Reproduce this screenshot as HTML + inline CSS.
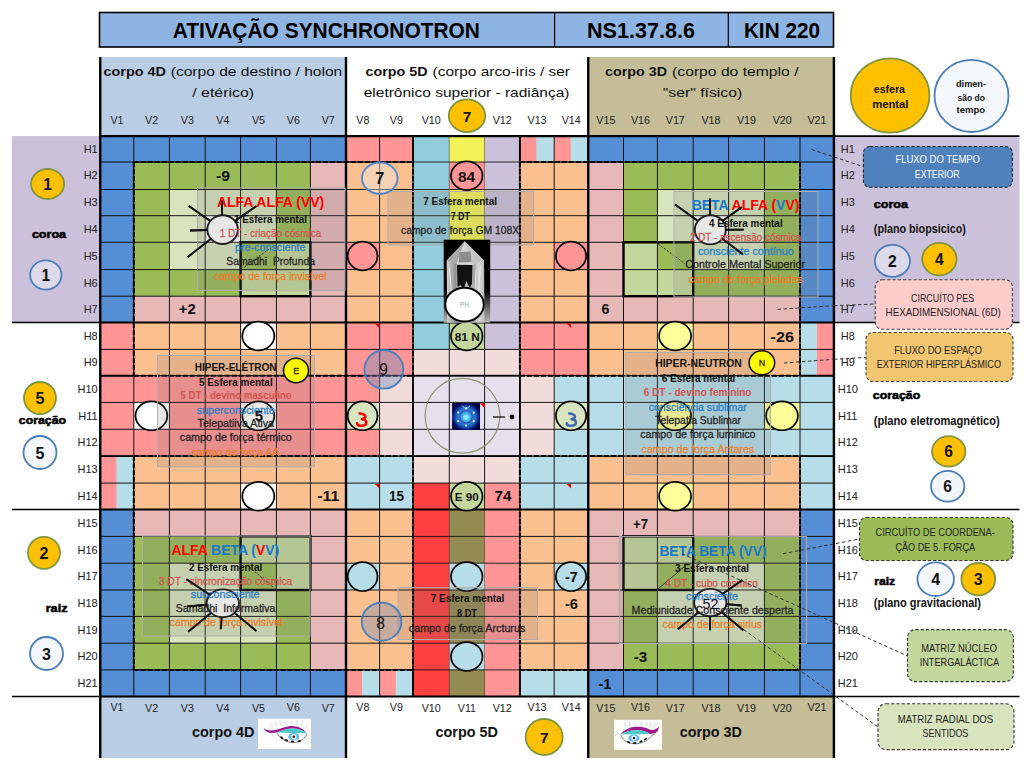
<!DOCTYPE html>
<html><head><meta charset="utf-8"><title>Ativação Synchronotron</title>
<style>html,body{margin:0;padding:0;background:#fff;}body{width:1024px;height:765px;overflow:hidden;font-family:"Liberation Sans",sans-serif;}svg{display:block}</style>
</head><body>
<svg width="1024" height="765" viewBox="0 0 1024 765" font-family="Liberation Sans, sans-serif">
<rect x="12.00" y="136.10" width="88.00" height="186.40" fill="#CCC1DA" />
<rect x="834.00" y="136.10" width="185.50" height="186.40" fill="#CCC1DA" />
<rect x="99.50" y="12.50" width="734.00" height="34.50" fill="#8EB4E3" stroke="#000" stroke-width="1.6"/>
<line x1="554.60" y1="12.50" x2="554.60" y2="47.00" stroke="#000" stroke-width="1.2" />
<line x1="728.30" y1="12.50" x2="728.30" y2="47.00" stroke="#000" stroke-width="1.2" />
<rect x="100.00" y="57.00" width="246.00" height="79.10" fill="#B9CDE5" />
<rect x="588.00" y="57.00" width="246.00" height="79.10" fill="#C4BD97" />
<rect x="100.00" y="696.50" width="246.00" height="61.50" fill="#B9CDE5" />
<rect x="588.00" y="696.50" width="246.00" height="61.50" fill="#C4BD97" />
<rect x="100.25" y="136.10" width="33.85" height="26.20" fill="#558ED5" />
<rect x="133.80" y="136.10" width="35.90" height="26.20" fill="#558ED5" />
<rect x="169.40" y="136.10" width="36.10" height="26.20" fill="#558ED5" />
<rect x="205.20" y="136.10" width="35.70" height="26.20" fill="#558ED5" />
<rect x="240.60" y="136.10" width="36.10" height="26.20" fill="#558ED5" />
<rect x="276.40" y="136.10" width="34.30" height="26.20" fill="#558ED5" />
<rect x="310.40" y="136.10" width="35.90" height="26.20" fill="#558ED5" />
<rect x="346.00" y="136.10" width="33.90" height="26.20" fill="#FF9595" />
<rect x="379.60" y="136.10" width="33.70" height="26.20" fill="#FF9595" />
<rect x="413.00" y="136.10" width="36.60" height="26.20" fill="#93CDDD" />
<rect x="449.30" y="136.10" width="35.60" height="26.20" fill="#F3F359" />
<rect x="484.60" y="136.10" width="35.60" height="26.20" fill="#CCC1DA" />
<rect x="519.90" y="136.10" width="16.94" height="26.20" fill="#FF9595" />
<rect x="536.54" y="136.10" width="17.96" height="26.20" fill="#B7DEE8" />
<rect x="554.20" y="136.10" width="16.81" height="26.20" fill="#FF9595" />
<rect x="570.71" y="136.10" width="17.84" height="26.20" fill="#B7DEE8" />
<rect x="588.25" y="136.10" width="35.55" height="26.20" fill="#558ED5" />
<rect x="623.50" y="136.10" width="34.20" height="26.20" fill="#558ED5" />
<rect x="657.40" y="136.10" width="36.10" height="26.20" fill="#558ED5" />
<rect x="693.20" y="136.10" width="35.70" height="26.20" fill="#558ED5" />
<rect x="728.60" y="136.10" width="36.10" height="26.20" fill="#558ED5" />
<rect x="764.40" y="136.10" width="35.90" height="26.20" fill="#558ED5" />
<rect x="800.00" y="136.10" width="34.20" height="26.20" fill="#558ED5" />
<rect x="100.25" y="162.00" width="33.85" height="27.80" fill="#558ED5" />
<rect x="133.80" y="162.00" width="35.90" height="27.80" fill="#9BBB59" />
<rect x="169.40" y="162.00" width="36.10" height="27.80" fill="#9BBB59" />
<rect x="205.20" y="162.00" width="35.70" height="27.80" fill="#9BBB59" />
<rect x="240.60" y="162.00" width="36.10" height="27.80" fill="#9BBB59" />
<rect x="276.40" y="162.00" width="34.30" height="27.80" fill="#9BBB59" />
<rect x="310.40" y="162.00" width="35.90" height="27.80" fill="#E6B9B8" />
<rect x="346.00" y="162.00" width="33.90" height="27.80" fill="#FAC090" />
<rect x="379.60" y="162.00" width="33.70" height="27.80" fill="#FAC090" />
<rect x="413.00" y="162.00" width="36.60" height="27.80" fill="#93CDDD" />
<rect x="449.30" y="162.00" width="35.60" height="27.80" fill="#FF9595" />
<rect x="484.60" y="162.00" width="35.60" height="27.80" fill="#CCC1DA" />
<rect x="519.90" y="162.00" width="34.60" height="27.80" fill="#FAC090" />
<rect x="554.20" y="162.00" width="34.35" height="27.80" fill="#FAC090" />
<rect x="588.25" y="162.00" width="35.55" height="27.80" fill="#E6B9B8" />
<rect x="623.50" y="162.00" width="34.20" height="27.80" fill="#9BBB59" />
<rect x="657.40" y="162.00" width="36.10" height="27.80" fill="#9BBB59" />
<rect x="693.20" y="162.00" width="35.70" height="27.80" fill="#9BBB59" />
<rect x="728.60" y="162.00" width="36.10" height="27.80" fill="#9BBB59" />
<rect x="764.40" y="162.00" width="35.90" height="27.80" fill="#9BBB59" />
<rect x="800.00" y="162.00" width="34.20" height="27.80" fill="#558ED5" />
<rect x="100.25" y="189.50" width="33.85" height="26.50" fill="#558ED5" />
<rect x="133.80" y="189.50" width="35.90" height="26.50" fill="#9BBB59" />
<rect x="169.40" y="189.50" width="36.10" height="26.50" fill="#D7E4BD" />
<rect x="205.20" y="189.50" width="35.70" height="26.50" fill="#D7E4BD" />
<rect x="240.60" y="189.50" width="36.10" height="26.50" fill="#D7E4BD" />
<rect x="276.40" y="189.50" width="34.30" height="26.50" fill="#9BBB59" />
<rect x="310.40" y="189.50" width="35.90" height="26.50" fill="#E6B9B8" />
<rect x="346.00" y="189.50" width="33.90" height="26.50" fill="#FAC090" />
<rect x="379.60" y="189.50" width="33.70" height="26.50" fill="#FAC090" />
<rect x="413.00" y="189.50" width="36.60" height="26.50" fill="#93CDDD" />
<rect x="449.30" y="189.50" width="35.60" height="26.50" fill="#F3F359" />
<rect x="484.60" y="189.50" width="35.60" height="26.50" fill="#CCC1DA" />
<rect x="519.90" y="189.50" width="34.60" height="26.50" fill="#FAC090" />
<rect x="554.20" y="189.50" width="34.35" height="26.50" fill="#FAC090" />
<rect x="588.25" y="189.50" width="35.55" height="26.50" fill="#E6B9B8" />
<rect x="623.50" y="189.50" width="34.20" height="26.50" fill="#9BBB59" />
<rect x="657.40" y="189.50" width="36.10" height="26.50" fill="#D7E4BD" />
<rect x="693.20" y="189.50" width="35.70" height="26.50" fill="#D7E4BD" />
<rect x="728.60" y="189.50" width="36.10" height="26.50" fill="#D7E4BD" />
<rect x="764.40" y="189.50" width="35.90" height="26.50" fill="#9BBB59" />
<rect x="800.00" y="189.50" width="34.20" height="26.50" fill="#558ED5" />
<rect x="100.25" y="215.70" width="33.85" height="26.90" fill="#558ED5" />
<rect x="133.80" y="215.70" width="35.90" height="26.90" fill="#9BBB59" />
<rect x="169.40" y="215.70" width="36.10" height="26.90" fill="#D7E4BD" />
<rect x="205.20" y="215.70" width="35.70" height="26.90" fill="#FFFFFF" />
<rect x="240.60" y="215.70" width="36.10" height="26.90" fill="#D7E4BD" />
<rect x="276.40" y="215.70" width="34.30" height="26.90" fill="#9BBB59" />
<rect x="310.40" y="215.70" width="35.90" height="26.90" fill="#E6B9B8" />
<rect x="346.00" y="215.70" width="33.90" height="26.90" fill="#FAC090" />
<rect x="379.60" y="215.70" width="33.70" height="26.90" fill="#FAC090" />
<rect x="413.00" y="215.70" width="36.60" height="26.90" fill="#93CDDD" />
<rect x="449.30" y="215.70" width="35.60" height="26.90" fill="#F3F359" />
<rect x="484.60" y="215.70" width="35.60" height="26.90" fill="#CCC1DA" />
<rect x="519.90" y="215.70" width="34.60" height="26.90" fill="#FAC090" />
<rect x="554.20" y="215.70" width="34.35" height="26.90" fill="#FAC090" />
<rect x="588.25" y="215.70" width="35.55" height="26.90" fill="#E6B9B8" />
<rect x="623.50" y="215.70" width="34.20" height="26.90" fill="#9BBB59" />
<rect x="657.40" y="215.70" width="36.10" height="26.90" fill="#D7E4BD" />
<rect x="693.20" y="215.70" width="35.70" height="26.90" fill="#FFFFFF" />
<rect x="728.60" y="215.70" width="36.10" height="26.90" fill="#D7E4BD" />
<rect x="764.40" y="215.70" width="35.90" height="26.90" fill="#9BBB59" />
<rect x="800.00" y="215.70" width="34.20" height="26.90" fill="#558ED5" />
<rect x="100.25" y="242.30" width="33.85" height="27.60" fill="#558ED5" />
<rect x="133.80" y="242.30" width="35.90" height="27.60" fill="#9BBB59" />
<rect x="169.40" y="242.30" width="36.10" height="27.60" fill="#D7E4BD" />
<rect x="205.20" y="242.30" width="35.70" height="27.60" fill="#D7E4BD" />
<rect x="240.60" y="242.30" width="36.10" height="27.60" fill="#9BBB59" />
<rect x="276.40" y="242.30" width="34.30" height="27.60" fill="#C3D69B" />
<rect x="310.40" y="242.30" width="35.90" height="27.60" fill="#E6B9B8" />
<rect x="346.00" y="242.30" width="33.90" height="27.60" fill="#FF9595" />
<rect x="379.60" y="242.30" width="33.70" height="27.60" fill="#FAC090" />
<rect x="413.00" y="242.30" width="36.60" height="27.60" fill="#93CDDD" />
<rect x="449.30" y="242.30" width="35.60" height="27.60" fill="#F3F359" />
<rect x="484.60" y="242.30" width="35.60" height="27.60" fill="#CCC1DA" />
<rect x="519.90" y="242.30" width="34.60" height="27.60" fill="#FAC090" />
<rect x="554.20" y="242.30" width="34.35" height="27.60" fill="#FF9595" />
<rect x="588.25" y="242.30" width="35.55" height="27.60" fill="#E6B9B8" />
<rect x="623.50" y="242.30" width="34.20" height="27.60" fill="#C3D69B" />
<rect x="657.40" y="242.30" width="36.10" height="27.60" fill="#9BBB59" />
<rect x="693.20" y="242.30" width="35.70" height="27.60" fill="#D7E4BD" />
<rect x="728.60" y="242.30" width="36.10" height="27.60" fill="#D7E4BD" />
<rect x="764.40" y="242.30" width="35.90" height="27.60" fill="#9BBB59" />
<rect x="800.00" y="242.30" width="34.20" height="27.60" fill="#558ED5" />
<rect x="100.25" y="269.60" width="33.85" height="26.90" fill="#558ED5" />
<rect x="133.80" y="269.60" width="35.90" height="26.90" fill="#9BBB59" />
<rect x="169.40" y="269.60" width="36.10" height="26.90" fill="#9BBB59" />
<rect x="205.20" y="269.60" width="35.70" height="26.90" fill="#9BBB59" />
<rect x="240.60" y="269.60" width="36.10" height="26.90" fill="#C3D69B" />
<rect x="276.40" y="269.60" width="34.30" height="26.90" fill="#C3D69B" />
<rect x="310.40" y="269.60" width="35.90" height="26.90" fill="#E6B9B8" />
<rect x="346.00" y="269.60" width="33.90" height="26.90" fill="#FAC090" />
<rect x="379.60" y="269.60" width="33.70" height="26.90" fill="#FAC090" />
<rect x="413.00" y="269.60" width="36.60" height="26.90" fill="#93CDDD" />
<rect x="449.30" y="269.60" width="35.60" height="26.90" fill="#F3F359" />
<rect x="484.60" y="269.60" width="35.60" height="26.90" fill="#CCC1DA" />
<rect x="519.90" y="269.60" width="34.60" height="26.90" fill="#FAC090" />
<rect x="554.20" y="269.60" width="34.35" height="26.90" fill="#FAC090" />
<rect x="588.25" y="269.60" width="35.55" height="26.90" fill="#E6B9B8" />
<rect x="623.50" y="269.60" width="34.20" height="26.90" fill="#C3D69B" />
<rect x="657.40" y="269.60" width="36.10" height="26.90" fill="#C3D69B" />
<rect x="693.20" y="269.60" width="35.70" height="26.90" fill="#9BBB59" />
<rect x="728.60" y="269.60" width="36.10" height="26.90" fill="#9BBB59" />
<rect x="764.40" y="269.60" width="35.90" height="26.90" fill="#9BBB59" />
<rect x="800.00" y="269.60" width="34.20" height="26.90" fill="#558ED5" />
<rect x="100.25" y="296.20" width="33.85" height="26.60" fill="#558ED5" />
<rect x="133.80" y="296.20" width="35.90" height="26.60" fill="#E6B9B8" />
<rect x="169.40" y="296.20" width="36.10" height="26.60" fill="#E6B9B8" />
<rect x="205.20" y="296.20" width="35.70" height="26.60" fill="#E6B9B8" />
<rect x="240.60" y="296.20" width="36.10" height="26.60" fill="#E6B9B8" />
<rect x="276.40" y="296.20" width="34.30" height="26.60" fill="#E6B9B8" />
<rect x="310.40" y="296.20" width="35.90" height="26.60" fill="#E6B9B8" />
<rect x="346.00" y="296.20" width="33.90" height="26.60" fill="#FAC090" />
<rect x="379.60" y="296.20" width="33.70" height="26.60" fill="#FAC090" />
<rect x="413.00" y="296.20" width="36.60" height="26.60" fill="#93CDDD" />
<rect x="449.30" y="296.20" width="35.60" height="26.60" fill="#F3F359" />
<rect x="484.60" y="296.20" width="35.60" height="26.60" fill="#CCC1DA" />
<rect x="519.90" y="296.20" width="34.60" height="26.60" fill="#FAC090" />
<rect x="554.20" y="296.20" width="34.35" height="26.60" fill="#FAC090" />
<rect x="588.25" y="296.20" width="35.55" height="26.60" fill="#E6B9B8" />
<rect x="623.50" y="296.20" width="34.20" height="26.60" fill="#E6B9B8" />
<rect x="657.40" y="296.20" width="36.10" height="26.60" fill="#E6B9B8" />
<rect x="693.20" y="296.20" width="35.70" height="26.60" fill="#E6B9B8" />
<rect x="728.60" y="296.20" width="36.10" height="26.60" fill="#E6B9B8" />
<rect x="764.40" y="296.20" width="35.90" height="26.60" fill="#E6B9B8" />
<rect x="800.00" y="296.20" width="34.20" height="26.60" fill="#558ED5" />
<rect x="100.25" y="322.50" width="33.85" height="27.20" fill="#FF9595" />
<rect x="133.80" y="322.50" width="35.90" height="27.20" fill="#FAC090" />
<rect x="169.40" y="322.50" width="36.10" height="27.20" fill="#FAC090" />
<rect x="205.20" y="322.50" width="35.70" height="27.20" fill="#FAC090" />
<rect x="240.60" y="322.50" width="36.10" height="27.20" fill="#FFFFFF" />
<rect x="276.40" y="322.50" width="34.30" height="27.20" fill="#FAC090" />
<rect x="310.40" y="322.50" width="35.90" height="27.20" fill="#FAC090" />
<rect x="346.00" y="322.50" width="33.90" height="27.20" fill="#FF9595" />
<rect x="379.60" y="322.50" width="33.70" height="27.20" fill="#FF9595" />
<rect x="413.00" y="322.50" width="36.60" height="27.20" fill="#93CDDD" />
<rect x="449.30" y="322.50" width="35.60" height="27.20" fill="#C3D69B" />
<rect x="484.60" y="322.50" width="35.60" height="27.20" fill="#CCC1DA" />
<rect x="519.90" y="322.50" width="34.60" height="27.20" fill="#FF9595" />
<rect x="554.20" y="322.50" width="34.35" height="27.20" fill="#FF9595" />
<rect x="588.25" y="322.50" width="35.55" height="27.20" fill="#FAC090" />
<rect x="623.50" y="322.50" width="34.20" height="27.20" fill="#FAC090" />
<rect x="657.40" y="322.50" width="36.10" height="27.20" fill="#FFFF99" />
<rect x="693.20" y="322.50" width="35.70" height="27.20" fill="#FAC090" />
<rect x="728.60" y="322.50" width="36.10" height="27.20" fill="#FAC090" />
<rect x="764.40" y="322.50" width="35.90" height="27.20" fill="#FAC090" />
<rect x="800.00" y="322.50" width="17.25" height="27.20" fill="#B7DEE8" />
<rect x="816.95" y="322.50" width="17.25" height="27.20" fill="#FF9595" />
<rect x="100.25" y="349.40" width="33.85" height="26.60" fill="#FF9595" />
<rect x="133.80" y="349.40" width="35.90" height="26.60" fill="#FAC090" />
<rect x="169.40" y="349.40" width="36.10" height="26.60" fill="#FAC090" />
<rect x="205.20" y="349.40" width="35.70" height="26.60" fill="#FAC090" />
<rect x="240.60" y="349.40" width="36.10" height="26.60" fill="#FAC090" />
<rect x="276.40" y="349.40" width="34.30" height="26.60" fill="#FAC090" />
<rect x="310.40" y="349.40" width="35.90" height="26.60" fill="#FAC090" />
<rect x="346.00" y="349.40" width="33.90" height="26.60" fill="#FF9595" />
<rect x="379.60" y="349.40" width="33.70" height="26.60" fill="#FF9595" />
<rect x="413.00" y="349.40" width="36.60" height="26.60" fill="#F2DCDB" />
<rect x="449.30" y="349.40" width="35.60" height="26.60" fill="#F2DCDB" />
<rect x="484.60" y="349.40" width="35.60" height="26.60" fill="#F2DCDB" />
<rect x="519.90" y="349.40" width="34.60" height="26.60" fill="#FF9595" />
<rect x="554.20" y="349.40" width="34.35" height="26.60" fill="#FF9595" />
<rect x="588.25" y="349.40" width="35.55" height="26.60" fill="#FAC090" />
<rect x="623.50" y="349.40" width="34.20" height="26.60" fill="#FAC090" />
<rect x="657.40" y="349.40" width="36.10" height="26.60" fill="#FAC090" />
<rect x="693.20" y="349.40" width="35.70" height="26.60" fill="#FAC090" />
<rect x="728.60" y="349.40" width="36.10" height="26.60" fill="#FAC090" />
<rect x="764.40" y="349.40" width="35.90" height="26.60" fill="#FAC090" />
<rect x="800.00" y="349.40" width="17.25" height="26.60" fill="#B7DEE8" />
<rect x="816.95" y="349.40" width="17.25" height="26.60" fill="#FF9595" />
<rect x="100.25" y="375.70" width="33.85" height="27.00" fill="#FF9595" />
<rect x="133.80" y="375.70" width="35.90" height="27.00" fill="#FF9595" />
<rect x="169.40" y="375.70" width="36.10" height="27.00" fill="#FF9595" />
<rect x="205.20" y="375.70" width="35.70" height="27.00" fill="#FF9595" />
<rect x="240.60" y="375.70" width="36.10" height="27.00" fill="#FF9595" />
<rect x="276.40" y="375.70" width="34.30" height="27.00" fill="#FF9595" />
<rect x="310.40" y="375.70" width="35.90" height="27.00" fill="#FF9595" />
<rect x="346.00" y="375.70" width="33.90" height="27.00" fill="#FF9595" />
<rect x="379.60" y="375.70" width="33.70" height="27.00" fill="#F2DCDB" />
<rect x="413.00" y="375.70" width="36.60" height="27.00" fill="#E6E0EC" />
<rect x="449.30" y="375.70" width="35.60" height="27.00" fill="#E6E0EC" />
<rect x="484.60" y="375.70" width="35.60" height="27.00" fill="#E6E0EC" />
<rect x="519.90" y="375.70" width="34.60" height="27.00" fill="#F2DCDB" />
<rect x="554.20" y="375.70" width="34.35" height="27.00" fill="#B7DEE8" />
<rect x="588.25" y="375.70" width="35.55" height="27.00" fill="#B7DEE8" />
<rect x="623.50" y="375.70" width="34.20" height="27.00" fill="#B7DEE8" />
<rect x="657.40" y="375.70" width="36.10" height="27.00" fill="#B7DEE8" />
<rect x="693.20" y="375.70" width="35.70" height="27.00" fill="#B7DEE8" />
<rect x="728.60" y="375.70" width="36.10" height="27.00" fill="#B7DEE8" />
<rect x="764.40" y="375.70" width="35.90" height="27.00" fill="#B7DEE8" />
<rect x="800.00" y="375.70" width="34.20" height="27.00" fill="#B7DEE8" />
<rect x="100.25" y="402.40" width="33.85" height="27.20" fill="#FF9595" />
<rect x="133.80" y="402.40" width="35.90" height="27.20" fill="#FFFFFF" />
<rect x="169.40" y="402.40" width="36.10" height="27.20" fill="#FF9595" />
<rect x="205.20" y="402.40" width="35.70" height="27.20" fill="#FF9595" />
<rect x="240.60" y="402.40" width="36.10" height="27.20" fill="#FFFFFF" />
<rect x="276.40" y="402.40" width="34.30" height="27.20" fill="#FF9595" />
<rect x="310.40" y="402.40" width="35.90" height="27.20" fill="#FF9595" />
<rect x="346.00" y="402.40" width="33.90" height="27.20" fill="#D7E4BD" />
<rect x="379.60" y="402.40" width="33.70" height="27.20" fill="#F2DCDB" />
<rect x="413.00" y="402.40" width="36.60" height="27.20" fill="#E6E0EC" />
<rect x="449.30" y="402.40" width="35.60" height="27.20" fill="#E6E0EC" />
<rect x="484.60" y="402.40" width="35.60" height="27.20" fill="#E6E0EC" />
<rect x="519.90" y="402.40" width="34.60" height="27.20" fill="#F2DCDB" />
<rect x="554.20" y="402.40" width="34.35" height="27.20" fill="#D7E4BD" />
<rect x="588.25" y="402.40" width="35.55" height="27.20" fill="#B7DEE8" />
<rect x="623.50" y="402.40" width="34.20" height="27.20" fill="#B7DEE8" />
<rect x="657.40" y="402.40" width="36.10" height="27.20" fill="#FFFF99" />
<rect x="693.20" y="402.40" width="35.70" height="27.20" fill="#B7DEE8" />
<rect x="728.60" y="402.40" width="36.10" height="27.20" fill="#B7DEE8" />
<rect x="764.40" y="402.40" width="35.90" height="27.20" fill="#FFFF99" />
<rect x="800.00" y="402.40" width="34.20" height="27.20" fill="#B7DEE8" />
<rect x="100.25" y="429.30" width="33.85" height="27.10" fill="#FF9595" />
<rect x="133.80" y="429.30" width="35.90" height="27.10" fill="#FF9595" />
<rect x="169.40" y="429.30" width="36.10" height="27.10" fill="#FF9595" />
<rect x="205.20" y="429.30" width="35.70" height="27.10" fill="#FF9595" />
<rect x="240.60" y="429.30" width="36.10" height="27.10" fill="#FF9595" />
<rect x="276.40" y="429.30" width="34.30" height="27.10" fill="#FF9595" />
<rect x="310.40" y="429.30" width="35.90" height="27.10" fill="#FF9595" />
<rect x="346.00" y="429.30" width="33.90" height="27.10" fill="#FF9595" />
<rect x="379.60" y="429.30" width="33.70" height="27.10" fill="#F2DCDB" />
<rect x="413.00" y="429.30" width="36.60" height="27.10" fill="#E6E0EC" />
<rect x="449.30" y="429.30" width="35.60" height="27.10" fill="#E6E0EC" />
<rect x="484.60" y="429.30" width="35.60" height="27.10" fill="#E6E0EC" />
<rect x="519.90" y="429.30" width="34.60" height="27.10" fill="#F2DCDB" />
<rect x="554.20" y="429.30" width="34.35" height="27.10" fill="#B7DEE8" />
<rect x="588.25" y="429.30" width="35.55" height="27.10" fill="#B7DEE8" />
<rect x="623.50" y="429.30" width="34.20" height="27.10" fill="#B7DEE8" />
<rect x="657.40" y="429.30" width="36.10" height="27.10" fill="#B7DEE8" />
<rect x="693.20" y="429.30" width="35.70" height="27.10" fill="#B7DEE8" />
<rect x="728.60" y="429.30" width="36.10" height="27.10" fill="#B7DEE8" />
<rect x="764.40" y="429.30" width="35.90" height="27.10" fill="#B7DEE8" />
<rect x="800.00" y="429.30" width="34.20" height="27.10" fill="#B7DEE8" />
<rect x="100.25" y="456.10" width="16.57" height="27.30" fill="#FF9595" />
<rect x="116.52" y="456.10" width="17.58" height="27.30" fill="#B7DEE8" />
<rect x="133.80" y="456.10" width="35.90" height="27.30" fill="#FAC090" />
<rect x="169.40" y="456.10" width="36.10" height="27.30" fill="#FAC090" />
<rect x="205.20" y="456.10" width="35.70" height="27.30" fill="#FAC090" />
<rect x="240.60" y="456.10" width="36.10" height="27.30" fill="#FAC090" />
<rect x="276.40" y="456.10" width="34.30" height="27.30" fill="#FAC090" />
<rect x="310.40" y="456.10" width="35.90" height="27.30" fill="#FAC090" />
<rect x="346.00" y="456.10" width="33.90" height="27.30" fill="#B7DEE8" />
<rect x="379.60" y="456.10" width="33.70" height="27.30" fill="#B7DEE8" />
<rect x="413.00" y="456.10" width="36.60" height="27.30" fill="#F2DCDB" />
<rect x="449.30" y="456.10" width="35.60" height="27.30" fill="#F2DCDB" />
<rect x="484.60" y="456.10" width="35.60" height="27.30" fill="#F2DCDB" />
<rect x="519.90" y="456.10" width="34.60" height="27.30" fill="#B7DEE8" />
<rect x="554.20" y="456.10" width="34.35" height="27.30" fill="#B7DEE8" />
<rect x="588.25" y="456.10" width="35.55" height="27.30" fill="#FAC090" />
<rect x="623.50" y="456.10" width="34.20" height="27.30" fill="#FAC090" />
<rect x="657.40" y="456.10" width="36.10" height="27.30" fill="#FAC090" />
<rect x="693.20" y="456.10" width="35.70" height="27.30" fill="#FAC090" />
<rect x="728.60" y="456.10" width="36.10" height="27.30" fill="#FAC090" />
<rect x="764.40" y="456.10" width="35.90" height="27.30" fill="#FAC090" />
<rect x="800.00" y="456.10" width="34.20" height="27.30" fill="#B7DEE8" />
<rect x="100.25" y="483.10" width="16.57" height="26.70" fill="#FF9595" />
<rect x="116.52" y="483.10" width="17.58" height="26.70" fill="#B7DEE8" />
<rect x="133.80" y="483.10" width="35.90" height="26.70" fill="#FAC090" />
<rect x="169.40" y="483.10" width="36.10" height="26.70" fill="#FAC090" />
<rect x="205.20" y="483.10" width="35.70" height="26.70" fill="#FAC090" />
<rect x="240.60" y="483.10" width="36.10" height="26.70" fill="#FFFFFF" />
<rect x="276.40" y="483.10" width="34.30" height="26.70" fill="#FAC090" />
<rect x="310.40" y="483.10" width="35.90" height="26.70" fill="#FAC090" />
<rect x="346.00" y="483.10" width="33.90" height="26.70" fill="#B7DEE8" />
<rect x="379.60" y="483.10" width="33.70" height="26.70" fill="#B7DEE8" />
<rect x="413.00" y="483.10" width="36.60" height="26.70" fill="#FF4040" />
<rect x="449.30" y="483.10" width="35.60" height="26.70" fill="#C3D69B" />
<rect x="484.60" y="483.10" width="35.60" height="26.70" fill="#FF9595" />
<rect x="519.90" y="483.10" width="34.60" height="26.70" fill="#B7DEE8" />
<rect x="554.20" y="483.10" width="34.35" height="26.70" fill="#B7DEE8" />
<rect x="588.25" y="483.10" width="35.55" height="26.70" fill="#FAC090" />
<rect x="623.50" y="483.10" width="34.20" height="26.70" fill="#FAC090" />
<rect x="657.40" y="483.10" width="36.10" height="26.70" fill="#FFFF99" />
<rect x="693.20" y="483.10" width="35.70" height="26.70" fill="#FAC090" />
<rect x="728.60" y="483.10" width="36.10" height="26.70" fill="#FAC090" />
<rect x="764.40" y="483.10" width="35.90" height="26.70" fill="#FAC090" />
<rect x="800.00" y="483.10" width="34.20" height="26.70" fill="#B7DEE8" />
<rect x="100.25" y="509.50" width="33.85" height="27.20" fill="#558ED5" />
<rect x="133.80" y="509.50" width="35.90" height="27.20" fill="#E6B9B8" />
<rect x="169.40" y="509.50" width="36.10" height="27.20" fill="#E6B9B8" />
<rect x="205.20" y="509.50" width="35.70" height="27.20" fill="#E6B9B8" />
<rect x="240.60" y="509.50" width="36.10" height="27.20" fill="#E6B9B8" />
<rect x="276.40" y="509.50" width="34.30" height="27.20" fill="#E6B9B8" />
<rect x="310.40" y="509.50" width="35.90" height="27.20" fill="#E6B9B8" />
<rect x="346.00" y="509.50" width="33.90" height="27.20" fill="#FAC090" />
<rect x="379.60" y="509.50" width="33.70" height="27.20" fill="#FAC090" />
<rect x="413.00" y="509.50" width="36.60" height="27.20" fill="#FF4040" />
<rect x="449.30" y="509.50" width="35.60" height="27.20" fill="#948A54" />
<rect x="484.60" y="509.50" width="35.60" height="27.20" fill="#FF9595" />
<rect x="519.90" y="509.50" width="34.60" height="27.20" fill="#FAC090" />
<rect x="554.20" y="509.50" width="34.35" height="27.20" fill="#FAC090" />
<rect x="588.25" y="509.50" width="35.55" height="27.20" fill="#E6B9B8" />
<rect x="623.50" y="509.50" width="34.20" height="27.20" fill="#E6B9B8" />
<rect x="657.40" y="509.50" width="36.10" height="27.20" fill="#E6B9B8" />
<rect x="693.20" y="509.50" width="35.70" height="27.20" fill="#E6B9B8" />
<rect x="728.60" y="509.50" width="36.10" height="27.20" fill="#E6B9B8" />
<rect x="764.40" y="509.50" width="35.90" height="27.20" fill="#E6B9B8" />
<rect x="800.00" y="509.50" width="34.20" height="27.20" fill="#558ED5" />
<rect x="100.25" y="536.40" width="33.85" height="27.10" fill="#558ED5" />
<rect x="133.80" y="536.40" width="35.90" height="27.10" fill="#9BBB59" />
<rect x="169.40" y="536.40" width="36.10" height="27.10" fill="#9BBB59" />
<rect x="205.20" y="536.40" width="35.70" height="27.10" fill="#9BBB59" />
<rect x="240.60" y="536.40" width="36.10" height="27.10" fill="#C3D69B" />
<rect x="276.40" y="536.40" width="34.30" height="27.10" fill="#C3D69B" />
<rect x="310.40" y="536.40" width="35.90" height="27.10" fill="#E6B9B8" />
<rect x="346.00" y="536.40" width="33.90" height="27.10" fill="#FAC090" />
<rect x="379.60" y="536.40" width="33.70" height="27.10" fill="#FAC090" />
<rect x="413.00" y="536.40" width="36.60" height="27.10" fill="#FF4040" />
<rect x="449.30" y="536.40" width="35.60" height="27.10" fill="#948A54" />
<rect x="484.60" y="536.40" width="35.60" height="27.10" fill="#FF9595" />
<rect x="519.90" y="536.40" width="34.60" height="27.10" fill="#FAC090" />
<rect x="554.20" y="536.40" width="34.35" height="27.10" fill="#FAC090" />
<rect x="588.25" y="536.40" width="35.55" height="27.10" fill="#E6B9B8" />
<rect x="623.50" y="536.40" width="34.20" height="27.10" fill="#C3D69B" />
<rect x="657.40" y="536.40" width="36.10" height="27.10" fill="#C3D69B" />
<rect x="693.20" y="536.40" width="35.70" height="27.10" fill="#9BBB59" />
<rect x="728.60" y="536.40" width="36.10" height="27.10" fill="#9BBB59" />
<rect x="764.40" y="536.40" width="35.90" height="27.10" fill="#9BBB59" />
<rect x="800.00" y="536.40" width="34.20" height="27.10" fill="#558ED5" />
<rect x="100.25" y="563.20" width="33.85" height="27.10" fill="#558ED5" />
<rect x="133.80" y="563.20" width="35.90" height="27.10" fill="#9BBB59" />
<rect x="169.40" y="563.20" width="36.10" height="27.10" fill="#D7E4BD" />
<rect x="205.20" y="563.20" width="35.70" height="27.10" fill="#D7E4BD" />
<rect x="240.60" y="563.20" width="36.10" height="27.10" fill="#9BBB59" />
<rect x="276.40" y="563.20" width="34.30" height="27.10" fill="#C3D69B" />
<rect x="310.40" y="563.20" width="35.90" height="27.10" fill="#E6B9B8" />
<rect x="346.00" y="563.20" width="33.90" height="27.10" fill="#B7DEE8" />
<rect x="379.60" y="563.20" width="33.70" height="27.10" fill="#FAC090" />
<rect x="413.00" y="563.20" width="36.60" height="27.10" fill="#FF4040" />
<rect x="449.30" y="563.20" width="35.60" height="27.10" fill="#B7DEE8" />
<rect x="484.60" y="563.20" width="35.60" height="27.10" fill="#FF9595" />
<rect x="519.90" y="563.20" width="34.60" height="27.10" fill="#FAC090" />
<rect x="554.20" y="563.20" width="34.35" height="27.10" fill="#B7DEE8" />
<rect x="588.25" y="563.20" width="35.55" height="27.10" fill="#E6B9B8" />
<rect x="623.50" y="563.20" width="34.20" height="27.10" fill="#C3D69B" />
<rect x="657.40" y="563.20" width="36.10" height="27.10" fill="#9BBB59" />
<rect x="693.20" y="563.20" width="35.70" height="27.10" fill="#D7E4BD" />
<rect x="728.60" y="563.20" width="36.10" height="27.10" fill="#D7E4BD" />
<rect x="764.40" y="563.20" width="35.90" height="27.10" fill="#9BBB59" />
<rect x="800.00" y="563.20" width="34.20" height="27.10" fill="#558ED5" />
<rect x="100.25" y="590.00" width="33.85" height="26.70" fill="#558ED5" />
<rect x="133.80" y="590.00" width="35.90" height="26.70" fill="#9BBB59" />
<rect x="169.40" y="590.00" width="36.10" height="26.70" fill="#D7E4BD" />
<rect x="205.20" y="590.00" width="35.70" height="26.70" fill="#FFFFFF" />
<rect x="240.60" y="590.00" width="36.10" height="26.70" fill="#D7E4BD" />
<rect x="276.40" y="590.00" width="34.30" height="26.70" fill="#9BBB59" />
<rect x="310.40" y="590.00" width="35.90" height="26.70" fill="#E6B9B8" />
<rect x="346.00" y="590.00" width="33.90" height="26.70" fill="#FAC090" />
<rect x="379.60" y="590.00" width="33.70" height="26.70" fill="#FAC090" />
<rect x="413.00" y="590.00" width="36.60" height="26.70" fill="#FF4040" />
<rect x="449.30" y="590.00" width="35.60" height="26.70" fill="#948A54" />
<rect x="484.60" y="590.00" width="35.60" height="26.70" fill="#FF9595" />
<rect x="519.90" y="590.00" width="34.60" height="26.70" fill="#FAC090" />
<rect x="554.20" y="590.00" width="34.35" height="26.70" fill="#FAC090" />
<rect x="588.25" y="590.00" width="35.55" height="26.70" fill="#E6B9B8" />
<rect x="623.50" y="590.00" width="34.20" height="26.70" fill="#9BBB59" />
<rect x="657.40" y="590.00" width="36.10" height="26.70" fill="#D7E4BD" />
<rect x="693.20" y="590.00" width="35.70" height="26.70" fill="#FFFFFF" />
<rect x="728.60" y="590.00" width="36.10" height="26.70" fill="#D7E4BD" />
<rect x="764.40" y="590.00" width="35.90" height="26.70" fill="#9BBB59" />
<rect x="800.00" y="590.00" width="34.20" height="26.70" fill="#558ED5" />
<rect x="100.25" y="616.40" width="33.85" height="27.10" fill="#558ED5" />
<rect x="133.80" y="616.40" width="35.90" height="27.10" fill="#9BBB59" />
<rect x="169.40" y="616.40" width="36.10" height="27.10" fill="#D7E4BD" />
<rect x="205.20" y="616.40" width="35.70" height="27.10" fill="#D7E4BD" />
<rect x="240.60" y="616.40" width="36.10" height="27.10" fill="#D7E4BD" />
<rect x="276.40" y="616.40" width="34.30" height="27.10" fill="#9BBB59" />
<rect x="310.40" y="616.40" width="35.90" height="27.10" fill="#E6B9B8" />
<rect x="346.00" y="616.40" width="33.90" height="27.10" fill="#FAC090" />
<rect x="379.60" y="616.40" width="33.70" height="27.10" fill="#FAC090" />
<rect x="413.00" y="616.40" width="36.60" height="27.10" fill="#FF4040" />
<rect x="449.30" y="616.40" width="35.60" height="27.10" fill="#948A54" />
<rect x="484.60" y="616.40" width="35.60" height="27.10" fill="#FF9595" />
<rect x="519.90" y="616.40" width="34.60" height="27.10" fill="#FAC090" />
<rect x="554.20" y="616.40" width="34.35" height="27.10" fill="#FAC090" />
<rect x="588.25" y="616.40" width="35.55" height="27.10" fill="#E6B9B8" />
<rect x="623.50" y="616.40" width="34.20" height="27.10" fill="#9BBB59" />
<rect x="657.40" y="616.40" width="36.10" height="27.10" fill="#D7E4BD" />
<rect x="693.20" y="616.40" width="35.70" height="27.10" fill="#D7E4BD" />
<rect x="728.60" y="616.40" width="36.10" height="27.10" fill="#D7E4BD" />
<rect x="764.40" y="616.40" width="35.90" height="27.10" fill="#9BBB59" />
<rect x="800.00" y="616.40" width="34.20" height="27.10" fill="#558ED5" />
<rect x="100.25" y="643.20" width="33.85" height="27.00" fill="#558ED5" />
<rect x="133.80" y="643.20" width="35.90" height="27.00" fill="#9BBB59" />
<rect x="169.40" y="643.20" width="36.10" height="27.00" fill="#9BBB59" />
<rect x="205.20" y="643.20" width="35.70" height="27.00" fill="#9BBB59" />
<rect x="240.60" y="643.20" width="36.10" height="27.00" fill="#9BBB59" />
<rect x="276.40" y="643.20" width="34.30" height="27.00" fill="#9BBB59" />
<rect x="310.40" y="643.20" width="35.90" height="27.00" fill="#E6B9B8" />
<rect x="346.00" y="643.20" width="33.90" height="27.00" fill="#FAC090" />
<rect x="379.60" y="643.20" width="33.70" height="27.00" fill="#FAC090" />
<rect x="413.00" y="643.20" width="36.60" height="27.00" fill="#FF4040" />
<rect x="449.30" y="643.20" width="35.60" height="27.00" fill="#B7DEE8" />
<rect x="484.60" y="643.20" width="35.60" height="27.00" fill="#FF9595" />
<rect x="519.90" y="643.20" width="34.60" height="27.00" fill="#FAC090" />
<rect x="554.20" y="643.20" width="34.35" height="27.00" fill="#FAC090" />
<rect x="588.25" y="643.20" width="35.55" height="27.00" fill="#E6B9B8" />
<rect x="623.50" y="643.20" width="34.20" height="27.00" fill="#9BBB59" />
<rect x="657.40" y="643.20" width="36.10" height="27.00" fill="#9BBB59" />
<rect x="693.20" y="643.20" width="35.70" height="27.00" fill="#9BBB59" />
<rect x="728.60" y="643.20" width="36.10" height="27.00" fill="#9BBB59" />
<rect x="764.40" y="643.20" width="35.90" height="27.00" fill="#9BBB59" />
<rect x="800.00" y="643.20" width="34.20" height="27.00" fill="#558ED5" />
<rect x="100.25" y="669.90" width="33.85" height="26.90" fill="#558ED5" />
<rect x="133.80" y="669.90" width="35.90" height="26.90" fill="#558ED5" />
<rect x="169.40" y="669.90" width="36.10" height="26.90" fill="#558ED5" />
<rect x="205.20" y="669.90" width="35.70" height="26.90" fill="#558ED5" />
<rect x="240.60" y="669.90" width="36.10" height="26.90" fill="#558ED5" />
<rect x="276.40" y="669.90" width="34.30" height="26.90" fill="#558ED5" />
<rect x="310.40" y="669.90" width="35.90" height="26.90" fill="#558ED5" />
<rect x="346.00" y="669.90" width="16.60" height="26.90" fill="#FF9595" />
<rect x="362.30" y="669.90" width="17.60" height="26.90" fill="#B7DEE8" />
<rect x="379.60" y="669.90" width="16.50" height="26.90" fill="#FF9595" />
<rect x="395.80" y="669.90" width="17.50" height="26.90" fill="#B7DEE8" />
<rect x="413.00" y="669.90" width="36.60" height="26.90" fill="#FF4040" />
<rect x="449.30" y="669.90" width="35.60" height="26.90" fill="#948A54" />
<rect x="484.60" y="669.90" width="35.60" height="26.90" fill="#FF9595" />
<rect x="519.90" y="669.90" width="34.60" height="26.90" fill="#B7DEE8" />
<rect x="554.20" y="669.90" width="34.35" height="26.90" fill="#B7DEE8" />
<rect x="588.25" y="669.90" width="35.55" height="26.90" fill="#558ED5" />
<rect x="623.50" y="669.90" width="34.20" height="26.90" fill="#558ED5" />
<rect x="657.40" y="669.90" width="36.10" height="26.90" fill="#558ED5" />
<rect x="693.20" y="669.90" width="35.70" height="26.90" fill="#558ED5" />
<rect x="728.60" y="669.90" width="36.10" height="26.90" fill="#558ED5" />
<rect x="764.40" y="669.90" width="35.90" height="26.90" fill="#558ED5" />
<rect x="800.00" y="669.90" width="34.20" height="26.90" fill="#558ED5" />
<line x1="100.25" y1="162.00" x2="133.80" y2="162.00" stroke="#000" stroke-width="1.0" opacity="0.9"/>
<line x1="133.80" y1="162.00" x2="169.40" y2="162.00" stroke="#000" stroke-width="1.0" opacity="0.9"/>
<line x1="169.40" y1="162.00" x2="205.20" y2="162.00" stroke="#000" stroke-width="1.0" opacity="0.9"/>
<line x1="205.20" y1="162.00" x2="240.60" y2="162.00" stroke="#000" stroke-width="1.0" opacity="0.9"/>
<line x1="240.60" y1="162.00" x2="276.40" y2="162.00" stroke="#000" stroke-width="1.0" opacity="0.9"/>
<line x1="276.40" y1="162.00" x2="310.40" y2="162.00" stroke="#000" stroke-width="1.0" opacity="0.9"/>
<line x1="310.40" y1="162.00" x2="346.00" y2="162.00" stroke="#000" stroke-width="1.0" opacity="0.9"/>
<line x1="346.00" y1="162.00" x2="379.60" y2="162.00" stroke="#000" stroke-width="1.0" opacity="0.9"/>
<line x1="379.60" y1="162.00" x2="413.00" y2="162.00" stroke="#000" stroke-width="1.0" opacity="0.9"/>
<line x1="413.00" y1="162.00" x2="449.30" y2="162.00" stroke="#000" stroke-width="0.9" opacity="0.88"/>
<line x1="449.30" y1="162.00" x2="484.60" y2="162.00" stroke="#000" stroke-width="0.9" opacity="0.88"/>
<line x1="484.60" y1="162.00" x2="519.90" y2="162.00" stroke="#000" stroke-width="0.9" opacity="0.88"/>
<line x1="519.90" y1="162.00" x2="554.20" y2="162.00" stroke="#000" stroke-width="1.0" opacity="0.9"/>
<line x1="554.20" y1="162.00" x2="588.25" y2="162.00" stroke="#000" stroke-width="1.0" opacity="0.9"/>
<line x1="588.25" y1="162.00" x2="623.50" y2="162.00" stroke="#000" stroke-width="1.0" opacity="0.9"/>
<line x1="623.50" y1="162.00" x2="657.40" y2="162.00" stroke="#000" stroke-width="1.0" opacity="0.9"/>
<line x1="657.40" y1="162.00" x2="693.20" y2="162.00" stroke="#000" stroke-width="1.0" opacity="0.9"/>
<line x1="693.20" y1="162.00" x2="728.60" y2="162.00" stroke="#000" stroke-width="1.0" opacity="0.9"/>
<line x1="728.60" y1="162.00" x2="764.40" y2="162.00" stroke="#000" stroke-width="1.0" opacity="0.9"/>
<line x1="764.40" y1="162.00" x2="800.00" y2="162.00" stroke="#000" stroke-width="1.0" opacity="0.9"/>
<line x1="800.00" y1="162.00" x2="833.90" y2="162.00" stroke="#000" stroke-width="1.0" opacity="0.9"/>
<line x1="100.25" y1="189.50" x2="133.80" y2="189.50" stroke="#000" stroke-width="1.0" opacity="0.9"/>
<line x1="133.80" y1="189.50" x2="169.40" y2="189.50" stroke="#000" stroke-width="1.0" opacity="0.9"/>
<line x1="169.40" y1="189.50" x2="205.20" y2="189.50" stroke="#000" stroke-width="1.0" opacity="0.9"/>
<line x1="205.20" y1="189.50" x2="240.60" y2="189.50" stroke="#000" stroke-width="1.0" opacity="0.9"/>
<line x1="240.60" y1="189.50" x2="276.40" y2="189.50" stroke="#000" stroke-width="1.0" opacity="0.9"/>
<line x1="276.40" y1="189.50" x2="310.40" y2="189.50" stroke="#000" stroke-width="1.0" opacity="0.9"/>
<line x1="310.40" y1="189.50" x2="346.00" y2="189.50" stroke="#000" stroke-width="1.0" opacity="0.9"/>
<line x1="346.00" y1="189.50" x2="379.60" y2="189.50" stroke="#000" stroke-width="1.0" opacity="0.9"/>
<line x1="379.60" y1="189.50" x2="413.00" y2="189.50" stroke="#000" stroke-width="1.0" opacity="0.9"/>
<line x1="413.00" y1="189.50" x2="449.30" y2="189.50" stroke="#000" stroke-width="0.9" opacity="0.88"/>
<line x1="449.30" y1="189.50" x2="484.60" y2="189.50" stroke="#000" stroke-width="0.9" opacity="0.88"/>
<line x1="484.60" y1="189.50" x2="519.90" y2="189.50" stroke="#000" stroke-width="0.9" opacity="0.88"/>
<line x1="519.90" y1="189.50" x2="554.20" y2="189.50" stroke="#000" stroke-width="1.0" opacity="0.9"/>
<line x1="554.20" y1="189.50" x2="588.25" y2="189.50" stroke="#000" stroke-width="1.0" opacity="0.9"/>
<line x1="588.25" y1="189.50" x2="623.50" y2="189.50" stroke="#000" stroke-width="1.0" opacity="0.9"/>
<line x1="623.50" y1="189.50" x2="657.40" y2="189.50" stroke="#000" stroke-width="1.0" opacity="0.9"/>
<line x1="657.40" y1="189.50" x2="693.20" y2="189.50" stroke="#000" stroke-width="1.0" opacity="0.9"/>
<line x1="693.20" y1="189.50" x2="728.60" y2="189.50" stroke="#000" stroke-width="1.0" opacity="0.9"/>
<line x1="728.60" y1="189.50" x2="764.40" y2="189.50" stroke="#000" stroke-width="1.0" opacity="0.9"/>
<line x1="764.40" y1="189.50" x2="800.00" y2="189.50" stroke="#000" stroke-width="1.0" opacity="0.9"/>
<line x1="800.00" y1="189.50" x2="833.90" y2="189.50" stroke="#000" stroke-width="1.0" opacity="0.9"/>
<line x1="100.25" y1="215.70" x2="133.80" y2="215.70" stroke="#000" stroke-width="1.0" opacity="0.9"/>
<line x1="133.80" y1="215.70" x2="169.40" y2="215.70" stroke="#000" stroke-width="1.0" opacity="0.9"/>
<line x1="169.40" y1="215.70" x2="205.20" y2="215.70" stroke="#000" stroke-width="1.0" opacity="0.9"/>
<line x1="205.20" y1="215.70" x2="240.60" y2="215.70" stroke="#000" stroke-width="1.0" opacity="0.9"/>
<line x1="240.60" y1="215.70" x2="276.40" y2="215.70" stroke="#000" stroke-width="1.0" opacity="0.9"/>
<line x1="276.40" y1="215.70" x2="310.40" y2="215.70" stroke="#000" stroke-width="1.0" opacity="0.9"/>
<line x1="310.40" y1="215.70" x2="346.00" y2="215.70" stroke="#000" stroke-width="1.0" opacity="0.9"/>
<line x1="346.00" y1="215.70" x2="379.60" y2="215.70" stroke="#000" stroke-width="1.0" opacity="0.9"/>
<line x1="379.60" y1="215.70" x2="413.00" y2="215.70" stroke="#000" stroke-width="1.0" opacity="0.9"/>
<line x1="413.00" y1="215.70" x2="449.30" y2="215.70" stroke="#000" stroke-width="0.9" opacity="0.88"/>
<line x1="449.30" y1="215.70" x2="484.60" y2="215.70" stroke="#000" stroke-width="0.9" opacity="0.88"/>
<line x1="484.60" y1="215.70" x2="519.90" y2="215.70" stroke="#000" stroke-width="0.9" opacity="0.88"/>
<line x1="519.90" y1="215.70" x2="554.20" y2="215.70" stroke="#000" stroke-width="1.0" opacity="0.9"/>
<line x1="554.20" y1="215.70" x2="588.25" y2="215.70" stroke="#000" stroke-width="1.0" opacity="0.9"/>
<line x1="588.25" y1="215.70" x2="623.50" y2="215.70" stroke="#000" stroke-width="1.0" opacity="0.9"/>
<line x1="623.50" y1="215.70" x2="657.40" y2="215.70" stroke="#000" stroke-width="1.0" opacity="0.9"/>
<line x1="657.40" y1="215.70" x2="693.20" y2="215.70" stroke="#000" stroke-width="1.0" opacity="0.9"/>
<line x1="693.20" y1="215.70" x2="728.60" y2="215.70" stroke="#000" stroke-width="1.0" opacity="0.9"/>
<line x1="728.60" y1="215.70" x2="764.40" y2="215.70" stroke="#000" stroke-width="1.0" opacity="0.9"/>
<line x1="764.40" y1="215.70" x2="800.00" y2="215.70" stroke="#000" stroke-width="1.0" opacity="0.9"/>
<line x1="800.00" y1="215.70" x2="833.90" y2="215.70" stroke="#000" stroke-width="1.0" opacity="0.9"/>
<line x1="100.25" y1="242.30" x2="133.80" y2="242.30" stroke="#000" stroke-width="1.0" opacity="0.9"/>
<line x1="133.80" y1="242.30" x2="169.40" y2="242.30" stroke="#000" stroke-width="1.0" opacity="0.9"/>
<line x1="169.40" y1="242.30" x2="205.20" y2="242.30" stroke="#000" stroke-width="1.0" opacity="0.9"/>
<line x1="205.20" y1="242.30" x2="240.60" y2="242.30" stroke="#000" stroke-width="1.0" opacity="0.9"/>
<line x1="240.60" y1="242.30" x2="276.40" y2="242.30" stroke="#000" stroke-width="1.0" opacity="0.9"/>
<line x1="276.40" y1="242.30" x2="310.40" y2="242.30" stroke="#000" stroke-width="1.0" opacity="0.9"/>
<line x1="310.40" y1="242.30" x2="346.00" y2="242.30" stroke="#000" stroke-width="1.0" opacity="0.9"/>
<line x1="346.00" y1="242.30" x2="379.60" y2="242.30" stroke="#000" stroke-width="1.0" opacity="0.9"/>
<line x1="379.60" y1="242.30" x2="413.00" y2="242.30" stroke="#000" stroke-width="1.0" opacity="0.9"/>
<line x1="413.00" y1="242.30" x2="449.30" y2="242.30" stroke="#000" stroke-width="0.9" opacity="0.88"/>
<line x1="449.30" y1="242.30" x2="484.60" y2="242.30" stroke="#000" stroke-width="0.9" opacity="0.88"/>
<line x1="484.60" y1="242.30" x2="519.90" y2="242.30" stroke="#000" stroke-width="0.9" opacity="0.88"/>
<line x1="519.90" y1="242.30" x2="554.20" y2="242.30" stroke="#000" stroke-width="1.0" opacity="0.9"/>
<line x1="554.20" y1="242.30" x2="588.25" y2="242.30" stroke="#000" stroke-width="1.0" opacity="0.9"/>
<line x1="588.25" y1="242.30" x2="623.50" y2="242.30" stroke="#000" stroke-width="1.0" opacity="0.9"/>
<line x1="623.50" y1="242.30" x2="657.40" y2="242.30" stroke="#000" stroke-width="1.0" opacity="0.9"/>
<line x1="657.40" y1="242.30" x2="693.20" y2="242.30" stroke="#000" stroke-width="1.0" opacity="0.9"/>
<line x1="693.20" y1="242.30" x2="728.60" y2="242.30" stroke="#000" stroke-width="1.0" opacity="0.9"/>
<line x1="728.60" y1="242.30" x2="764.40" y2="242.30" stroke="#000" stroke-width="1.0" opacity="0.9"/>
<line x1="764.40" y1="242.30" x2="800.00" y2="242.30" stroke="#000" stroke-width="1.0" opacity="0.9"/>
<line x1="800.00" y1="242.30" x2="833.90" y2="242.30" stroke="#000" stroke-width="1.0" opacity="0.9"/>
<line x1="100.25" y1="269.60" x2="133.80" y2="269.60" stroke="#000" stroke-width="1.0" opacity="0.9"/>
<line x1="133.80" y1="269.60" x2="169.40" y2="269.60" stroke="#000" stroke-width="1.0" opacity="0.9"/>
<line x1="169.40" y1="269.60" x2="205.20" y2="269.60" stroke="#000" stroke-width="1.0" opacity="0.9"/>
<line x1="205.20" y1="269.60" x2="240.60" y2="269.60" stroke="#000" stroke-width="1.0" opacity="0.9"/>
<line x1="240.60" y1="269.60" x2="276.40" y2="269.60" stroke="#000" stroke-width="1.0" opacity="0.9"/>
<line x1="276.40" y1="269.60" x2="310.40" y2="269.60" stroke="#000" stroke-width="1.0" opacity="0.9"/>
<line x1="310.40" y1="269.60" x2="346.00" y2="269.60" stroke="#000" stroke-width="1.0" opacity="0.9"/>
<line x1="346.00" y1="269.60" x2="379.60" y2="269.60" stroke="#000" stroke-width="1.0" opacity="0.9"/>
<line x1="379.60" y1="269.60" x2="413.00" y2="269.60" stroke="#000" stroke-width="1.0" opacity="0.9"/>
<line x1="413.00" y1="269.60" x2="449.30" y2="269.60" stroke="#000" stroke-width="0.9" opacity="0.88"/>
<line x1="449.30" y1="269.60" x2="484.60" y2="269.60" stroke="#000" stroke-width="0.9" opacity="0.88"/>
<line x1="484.60" y1="269.60" x2="519.90" y2="269.60" stroke="#000" stroke-width="0.9" opacity="0.88"/>
<line x1="519.90" y1="269.60" x2="554.20" y2="269.60" stroke="#000" stroke-width="1.0" opacity="0.9"/>
<line x1="554.20" y1="269.60" x2="588.25" y2="269.60" stroke="#000" stroke-width="1.0" opacity="0.9"/>
<line x1="588.25" y1="269.60" x2="623.50" y2="269.60" stroke="#000" stroke-width="1.0" opacity="0.9"/>
<line x1="623.50" y1="269.60" x2="657.40" y2="269.60" stroke="#000" stroke-width="1.0" opacity="0.9"/>
<line x1="657.40" y1="269.60" x2="693.20" y2="269.60" stroke="#000" stroke-width="1.0" opacity="0.9"/>
<line x1="693.20" y1="269.60" x2="728.60" y2="269.60" stroke="#000" stroke-width="1.0" opacity="0.9"/>
<line x1="728.60" y1="269.60" x2="764.40" y2="269.60" stroke="#000" stroke-width="1.0" opacity="0.9"/>
<line x1="764.40" y1="269.60" x2="800.00" y2="269.60" stroke="#000" stroke-width="1.0" opacity="0.9"/>
<line x1="800.00" y1="269.60" x2="833.90" y2="269.60" stroke="#000" stroke-width="1.0" opacity="0.9"/>
<line x1="100.25" y1="296.20" x2="133.80" y2="296.20" stroke="#000" stroke-width="1.0" opacity="0.9"/>
<line x1="133.80" y1="296.20" x2="169.40" y2="296.20" stroke="#000" stroke-width="1.0" opacity="0.9"/>
<line x1="169.40" y1="296.20" x2="205.20" y2="296.20" stroke="#000" stroke-width="1.0" opacity="0.9"/>
<line x1="205.20" y1="296.20" x2="240.60" y2="296.20" stroke="#000" stroke-width="1.0" opacity="0.9"/>
<line x1="240.60" y1="296.20" x2="276.40" y2="296.20" stroke="#000" stroke-width="1.0" opacity="0.9"/>
<line x1="276.40" y1="296.20" x2="310.40" y2="296.20" stroke="#000" stroke-width="1.0" opacity="0.9"/>
<line x1="310.40" y1="296.20" x2="346.00" y2="296.20" stroke="#000" stroke-width="1.0" opacity="0.9"/>
<line x1="346.00" y1="296.20" x2="379.60" y2="296.20" stroke="#000" stroke-width="1.0" opacity="0.9"/>
<line x1="379.60" y1="296.20" x2="413.00" y2="296.20" stroke="#000" stroke-width="1.0" opacity="0.9"/>
<line x1="413.00" y1="296.20" x2="449.30" y2="296.20" stroke="#000" stroke-width="0.9" opacity="0.88"/>
<line x1="449.30" y1="296.20" x2="484.60" y2="296.20" stroke="#000" stroke-width="0.9" opacity="0.88"/>
<line x1="484.60" y1="296.20" x2="519.90" y2="296.20" stroke="#000" stroke-width="0.9" opacity="0.88"/>
<line x1="519.90" y1="296.20" x2="554.20" y2="296.20" stroke="#000" stroke-width="1.0" opacity="0.9"/>
<line x1="554.20" y1="296.20" x2="588.25" y2="296.20" stroke="#000" stroke-width="1.0" opacity="0.9"/>
<line x1="588.25" y1="296.20" x2="623.50" y2="296.20" stroke="#000" stroke-width="1.0" opacity="0.9"/>
<line x1="623.50" y1="296.20" x2="657.40" y2="296.20" stroke="#000" stroke-width="1.0" opacity="0.9"/>
<line x1="657.40" y1="296.20" x2="693.20" y2="296.20" stroke="#000" stroke-width="1.0" opacity="0.9"/>
<line x1="693.20" y1="296.20" x2="728.60" y2="296.20" stroke="#000" stroke-width="1.0" opacity="0.9"/>
<line x1="728.60" y1="296.20" x2="764.40" y2="296.20" stroke="#000" stroke-width="1.0" opacity="0.9"/>
<line x1="764.40" y1="296.20" x2="800.00" y2="296.20" stroke="#000" stroke-width="1.0" opacity="0.9"/>
<line x1="800.00" y1="296.20" x2="833.90" y2="296.20" stroke="#000" stroke-width="1.0" opacity="0.9"/>
<line x1="100.25" y1="322.50" x2="133.80" y2="322.50" stroke="#000" stroke-width="1.0" opacity="0.9"/>
<line x1="133.80" y1="322.50" x2="169.40" y2="322.50" stroke="#000" stroke-width="1.0" opacity="0.9"/>
<line x1="169.40" y1="322.50" x2="205.20" y2="322.50" stroke="#000" stroke-width="1.0" opacity="0.9"/>
<line x1="205.20" y1="322.50" x2="240.60" y2="322.50" stroke="#000" stroke-width="1.0" opacity="0.9"/>
<line x1="240.60" y1="322.50" x2="276.40" y2="322.50" stroke="#000" stroke-width="1.0" opacity="0.9"/>
<line x1="276.40" y1="322.50" x2="310.40" y2="322.50" stroke="#000" stroke-width="1.0" opacity="0.9"/>
<line x1="310.40" y1="322.50" x2="346.00" y2="322.50" stroke="#000" stroke-width="1.0" opacity="0.9"/>
<line x1="346.00" y1="322.50" x2="379.60" y2="322.50" stroke="#000" stroke-width="1.0" opacity="0.9"/>
<line x1="379.60" y1="322.50" x2="413.00" y2="322.50" stroke="#000" stroke-width="1.0" opacity="0.9"/>
<line x1="413.00" y1="322.50" x2="449.30" y2="322.50" stroke="#000" stroke-width="1.0" opacity="0.9"/>
<line x1="449.30" y1="322.50" x2="484.60" y2="322.50" stroke="#000" stroke-width="1.0" opacity="0.9"/>
<line x1="484.60" y1="322.50" x2="519.90" y2="322.50" stroke="#000" stroke-width="1.0" opacity="0.9"/>
<line x1="519.90" y1="322.50" x2="554.20" y2="322.50" stroke="#000" stroke-width="1.0" opacity="0.9"/>
<line x1="554.20" y1="322.50" x2="588.25" y2="322.50" stroke="#000" stroke-width="1.0" opacity="0.9"/>
<line x1="588.25" y1="322.50" x2="623.50" y2="322.50" stroke="#000" stroke-width="1.0" opacity="0.9"/>
<line x1="623.50" y1="322.50" x2="657.40" y2="322.50" stroke="#000" stroke-width="1.0" opacity="0.9"/>
<line x1="657.40" y1="322.50" x2="693.20" y2="322.50" stroke="#000" stroke-width="1.0" opacity="0.9"/>
<line x1="693.20" y1="322.50" x2="728.60" y2="322.50" stroke="#000" stroke-width="1.0" opacity="0.9"/>
<line x1="728.60" y1="322.50" x2="764.40" y2="322.50" stroke="#000" stroke-width="1.0" opacity="0.9"/>
<line x1="764.40" y1="322.50" x2="800.00" y2="322.50" stroke="#000" stroke-width="1.0" opacity="0.9"/>
<line x1="800.00" y1="322.50" x2="833.90" y2="322.50" stroke="#000" stroke-width="1.0" opacity="0.9"/>
<line x1="100.25" y1="349.40" x2="133.80" y2="349.40" stroke="#000" stroke-width="1.0" opacity="0.9"/>
<line x1="133.80" y1="349.40" x2="169.40" y2="349.40" stroke="#000" stroke-width="1.0" opacity="0.9"/>
<line x1="169.40" y1="349.40" x2="205.20" y2="349.40" stroke="#000" stroke-width="1.0" opacity="0.9"/>
<line x1="205.20" y1="349.40" x2="240.60" y2="349.40" stroke="#000" stroke-width="1.0" opacity="0.9"/>
<line x1="240.60" y1="349.40" x2="276.40" y2="349.40" stroke="#000" stroke-width="1.0" opacity="0.9"/>
<line x1="276.40" y1="349.40" x2="310.40" y2="349.40" stroke="#000" stroke-width="1.0" opacity="0.9"/>
<line x1="310.40" y1="349.40" x2="346.00" y2="349.40" stroke="#000" stroke-width="1.0" opacity="0.9"/>
<line x1="346.00" y1="349.40" x2="379.60" y2="349.40" stroke="#000" stroke-width="1.0" opacity="0.9"/>
<line x1="379.60" y1="349.40" x2="413.00" y2="349.40" stroke="#000" stroke-width="1.0" opacity="0.9"/>
<line x1="413.00" y1="349.40" x2="449.30" y2="349.40" stroke="#000" stroke-width="1.0" opacity="0.9"/>
<line x1="449.30" y1="349.40" x2="484.60" y2="349.40" stroke="#000" stroke-width="1.0" opacity="0.9"/>
<line x1="484.60" y1="349.40" x2="519.90" y2="349.40" stroke="#000" stroke-width="1.0" opacity="0.9"/>
<line x1="519.90" y1="349.40" x2="554.20" y2="349.40" stroke="#000" stroke-width="1.0" opacity="0.9"/>
<line x1="554.20" y1="349.40" x2="588.25" y2="349.40" stroke="#000" stroke-width="1.0" opacity="0.9"/>
<line x1="588.25" y1="349.40" x2="623.50" y2="349.40" stroke="#000" stroke-width="1.0" opacity="0.9"/>
<line x1="623.50" y1="349.40" x2="657.40" y2="349.40" stroke="#000" stroke-width="1.0" opacity="0.9"/>
<line x1="657.40" y1="349.40" x2="693.20" y2="349.40" stroke="#000" stroke-width="1.0" opacity="0.9"/>
<line x1="693.20" y1="349.40" x2="728.60" y2="349.40" stroke="#000" stroke-width="1.0" opacity="0.9"/>
<line x1="728.60" y1="349.40" x2="764.40" y2="349.40" stroke="#000" stroke-width="1.0" opacity="0.9"/>
<line x1="764.40" y1="349.40" x2="800.00" y2="349.40" stroke="#000" stroke-width="1.0" opacity="0.9"/>
<line x1="800.00" y1="349.40" x2="833.90" y2="349.40" stroke="#000" stroke-width="1.0" opacity="0.9"/>
<line x1="100.25" y1="375.70" x2="133.80" y2="375.70" stroke="#000" stroke-width="1.0" opacity="0.9"/>
<line x1="133.80" y1="375.70" x2="169.40" y2="375.70" stroke="#000" stroke-width="1.0" opacity="0.9"/>
<line x1="169.40" y1="375.70" x2="205.20" y2="375.70" stroke="#000" stroke-width="1.0" opacity="0.9"/>
<line x1="205.20" y1="375.70" x2="240.60" y2="375.70" stroke="#000" stroke-width="1.0" opacity="0.9"/>
<line x1="240.60" y1="375.70" x2="276.40" y2="375.70" stroke="#000" stroke-width="1.0" opacity="0.9"/>
<line x1="276.40" y1="375.70" x2="310.40" y2="375.70" stroke="#000" stroke-width="1.0" opacity="0.9"/>
<line x1="310.40" y1="375.70" x2="346.00" y2="375.70" stroke="#000" stroke-width="1.0" opacity="0.9"/>
<line x1="346.00" y1="375.70" x2="379.60" y2="375.70" stroke="#000" stroke-width="1.0" opacity="0.9"/>
<line x1="379.60" y1="375.70" x2="413.00" y2="375.70" stroke="#000" stroke-width="1.0" opacity="0.9"/>
<line x1="413.00" y1="375.70" x2="449.30" y2="375.70" stroke="#000" stroke-width="1.0" opacity="0.9"/>
<line x1="449.30" y1="375.70" x2="484.60" y2="375.70" stroke="#000" stroke-width="1.0" opacity="0.9"/>
<line x1="484.60" y1="375.70" x2="519.90" y2="375.70" stroke="#000" stroke-width="1.0" opacity="0.9"/>
<line x1="519.90" y1="375.70" x2="554.20" y2="375.70" stroke="#000" stroke-width="1.0" opacity="0.9"/>
<line x1="554.20" y1="375.70" x2="588.25" y2="375.70" stroke="#000" stroke-width="1.0" opacity="0.9"/>
<line x1="588.25" y1="375.70" x2="623.50" y2="375.70" stroke="#000" stroke-width="1.0" opacity="0.9"/>
<line x1="623.50" y1="375.70" x2="657.40" y2="375.70" stroke="#000" stroke-width="1.0" opacity="0.9"/>
<line x1="657.40" y1="375.70" x2="693.20" y2="375.70" stroke="#000" stroke-width="1.0" opacity="0.9"/>
<line x1="693.20" y1="375.70" x2="728.60" y2="375.70" stroke="#000" stroke-width="1.0" opacity="0.9"/>
<line x1="728.60" y1="375.70" x2="764.40" y2="375.70" stroke="#000" stroke-width="1.0" opacity="0.9"/>
<line x1="764.40" y1="375.70" x2="800.00" y2="375.70" stroke="#000" stroke-width="1.0" opacity="0.9"/>
<line x1="800.00" y1="375.70" x2="833.90" y2="375.70" stroke="#000" stroke-width="1.0" opacity="0.9"/>
<line x1="100.25" y1="402.40" x2="133.80" y2="402.40" stroke="#000" stroke-width="1.0" opacity="0.9"/>
<line x1="133.80" y1="402.40" x2="169.40" y2="402.40" stroke="#000" stroke-width="1.0" opacity="0.9"/>
<line x1="169.40" y1="402.40" x2="205.20" y2="402.40" stroke="#000" stroke-width="1.0" opacity="0.9"/>
<line x1="205.20" y1="402.40" x2="240.60" y2="402.40" stroke="#000" stroke-width="1.0" opacity="0.9"/>
<line x1="240.60" y1="402.40" x2="276.40" y2="402.40" stroke="#000" stroke-width="1.0" opacity="0.9"/>
<line x1="276.40" y1="402.40" x2="310.40" y2="402.40" stroke="#000" stroke-width="1.0" opacity="0.9"/>
<line x1="310.40" y1="402.40" x2="346.00" y2="402.40" stroke="#000" stroke-width="1.0" opacity="0.9"/>
<line x1="346.00" y1="402.40" x2="379.60" y2="402.40" stroke="#000" stroke-width="1.0" opacity="0.9"/>
<line x1="379.60" y1="402.40" x2="413.00" y2="402.40" stroke="#000" stroke-width="1.0" opacity="0.9"/>
<line x1="413.00" y1="402.40" x2="449.30" y2="402.40" stroke="#000" stroke-width="1.0" opacity="0.9"/>
<line x1="449.30" y1="402.40" x2="484.60" y2="402.40" stroke="#000" stroke-width="1.0" opacity="0.9"/>
<line x1="484.60" y1="402.40" x2="519.90" y2="402.40" stroke="#000" stroke-width="1.0" opacity="0.9"/>
<line x1="519.90" y1="402.40" x2="554.20" y2="402.40" stroke="#000" stroke-width="1.0" opacity="0.9"/>
<line x1="554.20" y1="402.40" x2="588.25" y2="402.40" stroke="#000" stroke-width="1.0" opacity="0.9"/>
<line x1="588.25" y1="402.40" x2="623.50" y2="402.40" stroke="#000" stroke-width="1.0" opacity="0.9"/>
<line x1="623.50" y1="402.40" x2="657.40" y2="402.40" stroke="#000" stroke-width="1.0" opacity="0.9"/>
<line x1="657.40" y1="402.40" x2="693.20" y2="402.40" stroke="#000" stroke-width="1.0" opacity="0.9"/>
<line x1="693.20" y1="402.40" x2="728.60" y2="402.40" stroke="#000" stroke-width="1.0" opacity="0.9"/>
<line x1="728.60" y1="402.40" x2="764.40" y2="402.40" stroke="#000" stroke-width="1.0" opacity="0.9"/>
<line x1="764.40" y1="402.40" x2="800.00" y2="402.40" stroke="#000" stroke-width="1.0" opacity="0.9"/>
<line x1="800.00" y1="402.40" x2="833.90" y2="402.40" stroke="#000" stroke-width="1.0" opacity="0.9"/>
<line x1="100.25" y1="429.30" x2="133.80" y2="429.30" stroke="#000" stroke-width="1.0" opacity="0.9"/>
<line x1="133.80" y1="429.30" x2="169.40" y2="429.30" stroke="#000" stroke-width="1.0" opacity="0.9"/>
<line x1="169.40" y1="429.30" x2="205.20" y2="429.30" stroke="#000" stroke-width="1.0" opacity="0.9"/>
<line x1="205.20" y1="429.30" x2="240.60" y2="429.30" stroke="#000" stroke-width="1.0" opacity="0.9"/>
<line x1="240.60" y1="429.30" x2="276.40" y2="429.30" stroke="#000" stroke-width="1.0" opacity="0.9"/>
<line x1="276.40" y1="429.30" x2="310.40" y2="429.30" stroke="#000" stroke-width="1.0" opacity="0.9"/>
<line x1="310.40" y1="429.30" x2="346.00" y2="429.30" stroke="#000" stroke-width="1.0" opacity="0.9"/>
<line x1="346.00" y1="429.30" x2="379.60" y2="429.30" stroke="#000" stroke-width="1.0" opacity="0.9"/>
<line x1="379.60" y1="429.30" x2="413.00" y2="429.30" stroke="#000" stroke-width="1.0" opacity="0.9"/>
<line x1="413.00" y1="429.30" x2="449.30" y2="429.30" stroke="#000" stroke-width="1.0" opacity="0.9"/>
<line x1="449.30" y1="429.30" x2="484.60" y2="429.30" stroke="#000" stroke-width="1.0" opacity="0.9"/>
<line x1="484.60" y1="429.30" x2="519.90" y2="429.30" stroke="#000" stroke-width="1.0" opacity="0.9"/>
<line x1="519.90" y1="429.30" x2="554.20" y2="429.30" stroke="#000" stroke-width="1.0" opacity="0.9"/>
<line x1="554.20" y1="429.30" x2="588.25" y2="429.30" stroke="#000" stroke-width="1.0" opacity="0.9"/>
<line x1="588.25" y1="429.30" x2="623.50" y2="429.30" stroke="#000" stroke-width="1.0" opacity="0.9"/>
<line x1="623.50" y1="429.30" x2="657.40" y2="429.30" stroke="#000" stroke-width="1.0" opacity="0.9"/>
<line x1="657.40" y1="429.30" x2="693.20" y2="429.30" stroke="#000" stroke-width="1.0" opacity="0.9"/>
<line x1="693.20" y1="429.30" x2="728.60" y2="429.30" stroke="#000" stroke-width="1.0" opacity="0.9"/>
<line x1="728.60" y1="429.30" x2="764.40" y2="429.30" stroke="#000" stroke-width="1.0" opacity="0.9"/>
<line x1="764.40" y1="429.30" x2="800.00" y2="429.30" stroke="#000" stroke-width="1.0" opacity="0.9"/>
<line x1="800.00" y1="429.30" x2="833.90" y2="429.30" stroke="#000" stroke-width="1.0" opacity="0.9"/>
<line x1="100.25" y1="456.10" x2="133.80" y2="456.10" stroke="#000" stroke-width="1.0" opacity="0.9"/>
<line x1="133.80" y1="456.10" x2="169.40" y2="456.10" stroke="#000" stroke-width="1.0" opacity="0.9"/>
<line x1="169.40" y1="456.10" x2="205.20" y2="456.10" stroke="#000" stroke-width="1.0" opacity="0.9"/>
<line x1="205.20" y1="456.10" x2="240.60" y2="456.10" stroke="#000" stroke-width="1.0" opacity="0.9"/>
<line x1="240.60" y1="456.10" x2="276.40" y2="456.10" stroke="#000" stroke-width="1.0" opacity="0.9"/>
<line x1="276.40" y1="456.10" x2="310.40" y2="456.10" stroke="#000" stroke-width="1.0" opacity="0.9"/>
<line x1="310.40" y1="456.10" x2="346.00" y2="456.10" stroke="#000" stroke-width="1.0" opacity="0.9"/>
<line x1="346.00" y1="456.10" x2="379.60" y2="456.10" stroke="#000" stroke-width="1.0" opacity="0.9"/>
<line x1="379.60" y1="456.10" x2="413.00" y2="456.10" stroke="#000" stroke-width="1.0" opacity="0.9"/>
<line x1="413.00" y1="456.10" x2="449.30" y2="456.10" stroke="#000" stroke-width="1.0" opacity="0.9"/>
<line x1="449.30" y1="456.10" x2="484.60" y2="456.10" stroke="#000" stroke-width="1.0" opacity="0.9"/>
<line x1="484.60" y1="456.10" x2="519.90" y2="456.10" stroke="#000" stroke-width="1.0" opacity="0.9"/>
<line x1="519.90" y1="456.10" x2="554.20" y2="456.10" stroke="#000" stroke-width="1.0" opacity="0.9"/>
<line x1="554.20" y1="456.10" x2="588.25" y2="456.10" stroke="#000" stroke-width="1.0" opacity="0.9"/>
<line x1="588.25" y1="456.10" x2="623.50" y2="456.10" stroke="#000" stroke-width="1.0" opacity="0.9"/>
<line x1="623.50" y1="456.10" x2="657.40" y2="456.10" stroke="#000" stroke-width="1.0" opacity="0.9"/>
<line x1="657.40" y1="456.10" x2="693.20" y2="456.10" stroke="#000" stroke-width="1.0" opacity="0.9"/>
<line x1="693.20" y1="456.10" x2="728.60" y2="456.10" stroke="#000" stroke-width="1.0" opacity="0.9"/>
<line x1="728.60" y1="456.10" x2="764.40" y2="456.10" stroke="#000" stroke-width="1.0" opacity="0.9"/>
<line x1="764.40" y1="456.10" x2="800.00" y2="456.10" stroke="#000" stroke-width="1.0" opacity="0.9"/>
<line x1="800.00" y1="456.10" x2="833.90" y2="456.10" stroke="#000" stroke-width="1.0" opacity="0.9"/>
<line x1="100.25" y1="483.10" x2="133.80" y2="483.10" stroke="#000" stroke-width="1.0" opacity="0.9"/>
<line x1="133.80" y1="483.10" x2="169.40" y2="483.10" stroke="#000" stroke-width="1.0" opacity="0.9"/>
<line x1="169.40" y1="483.10" x2="205.20" y2="483.10" stroke="#000" stroke-width="1.0" opacity="0.9"/>
<line x1="205.20" y1="483.10" x2="240.60" y2="483.10" stroke="#000" stroke-width="1.0" opacity="0.9"/>
<line x1="240.60" y1="483.10" x2="276.40" y2="483.10" stroke="#000" stroke-width="1.0" opacity="0.9"/>
<line x1="276.40" y1="483.10" x2="310.40" y2="483.10" stroke="#000" stroke-width="1.0" opacity="0.9"/>
<line x1="310.40" y1="483.10" x2="346.00" y2="483.10" stroke="#000" stroke-width="1.0" opacity="0.9"/>
<line x1="346.00" y1="483.10" x2="379.60" y2="483.10" stroke="#000" stroke-width="1.0" opacity="0.9"/>
<line x1="379.60" y1="483.10" x2="413.00" y2="483.10" stroke="#000" stroke-width="1.0" opacity="0.9"/>
<line x1="413.00" y1="483.10" x2="449.30" y2="483.10" stroke="#000" stroke-width="1.0" opacity="0.9"/>
<line x1="449.30" y1="483.10" x2="484.60" y2="483.10" stroke="#000" stroke-width="1.0" opacity="0.9"/>
<line x1="484.60" y1="483.10" x2="519.90" y2="483.10" stroke="#000" stroke-width="1.0" opacity="0.9"/>
<line x1="519.90" y1="483.10" x2="554.20" y2="483.10" stroke="#000" stroke-width="1.0" opacity="0.9"/>
<line x1="554.20" y1="483.10" x2="588.25" y2="483.10" stroke="#000" stroke-width="1.0" opacity="0.9"/>
<line x1="588.25" y1="483.10" x2="623.50" y2="483.10" stroke="#000" stroke-width="1.0" opacity="0.9"/>
<line x1="623.50" y1="483.10" x2="657.40" y2="483.10" stroke="#000" stroke-width="1.0" opacity="0.9"/>
<line x1="657.40" y1="483.10" x2="693.20" y2="483.10" stroke="#000" stroke-width="1.0" opacity="0.9"/>
<line x1="693.20" y1="483.10" x2="728.60" y2="483.10" stroke="#000" stroke-width="1.0" opacity="0.9"/>
<line x1="728.60" y1="483.10" x2="764.40" y2="483.10" stroke="#000" stroke-width="1.0" opacity="0.9"/>
<line x1="764.40" y1="483.10" x2="800.00" y2="483.10" stroke="#000" stroke-width="1.0" opacity="0.9"/>
<line x1="800.00" y1="483.10" x2="833.90" y2="483.10" stroke="#000" stroke-width="1.0" opacity="0.9"/>
<line x1="100.25" y1="509.50" x2="133.80" y2="509.50" stroke="#000" stroke-width="1.0" opacity="0.9"/>
<line x1="133.80" y1="509.50" x2="169.40" y2="509.50" stroke="#000" stroke-width="1.0" opacity="0.9"/>
<line x1="169.40" y1="509.50" x2="205.20" y2="509.50" stroke="#000" stroke-width="1.0" opacity="0.9"/>
<line x1="205.20" y1="509.50" x2="240.60" y2="509.50" stroke="#000" stroke-width="1.0" opacity="0.9"/>
<line x1="240.60" y1="509.50" x2="276.40" y2="509.50" stroke="#000" stroke-width="1.0" opacity="0.9"/>
<line x1="276.40" y1="509.50" x2="310.40" y2="509.50" stroke="#000" stroke-width="1.0" opacity="0.9"/>
<line x1="310.40" y1="509.50" x2="346.00" y2="509.50" stroke="#000" stroke-width="1.0" opacity="0.9"/>
<line x1="346.00" y1="509.50" x2="379.60" y2="509.50" stroke="#000" stroke-width="1.0" opacity="0.9"/>
<line x1="379.60" y1="509.50" x2="413.00" y2="509.50" stroke="#000" stroke-width="1.0" opacity="0.9"/>
<line x1="413.00" y1="509.50" x2="449.30" y2="509.50" stroke="#000" stroke-width="1.0" opacity="0.9"/>
<line x1="449.30" y1="509.50" x2="484.60" y2="509.50" stroke="#000" stroke-width="1.0" opacity="0.9"/>
<line x1="484.60" y1="509.50" x2="519.90" y2="509.50" stroke="#000" stroke-width="1.0" opacity="0.9"/>
<line x1="519.90" y1="509.50" x2="554.20" y2="509.50" stroke="#000" stroke-width="1.0" opacity="0.9"/>
<line x1="554.20" y1="509.50" x2="588.25" y2="509.50" stroke="#000" stroke-width="1.0" opacity="0.9"/>
<line x1="588.25" y1="509.50" x2="623.50" y2="509.50" stroke="#000" stroke-width="1.0" opacity="0.9"/>
<line x1="623.50" y1="509.50" x2="657.40" y2="509.50" stroke="#000" stroke-width="1.0" opacity="0.9"/>
<line x1="657.40" y1="509.50" x2="693.20" y2="509.50" stroke="#000" stroke-width="1.0" opacity="0.9"/>
<line x1="693.20" y1="509.50" x2="728.60" y2="509.50" stroke="#000" stroke-width="1.0" opacity="0.9"/>
<line x1="728.60" y1="509.50" x2="764.40" y2="509.50" stroke="#000" stroke-width="1.0" opacity="0.9"/>
<line x1="764.40" y1="509.50" x2="800.00" y2="509.50" stroke="#000" stroke-width="1.0" opacity="0.9"/>
<line x1="800.00" y1="509.50" x2="833.90" y2="509.50" stroke="#000" stroke-width="1.0" opacity="0.9"/>
<line x1="100.25" y1="536.40" x2="133.80" y2="536.40" stroke="#000" stroke-width="1.0" opacity="0.9"/>
<line x1="133.80" y1="536.40" x2="169.40" y2="536.40" stroke="#000" stroke-width="1.0" opacity="0.9"/>
<line x1="169.40" y1="536.40" x2="205.20" y2="536.40" stroke="#000" stroke-width="1.0" opacity="0.9"/>
<line x1="205.20" y1="536.40" x2="240.60" y2="536.40" stroke="#000" stroke-width="1.0" opacity="0.9"/>
<line x1="240.60" y1="536.40" x2="276.40" y2="536.40" stroke="#000" stroke-width="1.0" opacity="0.9"/>
<line x1="276.40" y1="536.40" x2="310.40" y2="536.40" stroke="#000" stroke-width="1.0" opacity="0.9"/>
<line x1="310.40" y1="536.40" x2="346.00" y2="536.40" stroke="#000" stroke-width="1.0" opacity="0.9"/>
<line x1="346.00" y1="536.40" x2="379.60" y2="536.40" stroke="#000" stroke-width="1.0" opacity="0.9"/>
<line x1="379.60" y1="536.40" x2="413.00" y2="536.40" stroke="#000" stroke-width="1.0" opacity="0.9"/>
<line x1="413.00" y1="536.40" x2="449.30" y2="536.40" stroke="#000" stroke-width="0.9" opacity="0.88"/>
<line x1="449.30" y1="536.40" x2="484.60" y2="536.40" stroke="#000" stroke-width="0.9" opacity="0.88"/>
<line x1="484.60" y1="536.40" x2="519.90" y2="536.40" stroke="#000" stroke-width="0.9" opacity="0.88"/>
<line x1="519.90" y1="536.40" x2="554.20" y2="536.40" stroke="#000" stroke-width="1.0" opacity="0.9"/>
<line x1="554.20" y1="536.40" x2="588.25" y2="536.40" stroke="#000" stroke-width="1.0" opacity="0.9"/>
<line x1="588.25" y1="536.40" x2="623.50" y2="536.40" stroke="#000" stroke-width="1.0" opacity="0.9"/>
<line x1="623.50" y1="536.40" x2="657.40" y2="536.40" stroke="#000" stroke-width="1.0" opacity="0.9"/>
<line x1="657.40" y1="536.40" x2="693.20" y2="536.40" stroke="#000" stroke-width="1.0" opacity="0.9"/>
<line x1="693.20" y1="536.40" x2="728.60" y2="536.40" stroke="#000" stroke-width="1.0" opacity="0.9"/>
<line x1="728.60" y1="536.40" x2="764.40" y2="536.40" stroke="#000" stroke-width="1.0" opacity="0.9"/>
<line x1="764.40" y1="536.40" x2="800.00" y2="536.40" stroke="#000" stroke-width="1.0" opacity="0.9"/>
<line x1="800.00" y1="536.40" x2="833.90" y2="536.40" stroke="#000" stroke-width="1.0" opacity="0.9"/>
<line x1="100.25" y1="563.20" x2="133.80" y2="563.20" stroke="#000" stroke-width="1.0" opacity="0.9"/>
<line x1="133.80" y1="563.20" x2="169.40" y2="563.20" stroke="#000" stroke-width="1.0" opacity="0.9"/>
<line x1="169.40" y1="563.20" x2="205.20" y2="563.20" stroke="#000" stroke-width="1.0" opacity="0.9"/>
<line x1="205.20" y1="563.20" x2="240.60" y2="563.20" stroke="#000" stroke-width="1.0" opacity="0.9"/>
<line x1="240.60" y1="563.20" x2="276.40" y2="563.20" stroke="#000" stroke-width="1.0" opacity="0.9"/>
<line x1="276.40" y1="563.20" x2="310.40" y2="563.20" stroke="#000" stroke-width="1.0" opacity="0.9"/>
<line x1="310.40" y1="563.20" x2="346.00" y2="563.20" stroke="#000" stroke-width="1.0" opacity="0.9"/>
<line x1="346.00" y1="563.20" x2="379.60" y2="563.20" stroke="#000" stroke-width="1.0" opacity="0.9"/>
<line x1="379.60" y1="563.20" x2="413.00" y2="563.20" stroke="#000" stroke-width="1.0" opacity="0.9"/>
<line x1="413.00" y1="563.20" x2="449.30" y2="563.20" stroke="#000" stroke-width="0.9" opacity="0.88"/>
<line x1="449.30" y1="563.20" x2="484.60" y2="563.20" stroke="#000" stroke-width="0.9" opacity="0.88"/>
<line x1="484.60" y1="563.20" x2="519.90" y2="563.20" stroke="#000" stroke-width="0.9" opacity="0.88"/>
<line x1="519.90" y1="563.20" x2="554.20" y2="563.20" stroke="#000" stroke-width="1.0" opacity="0.9"/>
<line x1="554.20" y1="563.20" x2="588.25" y2="563.20" stroke="#000" stroke-width="1.0" opacity="0.9"/>
<line x1="588.25" y1="563.20" x2="623.50" y2="563.20" stroke="#000" stroke-width="1.0" opacity="0.9"/>
<line x1="623.50" y1="563.20" x2="657.40" y2="563.20" stroke="#000" stroke-width="1.0" opacity="0.9"/>
<line x1="657.40" y1="563.20" x2="693.20" y2="563.20" stroke="#000" stroke-width="1.0" opacity="0.9"/>
<line x1="693.20" y1="563.20" x2="728.60" y2="563.20" stroke="#000" stroke-width="1.0" opacity="0.9"/>
<line x1="728.60" y1="563.20" x2="764.40" y2="563.20" stroke="#000" stroke-width="1.0" opacity="0.9"/>
<line x1="764.40" y1="563.20" x2="800.00" y2="563.20" stroke="#000" stroke-width="1.0" opacity="0.9"/>
<line x1="800.00" y1="563.20" x2="833.90" y2="563.20" stroke="#000" stroke-width="1.0" opacity="0.9"/>
<line x1="100.25" y1="590.00" x2="133.80" y2="590.00" stroke="#000" stroke-width="1.0" opacity="0.9"/>
<line x1="133.80" y1="590.00" x2="169.40" y2="590.00" stroke="#000" stroke-width="1.0" opacity="0.9"/>
<line x1="169.40" y1="590.00" x2="205.20" y2="590.00" stroke="#000" stroke-width="1.0" opacity="0.9"/>
<line x1="205.20" y1="590.00" x2="240.60" y2="590.00" stroke="#000" stroke-width="1.0" opacity="0.9"/>
<line x1="240.60" y1="590.00" x2="276.40" y2="590.00" stroke="#000" stroke-width="1.0" opacity="0.9"/>
<line x1="276.40" y1="590.00" x2="310.40" y2="590.00" stroke="#000" stroke-width="1.0" opacity="0.9"/>
<line x1="310.40" y1="590.00" x2="346.00" y2="590.00" stroke="#000" stroke-width="1.0" opacity="0.9"/>
<line x1="346.00" y1="590.00" x2="379.60" y2="590.00" stroke="#000" stroke-width="1.0" opacity="0.9"/>
<line x1="379.60" y1="590.00" x2="413.00" y2="590.00" stroke="#000" stroke-width="1.0" opacity="0.9"/>
<line x1="413.00" y1="590.00" x2="449.30" y2="590.00" stroke="#000" stroke-width="0.9" opacity="0.88"/>
<line x1="449.30" y1="590.00" x2="484.60" y2="590.00" stroke="#000" stroke-width="0.9" opacity="0.88"/>
<line x1="484.60" y1="590.00" x2="519.90" y2="590.00" stroke="#000" stroke-width="0.9" opacity="0.88"/>
<line x1="519.90" y1="590.00" x2="554.20" y2="590.00" stroke="#000" stroke-width="1.0" opacity="0.9"/>
<line x1="554.20" y1="590.00" x2="588.25" y2="590.00" stroke="#000" stroke-width="1.0" opacity="0.9"/>
<line x1="588.25" y1="590.00" x2="623.50" y2="590.00" stroke="#000" stroke-width="1.0" opacity="0.9"/>
<line x1="623.50" y1="590.00" x2="657.40" y2="590.00" stroke="#000" stroke-width="1.0" opacity="0.9"/>
<line x1="657.40" y1="590.00" x2="693.20" y2="590.00" stroke="#000" stroke-width="1.0" opacity="0.9"/>
<line x1="693.20" y1="590.00" x2="728.60" y2="590.00" stroke="#000" stroke-width="1.0" opacity="0.9"/>
<line x1="728.60" y1="590.00" x2="764.40" y2="590.00" stroke="#000" stroke-width="1.0" opacity="0.9"/>
<line x1="764.40" y1="590.00" x2="800.00" y2="590.00" stroke="#000" stroke-width="1.0" opacity="0.9"/>
<line x1="800.00" y1="590.00" x2="833.90" y2="590.00" stroke="#000" stroke-width="1.0" opacity="0.9"/>
<line x1="100.25" y1="616.40" x2="133.80" y2="616.40" stroke="#000" stroke-width="1.0" opacity="0.9"/>
<line x1="133.80" y1="616.40" x2="169.40" y2="616.40" stroke="#000" stroke-width="1.0" opacity="0.9"/>
<line x1="169.40" y1="616.40" x2="205.20" y2="616.40" stroke="#000" stroke-width="1.0" opacity="0.9"/>
<line x1="205.20" y1="616.40" x2="240.60" y2="616.40" stroke="#000" stroke-width="1.0" opacity="0.9"/>
<line x1="240.60" y1="616.40" x2="276.40" y2="616.40" stroke="#000" stroke-width="1.0" opacity="0.9"/>
<line x1="276.40" y1="616.40" x2="310.40" y2="616.40" stroke="#000" stroke-width="1.0" opacity="0.9"/>
<line x1="310.40" y1="616.40" x2="346.00" y2="616.40" stroke="#000" stroke-width="1.0" opacity="0.9"/>
<line x1="346.00" y1="616.40" x2="379.60" y2="616.40" stroke="#000" stroke-width="1.0" opacity="0.9"/>
<line x1="379.60" y1="616.40" x2="413.00" y2="616.40" stroke="#000" stroke-width="1.0" opacity="0.9"/>
<line x1="413.00" y1="616.40" x2="449.30" y2="616.40" stroke="#000" stroke-width="0.9" opacity="0.88"/>
<line x1="449.30" y1="616.40" x2="484.60" y2="616.40" stroke="#000" stroke-width="0.9" opacity="0.88"/>
<line x1="484.60" y1="616.40" x2="519.90" y2="616.40" stroke="#000" stroke-width="0.9" opacity="0.88"/>
<line x1="519.90" y1="616.40" x2="554.20" y2="616.40" stroke="#000" stroke-width="1.0" opacity="0.9"/>
<line x1="554.20" y1="616.40" x2="588.25" y2="616.40" stroke="#000" stroke-width="1.0" opacity="0.9"/>
<line x1="588.25" y1="616.40" x2="623.50" y2="616.40" stroke="#000" stroke-width="1.0" opacity="0.9"/>
<line x1="623.50" y1="616.40" x2="657.40" y2="616.40" stroke="#000" stroke-width="1.0" opacity="0.9"/>
<line x1="657.40" y1="616.40" x2="693.20" y2="616.40" stroke="#000" stroke-width="1.0" opacity="0.9"/>
<line x1="693.20" y1="616.40" x2="728.60" y2="616.40" stroke="#000" stroke-width="1.0" opacity="0.9"/>
<line x1="728.60" y1="616.40" x2="764.40" y2="616.40" stroke="#000" stroke-width="1.0" opacity="0.9"/>
<line x1="764.40" y1="616.40" x2="800.00" y2="616.40" stroke="#000" stroke-width="1.0" opacity="0.9"/>
<line x1="800.00" y1="616.40" x2="833.90" y2="616.40" stroke="#000" stroke-width="1.0" opacity="0.9"/>
<line x1="100.25" y1="643.20" x2="133.80" y2="643.20" stroke="#000" stroke-width="1.0" opacity="0.9"/>
<line x1="133.80" y1="643.20" x2="169.40" y2="643.20" stroke="#000" stroke-width="1.0" opacity="0.9"/>
<line x1="169.40" y1="643.20" x2="205.20" y2="643.20" stroke="#000" stroke-width="1.0" opacity="0.9"/>
<line x1="205.20" y1="643.20" x2="240.60" y2="643.20" stroke="#000" stroke-width="1.0" opacity="0.9"/>
<line x1="240.60" y1="643.20" x2="276.40" y2="643.20" stroke="#000" stroke-width="1.0" opacity="0.9"/>
<line x1="276.40" y1="643.20" x2="310.40" y2="643.20" stroke="#000" stroke-width="1.0" opacity="0.9"/>
<line x1="310.40" y1="643.20" x2="346.00" y2="643.20" stroke="#000" stroke-width="1.0" opacity="0.9"/>
<line x1="346.00" y1="643.20" x2="379.60" y2="643.20" stroke="#000" stroke-width="1.0" opacity="0.9"/>
<line x1="379.60" y1="643.20" x2="413.00" y2="643.20" stroke="#000" stroke-width="1.0" opacity="0.9"/>
<line x1="413.00" y1="643.20" x2="449.30" y2="643.20" stroke="#000" stroke-width="0.9" opacity="0.88"/>
<line x1="449.30" y1="643.20" x2="484.60" y2="643.20" stroke="#000" stroke-width="0.9" opacity="0.88"/>
<line x1="484.60" y1="643.20" x2="519.90" y2="643.20" stroke="#000" stroke-width="0.9" opacity="0.88"/>
<line x1="519.90" y1="643.20" x2="554.20" y2="643.20" stroke="#000" stroke-width="1.0" opacity="0.9"/>
<line x1="554.20" y1="643.20" x2="588.25" y2="643.20" stroke="#000" stroke-width="1.0" opacity="0.9"/>
<line x1="588.25" y1="643.20" x2="623.50" y2="643.20" stroke="#000" stroke-width="1.0" opacity="0.9"/>
<line x1="623.50" y1="643.20" x2="657.40" y2="643.20" stroke="#000" stroke-width="1.0" opacity="0.9"/>
<line x1="657.40" y1="643.20" x2="693.20" y2="643.20" stroke="#000" stroke-width="1.0" opacity="0.9"/>
<line x1="693.20" y1="643.20" x2="728.60" y2="643.20" stroke="#000" stroke-width="1.0" opacity="0.9"/>
<line x1="728.60" y1="643.20" x2="764.40" y2="643.20" stroke="#000" stroke-width="1.0" opacity="0.9"/>
<line x1="764.40" y1="643.20" x2="800.00" y2="643.20" stroke="#000" stroke-width="1.0" opacity="0.9"/>
<line x1="800.00" y1="643.20" x2="833.90" y2="643.20" stroke="#000" stroke-width="1.0" opacity="0.9"/>
<line x1="100.25" y1="669.90" x2="133.80" y2="669.90" stroke="#000" stroke-width="1.0" opacity="0.9"/>
<line x1="133.80" y1="669.90" x2="169.40" y2="669.90" stroke="#000" stroke-width="1.0" opacity="0.9"/>
<line x1="169.40" y1="669.90" x2="205.20" y2="669.90" stroke="#000" stroke-width="1.0" opacity="0.9"/>
<line x1="205.20" y1="669.90" x2="240.60" y2="669.90" stroke="#000" stroke-width="1.0" opacity="0.9"/>
<line x1="240.60" y1="669.90" x2="276.40" y2="669.90" stroke="#000" stroke-width="1.0" opacity="0.9"/>
<line x1="276.40" y1="669.90" x2="310.40" y2="669.90" stroke="#000" stroke-width="1.0" opacity="0.9"/>
<line x1="310.40" y1="669.90" x2="346.00" y2="669.90" stroke="#000" stroke-width="1.0" opacity="0.9"/>
<line x1="346.00" y1="669.90" x2="379.60" y2="669.90" stroke="#000" stroke-width="1.0" opacity="0.9"/>
<line x1="379.60" y1="669.90" x2="413.00" y2="669.90" stroke="#000" stroke-width="1.0" opacity="0.9"/>
<line x1="413.00" y1="669.90" x2="449.30" y2="669.90" stroke="#000" stroke-width="0.9" opacity="0.88"/>
<line x1="449.30" y1="669.90" x2="484.60" y2="669.90" stroke="#000" stroke-width="0.9" opacity="0.88"/>
<line x1="484.60" y1="669.90" x2="519.90" y2="669.90" stroke="#000" stroke-width="0.9" opacity="0.88"/>
<line x1="519.90" y1="669.90" x2="554.20" y2="669.90" stroke="#000" stroke-width="1.0" opacity="0.9"/>
<line x1="554.20" y1="669.90" x2="588.25" y2="669.90" stroke="#000" stroke-width="1.0" opacity="0.9"/>
<line x1="588.25" y1="669.90" x2="623.50" y2="669.90" stroke="#000" stroke-width="1.0" opacity="0.9"/>
<line x1="623.50" y1="669.90" x2="657.40" y2="669.90" stroke="#000" stroke-width="1.0" opacity="0.9"/>
<line x1="657.40" y1="669.90" x2="693.20" y2="669.90" stroke="#000" stroke-width="1.0" opacity="0.9"/>
<line x1="693.20" y1="669.90" x2="728.60" y2="669.90" stroke="#000" stroke-width="1.0" opacity="0.9"/>
<line x1="728.60" y1="669.90" x2="764.40" y2="669.90" stroke="#000" stroke-width="1.0" opacity="0.9"/>
<line x1="764.40" y1="669.90" x2="800.00" y2="669.90" stroke="#000" stroke-width="1.0" opacity="0.9"/>
<line x1="800.00" y1="669.90" x2="833.90" y2="669.90" stroke="#000" stroke-width="1.0" opacity="0.9"/>
<line x1="133.80" y1="136.10" x2="133.80" y2="162.00" stroke="#000" stroke-width="1.0" opacity="0.9"/>
<line x1="133.80" y1="162.00" x2="133.80" y2="189.50" stroke="#000" stroke-width="1.0" opacity="0.9"/>
<line x1="133.80" y1="189.50" x2="133.80" y2="215.70" stroke="#000" stroke-width="1.0" opacity="0.9"/>
<line x1="133.80" y1="215.70" x2="133.80" y2="242.30" stroke="#000" stroke-width="1.0" opacity="0.9"/>
<line x1="133.80" y1="242.30" x2="133.80" y2="269.60" stroke="#000" stroke-width="1.0" opacity="0.9"/>
<line x1="133.80" y1="269.60" x2="133.80" y2="296.20" stroke="#000" stroke-width="1.0" opacity="0.9"/>
<line x1="133.80" y1="296.20" x2="133.80" y2="322.50" stroke="#000" stroke-width="1.0" opacity="0.9"/>
<line x1="133.80" y1="322.50" x2="133.80" y2="349.40" stroke="#000" stroke-width="1.0" opacity="0.9"/>
<line x1="133.80" y1="349.40" x2="133.80" y2="375.70" stroke="#000" stroke-width="1.0" opacity="0.9"/>
<line x1="133.80" y1="375.70" x2="133.80" y2="402.40" stroke="#000" stroke-width="1.0" opacity="0.9"/>
<line x1="133.80" y1="402.40" x2="133.80" y2="429.30" stroke="#000" stroke-width="1.0" opacity="0.9"/>
<line x1="133.80" y1="429.30" x2="133.80" y2="456.10" stroke="#000" stroke-width="1.0" opacity="0.9"/>
<line x1="133.80" y1="456.10" x2="133.80" y2="483.10" stroke="#000" stroke-width="1.0" opacity="0.9"/>
<line x1="133.80" y1="483.10" x2="133.80" y2="509.50" stroke="#000" stroke-width="1.0" opacity="0.9"/>
<line x1="133.80" y1="509.50" x2="133.80" y2="536.40" stroke="#000" stroke-width="1.0" opacity="0.9"/>
<line x1="133.80" y1="536.40" x2="133.80" y2="563.20" stroke="#000" stroke-width="1.0" opacity="0.9"/>
<line x1="133.80" y1="563.20" x2="133.80" y2="590.00" stroke="#000" stroke-width="1.0" opacity="0.9"/>
<line x1="133.80" y1="590.00" x2="133.80" y2="616.40" stroke="#000" stroke-width="1.0" opacity="0.9"/>
<line x1="133.80" y1="616.40" x2="133.80" y2="643.20" stroke="#000" stroke-width="1.0" opacity="0.9"/>
<line x1="133.80" y1="643.20" x2="133.80" y2="669.90" stroke="#000" stroke-width="1.0" opacity="0.9"/>
<line x1="133.80" y1="669.90" x2="133.80" y2="696.50" stroke="#000" stroke-width="1.0" opacity="0.9"/>
<line x1="169.40" y1="136.10" x2="169.40" y2="162.00" stroke="#000" stroke-width="1.0" opacity="0.9"/>
<line x1="169.40" y1="162.00" x2="169.40" y2="189.50" stroke="#000" stroke-width="1.0" opacity="0.9"/>
<line x1="169.40" y1="189.50" x2="169.40" y2="215.70" stroke="#000" stroke-width="1.0" opacity="0.9"/>
<line x1="169.40" y1="215.70" x2="169.40" y2="242.30" stroke="#000" stroke-width="1.0" opacity="0.9"/>
<line x1="169.40" y1="242.30" x2="169.40" y2="269.60" stroke="#000" stroke-width="1.0" opacity="0.9"/>
<line x1="169.40" y1="269.60" x2="169.40" y2="296.20" stroke="#000" stroke-width="1.0" opacity="0.9"/>
<line x1="169.40" y1="296.20" x2="169.40" y2="322.50" stroke="#000" stroke-width="1.0" opacity="0.9"/>
<line x1="169.40" y1="322.50" x2="169.40" y2="349.40" stroke="#000" stroke-width="1.0" opacity="0.9"/>
<line x1="169.40" y1="349.40" x2="169.40" y2="375.70" stroke="#000" stroke-width="1.0" opacity="0.9"/>
<line x1="169.40" y1="375.70" x2="169.40" y2="402.40" stroke="#000" stroke-width="1.0" opacity="0.9"/>
<line x1="169.40" y1="402.40" x2="169.40" y2="429.30" stroke="#000" stroke-width="1.0" opacity="0.9"/>
<line x1="169.40" y1="429.30" x2="169.40" y2="456.10" stroke="#000" stroke-width="1.0" opacity="0.9"/>
<line x1="169.40" y1="456.10" x2="169.40" y2="483.10" stroke="#000" stroke-width="1.0" opacity="0.9"/>
<line x1="169.40" y1="483.10" x2="169.40" y2="509.50" stroke="#000" stroke-width="1.0" opacity="0.9"/>
<line x1="169.40" y1="509.50" x2="169.40" y2="536.40" stroke="#000" stroke-width="1.0" opacity="0.9"/>
<line x1="169.40" y1="536.40" x2="169.40" y2="563.20" stroke="#000" stroke-width="1.0" opacity="0.9"/>
<line x1="169.40" y1="563.20" x2="169.40" y2="590.00" stroke="#000" stroke-width="1.0" opacity="0.9"/>
<line x1="169.40" y1="590.00" x2="169.40" y2="616.40" stroke="#000" stroke-width="1.0" opacity="0.9"/>
<line x1="169.40" y1="616.40" x2="169.40" y2="643.20" stroke="#000" stroke-width="1.0" opacity="0.9"/>
<line x1="169.40" y1="643.20" x2="169.40" y2="669.90" stroke="#000" stroke-width="1.0" opacity="0.9"/>
<line x1="169.40" y1="669.90" x2="169.40" y2="696.50" stroke="#000" stroke-width="1.0" opacity="0.9"/>
<line x1="205.20" y1="136.10" x2="205.20" y2="162.00" stroke="#000" stroke-width="1.0" opacity="0.9"/>
<line x1="205.20" y1="162.00" x2="205.20" y2="189.50" stroke="#000" stroke-width="1.0" opacity="0.9"/>
<line x1="205.20" y1="189.50" x2="205.20" y2="215.70" stroke="#000" stroke-width="1.0" opacity="0.9"/>
<line x1="205.20" y1="215.70" x2="205.20" y2="242.30" stroke="#000" stroke-width="1.0" opacity="0.9"/>
<line x1="205.20" y1="242.30" x2="205.20" y2="269.60" stroke="#000" stroke-width="1.0" opacity="0.9"/>
<line x1="205.20" y1="269.60" x2="205.20" y2="296.20" stroke="#000" stroke-width="1.0" opacity="0.9"/>
<line x1="205.20" y1="296.20" x2="205.20" y2="322.50" stroke="#000" stroke-width="1.0" opacity="0.9"/>
<line x1="205.20" y1="322.50" x2="205.20" y2="349.40" stroke="#000" stroke-width="1.0" opacity="0.9"/>
<line x1="205.20" y1="349.40" x2="205.20" y2="375.70" stroke="#000" stroke-width="1.0" opacity="0.9"/>
<line x1="205.20" y1="375.70" x2="205.20" y2="402.40" stroke="#000" stroke-width="1.0" opacity="0.9"/>
<line x1="205.20" y1="402.40" x2="205.20" y2="429.30" stroke="#000" stroke-width="1.0" opacity="0.9"/>
<line x1="205.20" y1="429.30" x2="205.20" y2="456.10" stroke="#000" stroke-width="1.0" opacity="0.9"/>
<line x1="205.20" y1="456.10" x2="205.20" y2="483.10" stroke="#000" stroke-width="1.0" opacity="0.9"/>
<line x1="205.20" y1="483.10" x2="205.20" y2="509.50" stroke="#000" stroke-width="1.0" opacity="0.9"/>
<line x1="205.20" y1="509.50" x2="205.20" y2="536.40" stroke="#000" stroke-width="1.0" opacity="0.9"/>
<line x1="205.20" y1="536.40" x2="205.20" y2="563.20" stroke="#000" stroke-width="1.0" opacity="0.9"/>
<line x1="205.20" y1="563.20" x2="205.20" y2="590.00" stroke="#000" stroke-width="1.0" opacity="0.9"/>
<line x1="205.20" y1="590.00" x2="205.20" y2="616.40" stroke="#000" stroke-width="1.0" opacity="0.9"/>
<line x1="205.20" y1="616.40" x2="205.20" y2="643.20" stroke="#000" stroke-width="1.0" opacity="0.9"/>
<line x1="205.20" y1="643.20" x2="205.20" y2="669.90" stroke="#000" stroke-width="1.0" opacity="0.9"/>
<line x1="205.20" y1="669.90" x2="205.20" y2="696.50" stroke="#000" stroke-width="1.0" opacity="0.9"/>
<line x1="240.60" y1="136.10" x2="240.60" y2="162.00" stroke="#000" stroke-width="1.0" opacity="0.9"/>
<line x1="240.60" y1="162.00" x2="240.60" y2="189.50" stroke="#000" stroke-width="1.0" opacity="0.9"/>
<line x1="240.60" y1="189.50" x2="240.60" y2="215.70" stroke="#000" stroke-width="1.0" opacity="0.9"/>
<line x1="240.60" y1="215.70" x2="240.60" y2="242.30" stroke="#000" stroke-width="1.0" opacity="0.9"/>
<line x1="240.60" y1="242.30" x2="240.60" y2="269.60" stroke="#000" stroke-width="1.0" opacity="0.9"/>
<line x1="240.60" y1="269.60" x2="240.60" y2="296.20" stroke="#000" stroke-width="1.0" opacity="0.9"/>
<line x1="240.60" y1="296.20" x2="240.60" y2="322.50" stroke="#000" stroke-width="1.0" opacity="0.9"/>
<line x1="240.60" y1="322.50" x2="240.60" y2="349.40" stroke="#000" stroke-width="1.0" opacity="0.9"/>
<line x1="240.60" y1="349.40" x2="240.60" y2="375.70" stroke="#000" stroke-width="1.0" opacity="0.9"/>
<line x1="240.60" y1="375.70" x2="240.60" y2="402.40" stroke="#000" stroke-width="1.0" opacity="0.9"/>
<line x1="240.60" y1="402.40" x2="240.60" y2="429.30" stroke="#000" stroke-width="1.0" opacity="0.9"/>
<line x1="240.60" y1="429.30" x2="240.60" y2="456.10" stroke="#000" stroke-width="1.0" opacity="0.9"/>
<line x1="240.60" y1="456.10" x2="240.60" y2="483.10" stroke="#000" stroke-width="1.0" opacity="0.9"/>
<line x1="240.60" y1="483.10" x2="240.60" y2="509.50" stroke="#000" stroke-width="1.0" opacity="0.9"/>
<line x1="240.60" y1="509.50" x2="240.60" y2="536.40" stroke="#000" stroke-width="1.0" opacity="0.9"/>
<line x1="240.60" y1="536.40" x2="240.60" y2="563.20" stroke="#000" stroke-width="1.0" opacity="0.9"/>
<line x1="240.60" y1="563.20" x2="240.60" y2="590.00" stroke="#000" stroke-width="1.0" opacity="0.9"/>
<line x1="240.60" y1="590.00" x2="240.60" y2="616.40" stroke="#000" stroke-width="1.0" opacity="0.9"/>
<line x1="240.60" y1="616.40" x2="240.60" y2="643.20" stroke="#000" stroke-width="1.0" opacity="0.9"/>
<line x1="240.60" y1="643.20" x2="240.60" y2="669.90" stroke="#000" stroke-width="1.0" opacity="0.9"/>
<line x1="240.60" y1="669.90" x2="240.60" y2="696.50" stroke="#000" stroke-width="1.0" opacity="0.9"/>
<line x1="276.40" y1="136.10" x2="276.40" y2="162.00" stroke="#000" stroke-width="1.0" opacity="0.9"/>
<line x1="276.40" y1="162.00" x2="276.40" y2="189.50" stroke="#000" stroke-width="1.0" opacity="0.9"/>
<line x1="276.40" y1="189.50" x2="276.40" y2="215.70" stroke="#000" stroke-width="1.0" opacity="0.9"/>
<line x1="276.40" y1="215.70" x2="276.40" y2="242.30" stroke="#000" stroke-width="1.0" opacity="0.9"/>
<line x1="276.40" y1="242.30" x2="276.40" y2="269.60" stroke="#000" stroke-width="1.0" opacity="0.9"/>
<line x1="276.40" y1="269.60" x2="276.40" y2="296.20" stroke="#000" stroke-width="1.0" opacity="0.9"/>
<line x1="276.40" y1="296.20" x2="276.40" y2="322.50" stroke="#000" stroke-width="1.0" opacity="0.9"/>
<line x1="276.40" y1="322.50" x2="276.40" y2="349.40" stroke="#000" stroke-width="1.0" opacity="0.9"/>
<line x1="276.40" y1="349.40" x2="276.40" y2="375.70" stroke="#000" stroke-width="1.0" opacity="0.9"/>
<line x1="276.40" y1="375.70" x2="276.40" y2="402.40" stroke="#000" stroke-width="1.0" opacity="0.9"/>
<line x1="276.40" y1="402.40" x2="276.40" y2="429.30" stroke="#000" stroke-width="1.0" opacity="0.9"/>
<line x1="276.40" y1="429.30" x2="276.40" y2="456.10" stroke="#000" stroke-width="1.0" opacity="0.9"/>
<line x1="276.40" y1="456.10" x2="276.40" y2="483.10" stroke="#000" stroke-width="1.0" opacity="0.9"/>
<line x1="276.40" y1="483.10" x2="276.40" y2="509.50" stroke="#000" stroke-width="1.0" opacity="0.9"/>
<line x1="276.40" y1="509.50" x2="276.40" y2="536.40" stroke="#000" stroke-width="1.0" opacity="0.9"/>
<line x1="276.40" y1="536.40" x2="276.40" y2="563.20" stroke="#000" stroke-width="1.0" opacity="0.9"/>
<line x1="276.40" y1="563.20" x2="276.40" y2="590.00" stroke="#000" stroke-width="1.0" opacity="0.9"/>
<line x1="276.40" y1="590.00" x2="276.40" y2="616.40" stroke="#000" stroke-width="1.0" opacity="0.9"/>
<line x1="276.40" y1="616.40" x2="276.40" y2="643.20" stroke="#000" stroke-width="1.0" opacity="0.9"/>
<line x1="276.40" y1="643.20" x2="276.40" y2="669.90" stroke="#000" stroke-width="1.0" opacity="0.9"/>
<line x1="276.40" y1="669.90" x2="276.40" y2="696.50" stroke="#000" stroke-width="1.0" opacity="0.9"/>
<line x1="310.40" y1="136.10" x2="310.40" y2="162.00" stroke="#000" stroke-width="1.0" opacity="0.9"/>
<line x1="310.40" y1="162.00" x2="310.40" y2="189.50" stroke="#000" stroke-width="1.0" opacity="0.9"/>
<line x1="310.40" y1="189.50" x2="310.40" y2="215.70" stroke="#000" stroke-width="1.0" opacity="0.9"/>
<line x1="310.40" y1="215.70" x2="310.40" y2="242.30" stroke="#000" stroke-width="1.0" opacity="0.9"/>
<line x1="310.40" y1="242.30" x2="310.40" y2="269.60" stroke="#000" stroke-width="1.0" opacity="0.9"/>
<line x1="310.40" y1="269.60" x2="310.40" y2="296.20" stroke="#000" stroke-width="1.0" opacity="0.9"/>
<line x1="310.40" y1="296.20" x2="310.40" y2="322.50" stroke="#000" stroke-width="1.0" opacity="0.9"/>
<line x1="310.40" y1="322.50" x2="310.40" y2="349.40" stroke="#000" stroke-width="1.0" opacity="0.9"/>
<line x1="310.40" y1="349.40" x2="310.40" y2="375.70" stroke="#000" stroke-width="1.0" opacity="0.9"/>
<line x1="310.40" y1="375.70" x2="310.40" y2="402.40" stroke="#000" stroke-width="1.0" opacity="0.9"/>
<line x1="310.40" y1="402.40" x2="310.40" y2="429.30" stroke="#000" stroke-width="1.0" opacity="0.9"/>
<line x1="310.40" y1="429.30" x2="310.40" y2="456.10" stroke="#000" stroke-width="1.0" opacity="0.9"/>
<line x1="310.40" y1="456.10" x2="310.40" y2="483.10" stroke="#000" stroke-width="1.0" opacity="0.9"/>
<line x1="310.40" y1="483.10" x2="310.40" y2="509.50" stroke="#000" stroke-width="1.0" opacity="0.9"/>
<line x1="310.40" y1="509.50" x2="310.40" y2="536.40" stroke="#000" stroke-width="1.0" opacity="0.9"/>
<line x1="310.40" y1="536.40" x2="310.40" y2="563.20" stroke="#000" stroke-width="1.0" opacity="0.9"/>
<line x1="310.40" y1="563.20" x2="310.40" y2="590.00" stroke="#000" stroke-width="1.0" opacity="0.9"/>
<line x1="310.40" y1="590.00" x2="310.40" y2="616.40" stroke="#000" stroke-width="1.0" opacity="0.9"/>
<line x1="310.40" y1="616.40" x2="310.40" y2="643.20" stroke="#000" stroke-width="1.0" opacity="0.9"/>
<line x1="310.40" y1="643.20" x2="310.40" y2="669.90" stroke="#000" stroke-width="1.0" opacity="0.9"/>
<line x1="310.40" y1="669.90" x2="310.40" y2="696.50" stroke="#000" stroke-width="1.0" opacity="0.9"/>
<line x1="346.00" y1="136.10" x2="346.00" y2="162.00" stroke="#000" stroke-width="1.0" opacity="0.9"/>
<line x1="346.00" y1="162.00" x2="346.00" y2="189.50" stroke="#000" stroke-width="1.0" opacity="0.9"/>
<line x1="346.00" y1="189.50" x2="346.00" y2="215.70" stroke="#000" stroke-width="1.0" opacity="0.9"/>
<line x1="346.00" y1="215.70" x2="346.00" y2="242.30" stroke="#000" stroke-width="1.0" opacity="0.9"/>
<line x1="346.00" y1="242.30" x2="346.00" y2="269.60" stroke="#000" stroke-width="1.0" opacity="0.9"/>
<line x1="346.00" y1="269.60" x2="346.00" y2="296.20" stroke="#000" stroke-width="1.0" opacity="0.9"/>
<line x1="346.00" y1="296.20" x2="346.00" y2="322.50" stroke="#000" stroke-width="1.0" opacity="0.9"/>
<line x1="346.00" y1="322.50" x2="346.00" y2="349.40" stroke="#000" stroke-width="1.0" opacity="0.9"/>
<line x1="346.00" y1="349.40" x2="346.00" y2="375.70" stroke="#000" stroke-width="1.0" opacity="0.9"/>
<line x1="346.00" y1="375.70" x2="346.00" y2="402.40" stroke="#000" stroke-width="1.0" opacity="0.9"/>
<line x1="346.00" y1="402.40" x2="346.00" y2="429.30" stroke="#000" stroke-width="1.0" opacity="0.9"/>
<line x1="346.00" y1="429.30" x2="346.00" y2="456.10" stroke="#000" stroke-width="1.0" opacity="0.9"/>
<line x1="346.00" y1="456.10" x2="346.00" y2="483.10" stroke="#000" stroke-width="1.0" opacity="0.9"/>
<line x1="346.00" y1="483.10" x2="346.00" y2="509.50" stroke="#000" stroke-width="1.0" opacity="0.9"/>
<line x1="346.00" y1="509.50" x2="346.00" y2="536.40" stroke="#000" stroke-width="1.0" opacity="0.9"/>
<line x1="346.00" y1="536.40" x2="346.00" y2="563.20" stroke="#000" stroke-width="1.0" opacity="0.9"/>
<line x1="346.00" y1="563.20" x2="346.00" y2="590.00" stroke="#000" stroke-width="1.0" opacity="0.9"/>
<line x1="346.00" y1="590.00" x2="346.00" y2="616.40" stroke="#000" stroke-width="1.0" opacity="0.9"/>
<line x1="346.00" y1="616.40" x2="346.00" y2="643.20" stroke="#000" stroke-width="1.0" opacity="0.9"/>
<line x1="346.00" y1="643.20" x2="346.00" y2="669.90" stroke="#000" stroke-width="1.0" opacity="0.9"/>
<line x1="346.00" y1="669.90" x2="346.00" y2="696.50" stroke="#000" stroke-width="1.0" opacity="0.9"/>
<line x1="379.60" y1="136.10" x2="379.60" y2="162.00" stroke="#000" stroke-width="1.0" opacity="0.9"/>
<line x1="379.60" y1="162.00" x2="379.60" y2="189.50" stroke="#000" stroke-width="1.0" opacity="0.9"/>
<line x1="379.60" y1="189.50" x2="379.60" y2="215.70" stroke="#000" stroke-width="1.0" opacity="0.9"/>
<line x1="379.60" y1="215.70" x2="379.60" y2="242.30" stroke="#000" stroke-width="1.0" opacity="0.9"/>
<line x1="379.60" y1="242.30" x2="379.60" y2="269.60" stroke="#000" stroke-width="1.0" opacity="0.9"/>
<line x1="379.60" y1="269.60" x2="379.60" y2="296.20" stroke="#000" stroke-width="1.0" opacity="0.9"/>
<line x1="379.60" y1="296.20" x2="379.60" y2="322.50" stroke="#000" stroke-width="1.0" opacity="0.9"/>
<line x1="379.60" y1="322.50" x2="379.60" y2="349.40" stroke="#000" stroke-width="1.0" opacity="0.9"/>
<line x1="379.60" y1="349.40" x2="379.60" y2="375.70" stroke="#000" stroke-width="1.0" opacity="0.9"/>
<line x1="379.60" y1="375.70" x2="379.60" y2="402.40" stroke="#000" stroke-width="1.0" opacity="0.9"/>
<line x1="379.60" y1="402.40" x2="379.60" y2="429.30" stroke="#000" stroke-width="1.0" opacity="0.9"/>
<line x1="379.60" y1="429.30" x2="379.60" y2="456.10" stroke="#000" stroke-width="1.0" opacity="0.9"/>
<line x1="379.60" y1="456.10" x2="379.60" y2="483.10" stroke="#000" stroke-width="1.0" opacity="0.9"/>
<line x1="379.60" y1="483.10" x2="379.60" y2="509.50" stroke="#000" stroke-width="1.0" opacity="0.9"/>
<line x1="379.60" y1="509.50" x2="379.60" y2="536.40" stroke="#000" stroke-width="1.0" opacity="0.9"/>
<line x1="379.60" y1="536.40" x2="379.60" y2="563.20" stroke="#000" stroke-width="1.0" opacity="0.9"/>
<line x1="379.60" y1="563.20" x2="379.60" y2="590.00" stroke="#000" stroke-width="1.0" opacity="0.9"/>
<line x1="379.60" y1="590.00" x2="379.60" y2="616.40" stroke="#000" stroke-width="1.0" opacity="0.9"/>
<line x1="379.60" y1="616.40" x2="379.60" y2="643.20" stroke="#000" stroke-width="1.0" opacity="0.9"/>
<line x1="379.60" y1="643.20" x2="379.60" y2="669.90" stroke="#000" stroke-width="1.0" opacity="0.9"/>
<line x1="379.60" y1="669.90" x2="379.60" y2="696.50" stroke="#000" stroke-width="1.0" opacity="0.9"/>
<line x1="413.00" y1="136.10" x2="413.00" y2="162.00" stroke="#000" stroke-width="1.0" opacity="0.9"/>
<line x1="413.00" y1="162.00" x2="413.00" y2="189.50" stroke="#000" stroke-width="1.0" opacity="0.9"/>
<line x1="413.00" y1="189.50" x2="413.00" y2="215.70" stroke="#000" stroke-width="1.0" opacity="0.9"/>
<line x1="413.00" y1="215.70" x2="413.00" y2="242.30" stroke="#000" stroke-width="1.0" opacity="0.9"/>
<line x1="413.00" y1="242.30" x2="413.00" y2="269.60" stroke="#000" stroke-width="1.0" opacity="0.9"/>
<line x1="413.00" y1="269.60" x2="413.00" y2="296.20" stroke="#000" stroke-width="1.0" opacity="0.9"/>
<line x1="413.00" y1="296.20" x2="413.00" y2="322.50" stroke="#000" stroke-width="1.0" opacity="0.9"/>
<line x1="413.00" y1="322.50" x2="413.00" y2="349.40" stroke="#000" stroke-width="1.0" opacity="0.9"/>
<line x1="413.00" y1="349.40" x2="413.00" y2="375.70" stroke="#000" stroke-width="1.0" opacity="0.9"/>
<line x1="413.00" y1="375.70" x2="413.00" y2="402.40" stroke="#000" stroke-width="1.0" opacity="0.9"/>
<line x1="413.00" y1="402.40" x2="413.00" y2="429.30" stroke="#000" stroke-width="1.0" opacity="0.9"/>
<line x1="413.00" y1="429.30" x2="413.00" y2="456.10" stroke="#000" stroke-width="1.0" opacity="0.9"/>
<line x1="413.00" y1="456.10" x2="413.00" y2="483.10" stroke="#000" stroke-width="1.0" opacity="0.9"/>
<line x1="413.00" y1="483.10" x2="413.00" y2="509.50" stroke="#000" stroke-width="1.0" opacity="0.9"/>
<line x1="413.00" y1="509.50" x2="413.00" y2="536.40" stroke="#000" stroke-width="1.0" opacity="0.9"/>
<line x1="413.00" y1="536.40" x2="413.00" y2="563.20" stroke="#000" stroke-width="1.0" opacity="0.9"/>
<line x1="413.00" y1="563.20" x2="413.00" y2="590.00" stroke="#000" stroke-width="1.0" opacity="0.9"/>
<line x1="413.00" y1="590.00" x2="413.00" y2="616.40" stroke="#000" stroke-width="1.0" opacity="0.9"/>
<line x1="413.00" y1="616.40" x2="413.00" y2="643.20" stroke="#000" stroke-width="1.0" opacity="0.9"/>
<line x1="413.00" y1="643.20" x2="413.00" y2="669.90" stroke="#000" stroke-width="1.0" opacity="0.9"/>
<line x1="413.00" y1="669.90" x2="413.00" y2="696.50" stroke="#000" stroke-width="1.0" opacity="0.9"/>
<line x1="449.30" y1="136.10" x2="449.30" y2="162.00" stroke="#000" stroke-width="0.8" opacity="0.5"/>
<line x1="449.30" y1="162.00" x2="449.30" y2="189.50" stroke="#000" stroke-width="0.8" opacity="0.5"/>
<line x1="449.30" y1="189.50" x2="449.30" y2="215.70" stroke="#000" stroke-width="0.8" opacity="0.5"/>
<line x1="449.30" y1="215.70" x2="449.30" y2="242.30" stroke="#000" stroke-width="0.8" opacity="0.5"/>
<line x1="449.30" y1="242.30" x2="449.30" y2="269.60" stroke="#000" stroke-width="0.8" opacity="0.5"/>
<line x1="449.30" y1="269.60" x2="449.30" y2="296.20" stroke="#000" stroke-width="0.8" opacity="0.5"/>
<line x1="449.30" y1="296.20" x2="449.30" y2="322.50" stroke="#000" stroke-width="0.8" opacity="0.5"/>
<line x1="449.30" y1="322.50" x2="449.30" y2="349.40" stroke="#000" stroke-width="1.0" opacity="0.9"/>
<line x1="449.30" y1="349.40" x2="449.30" y2="375.70" stroke="#000" stroke-width="1.0" opacity="0.9"/>
<line x1="449.30" y1="375.70" x2="449.30" y2="402.40" stroke="#000" stroke-width="1.0" opacity="0.9"/>
<line x1="449.30" y1="402.40" x2="449.30" y2="429.30" stroke="#000" stroke-width="1.0" opacity="0.9"/>
<line x1="449.30" y1="429.30" x2="449.30" y2="456.10" stroke="#000" stroke-width="1.0" opacity="0.9"/>
<line x1="449.30" y1="456.10" x2="449.30" y2="483.10" stroke="#000" stroke-width="1.0" opacity="0.9"/>
<line x1="449.30" y1="483.10" x2="449.30" y2="509.50" stroke="#000" stroke-width="1.0" opacity="0.9"/>
<line x1="449.30" y1="509.50" x2="449.30" y2="536.40" stroke="#000" stroke-width="0.8" opacity="0.5"/>
<line x1="449.30" y1="536.40" x2="449.30" y2="563.20" stroke="#000" stroke-width="0.8" opacity="0.5"/>
<line x1="449.30" y1="563.20" x2="449.30" y2="590.00" stroke="#000" stroke-width="0.8" opacity="0.5"/>
<line x1="449.30" y1="590.00" x2="449.30" y2="616.40" stroke="#000" stroke-width="0.8" opacity="0.5"/>
<line x1="449.30" y1="616.40" x2="449.30" y2="643.20" stroke="#000" stroke-width="0.8" opacity="0.5"/>
<line x1="449.30" y1="643.20" x2="449.30" y2="669.90" stroke="#000" stroke-width="0.8" opacity="0.5"/>
<line x1="449.30" y1="669.90" x2="449.30" y2="696.50" stroke="#000" stroke-width="0.8" opacity="0.5"/>
<line x1="484.60" y1="136.10" x2="484.60" y2="162.00" stroke="#000" stroke-width="0.8" opacity="0.5"/>
<line x1="484.60" y1="162.00" x2="484.60" y2="189.50" stroke="#000" stroke-width="0.8" opacity="0.5"/>
<line x1="484.60" y1="189.50" x2="484.60" y2="215.70" stroke="#000" stroke-width="0.8" opacity="0.5"/>
<line x1="484.60" y1="215.70" x2="484.60" y2="242.30" stroke="#000" stroke-width="0.8" opacity="0.5"/>
<line x1="484.60" y1="242.30" x2="484.60" y2="269.60" stroke="#000" stroke-width="0.8" opacity="0.5"/>
<line x1="484.60" y1="269.60" x2="484.60" y2="296.20" stroke="#000" stroke-width="0.8" opacity="0.5"/>
<line x1="484.60" y1="296.20" x2="484.60" y2="322.50" stroke="#000" stroke-width="0.8" opacity="0.5"/>
<line x1="484.60" y1="322.50" x2="484.60" y2="349.40" stroke="#000" stroke-width="1.0" opacity="0.9"/>
<line x1="484.60" y1="349.40" x2="484.60" y2="375.70" stroke="#000" stroke-width="1.0" opacity="0.9"/>
<line x1="484.60" y1="375.70" x2="484.60" y2="402.40" stroke="#000" stroke-width="1.0" opacity="0.9"/>
<line x1="484.60" y1="402.40" x2="484.60" y2="429.30" stroke="#000" stroke-width="1.0" opacity="0.9"/>
<line x1="484.60" y1="429.30" x2="484.60" y2="456.10" stroke="#000" stroke-width="1.0" opacity="0.9"/>
<line x1="484.60" y1="456.10" x2="484.60" y2="483.10" stroke="#000" stroke-width="1.0" opacity="0.9"/>
<line x1="484.60" y1="483.10" x2="484.60" y2="509.50" stroke="#000" stroke-width="1.0" opacity="0.9"/>
<line x1="484.60" y1="509.50" x2="484.60" y2="536.40" stroke="#000" stroke-width="0.8" opacity="0.5"/>
<line x1="484.60" y1="536.40" x2="484.60" y2="563.20" stroke="#000" stroke-width="0.8" opacity="0.5"/>
<line x1="484.60" y1="563.20" x2="484.60" y2="590.00" stroke="#000" stroke-width="0.8" opacity="0.5"/>
<line x1="484.60" y1="590.00" x2="484.60" y2="616.40" stroke="#000" stroke-width="0.8" opacity="0.5"/>
<line x1="484.60" y1="616.40" x2="484.60" y2="643.20" stroke="#000" stroke-width="0.8" opacity="0.5"/>
<line x1="484.60" y1="643.20" x2="484.60" y2="669.90" stroke="#000" stroke-width="0.8" opacity="0.5"/>
<line x1="484.60" y1="669.90" x2="484.60" y2="696.50" stroke="#000" stroke-width="0.8" opacity="0.5"/>
<line x1="519.90" y1="136.10" x2="519.90" y2="162.00" stroke="#000" stroke-width="1.0" opacity="0.9"/>
<line x1="519.90" y1="162.00" x2="519.90" y2="189.50" stroke="#000" stroke-width="1.0" opacity="0.9"/>
<line x1="519.90" y1="189.50" x2="519.90" y2="215.70" stroke="#000" stroke-width="1.0" opacity="0.9"/>
<line x1="519.90" y1="215.70" x2="519.90" y2="242.30" stroke="#000" stroke-width="1.0" opacity="0.9"/>
<line x1="519.90" y1="242.30" x2="519.90" y2="269.60" stroke="#000" stroke-width="1.0" opacity="0.9"/>
<line x1="519.90" y1="269.60" x2="519.90" y2="296.20" stroke="#000" stroke-width="1.0" opacity="0.9"/>
<line x1="519.90" y1="296.20" x2="519.90" y2="322.50" stroke="#000" stroke-width="1.0" opacity="0.9"/>
<line x1="519.90" y1="322.50" x2="519.90" y2="349.40" stroke="#000" stroke-width="1.0" opacity="0.9"/>
<line x1="519.90" y1="349.40" x2="519.90" y2="375.70" stroke="#000" stroke-width="1.0" opacity="0.9"/>
<line x1="519.90" y1="375.70" x2="519.90" y2="402.40" stroke="#000" stroke-width="1.0" opacity="0.9"/>
<line x1="519.90" y1="402.40" x2="519.90" y2="429.30" stroke="#000" stroke-width="1.0" opacity="0.9"/>
<line x1="519.90" y1="429.30" x2="519.90" y2="456.10" stroke="#000" stroke-width="1.0" opacity="0.9"/>
<line x1="519.90" y1="456.10" x2="519.90" y2="483.10" stroke="#000" stroke-width="1.0" opacity="0.9"/>
<line x1="519.90" y1="483.10" x2="519.90" y2="509.50" stroke="#000" stroke-width="1.0" opacity="0.9"/>
<line x1="519.90" y1="509.50" x2="519.90" y2="536.40" stroke="#000" stroke-width="1.0" opacity="0.9"/>
<line x1="519.90" y1="536.40" x2="519.90" y2="563.20" stroke="#000" stroke-width="1.0" opacity="0.9"/>
<line x1="519.90" y1="563.20" x2="519.90" y2="590.00" stroke="#000" stroke-width="1.0" opacity="0.9"/>
<line x1="519.90" y1="590.00" x2="519.90" y2="616.40" stroke="#000" stroke-width="1.0" opacity="0.9"/>
<line x1="519.90" y1="616.40" x2="519.90" y2="643.20" stroke="#000" stroke-width="1.0" opacity="0.9"/>
<line x1="519.90" y1="643.20" x2="519.90" y2="669.90" stroke="#000" stroke-width="1.0" opacity="0.9"/>
<line x1="519.90" y1="669.90" x2="519.90" y2="696.50" stroke="#000" stroke-width="1.0" opacity="0.9"/>
<line x1="554.20" y1="136.10" x2="554.20" y2="162.00" stroke="#000" stroke-width="1.0" opacity="0.9"/>
<line x1="554.20" y1="162.00" x2="554.20" y2="189.50" stroke="#000" stroke-width="1.0" opacity="0.9"/>
<line x1="554.20" y1="189.50" x2="554.20" y2="215.70" stroke="#000" stroke-width="1.0" opacity="0.9"/>
<line x1="554.20" y1="215.70" x2="554.20" y2="242.30" stroke="#000" stroke-width="1.0" opacity="0.9"/>
<line x1="554.20" y1="242.30" x2="554.20" y2="269.60" stroke="#000" stroke-width="1.0" opacity="0.9"/>
<line x1="554.20" y1="269.60" x2="554.20" y2="296.20" stroke="#000" stroke-width="1.0" opacity="0.9"/>
<line x1="554.20" y1="296.20" x2="554.20" y2="322.50" stroke="#000" stroke-width="1.0" opacity="0.9"/>
<line x1="554.20" y1="322.50" x2="554.20" y2="349.40" stroke="#000" stroke-width="1.0" opacity="0.9"/>
<line x1="554.20" y1="349.40" x2="554.20" y2="375.70" stroke="#000" stroke-width="1.0" opacity="0.9"/>
<line x1="554.20" y1="375.70" x2="554.20" y2="402.40" stroke="#000" stroke-width="1.0" opacity="0.9"/>
<line x1="554.20" y1="402.40" x2="554.20" y2="429.30" stroke="#000" stroke-width="1.0" opacity="0.9"/>
<line x1="554.20" y1="429.30" x2="554.20" y2="456.10" stroke="#000" stroke-width="1.0" opacity="0.9"/>
<line x1="554.20" y1="456.10" x2="554.20" y2="483.10" stroke="#000" stroke-width="1.0" opacity="0.9"/>
<line x1="554.20" y1="483.10" x2="554.20" y2="509.50" stroke="#000" stroke-width="1.0" opacity="0.9"/>
<line x1="554.20" y1="509.50" x2="554.20" y2="536.40" stroke="#000" stroke-width="1.0" opacity="0.9"/>
<line x1="554.20" y1="536.40" x2="554.20" y2="563.20" stroke="#000" stroke-width="1.0" opacity="0.9"/>
<line x1="554.20" y1="563.20" x2="554.20" y2="590.00" stroke="#000" stroke-width="1.0" opacity="0.9"/>
<line x1="554.20" y1="590.00" x2="554.20" y2="616.40" stroke="#000" stroke-width="1.0" opacity="0.9"/>
<line x1="554.20" y1="616.40" x2="554.20" y2="643.20" stroke="#000" stroke-width="1.0" opacity="0.9"/>
<line x1="554.20" y1="643.20" x2="554.20" y2="669.90" stroke="#000" stroke-width="1.0" opacity="0.9"/>
<line x1="554.20" y1="669.90" x2="554.20" y2="696.50" stroke="#000" stroke-width="1.0" opacity="0.9"/>
<line x1="588.25" y1="136.10" x2="588.25" y2="162.00" stroke="#000" stroke-width="1.0" opacity="0.9"/>
<line x1="588.25" y1="162.00" x2="588.25" y2="189.50" stroke="#000" stroke-width="1.0" opacity="0.9"/>
<line x1="588.25" y1="189.50" x2="588.25" y2="215.70" stroke="#000" stroke-width="1.0" opacity="0.9"/>
<line x1="588.25" y1="215.70" x2="588.25" y2="242.30" stroke="#000" stroke-width="1.0" opacity="0.9"/>
<line x1="588.25" y1="242.30" x2="588.25" y2="269.60" stroke="#000" stroke-width="1.0" opacity="0.9"/>
<line x1="588.25" y1="269.60" x2="588.25" y2="296.20" stroke="#000" stroke-width="1.0" opacity="0.9"/>
<line x1="588.25" y1="296.20" x2="588.25" y2="322.50" stroke="#000" stroke-width="1.0" opacity="0.9"/>
<line x1="588.25" y1="322.50" x2="588.25" y2="349.40" stroke="#000" stroke-width="1.0" opacity="0.9"/>
<line x1="588.25" y1="349.40" x2="588.25" y2="375.70" stroke="#000" stroke-width="1.0" opacity="0.9"/>
<line x1="588.25" y1="375.70" x2="588.25" y2="402.40" stroke="#000" stroke-width="1.0" opacity="0.9"/>
<line x1="588.25" y1="402.40" x2="588.25" y2="429.30" stroke="#000" stroke-width="1.0" opacity="0.9"/>
<line x1="588.25" y1="429.30" x2="588.25" y2="456.10" stroke="#000" stroke-width="1.0" opacity="0.9"/>
<line x1="588.25" y1="456.10" x2="588.25" y2="483.10" stroke="#000" stroke-width="1.0" opacity="0.9"/>
<line x1="588.25" y1="483.10" x2="588.25" y2="509.50" stroke="#000" stroke-width="1.0" opacity="0.9"/>
<line x1="588.25" y1="509.50" x2="588.25" y2="536.40" stroke="#000" stroke-width="1.0" opacity="0.9"/>
<line x1="588.25" y1="536.40" x2="588.25" y2="563.20" stroke="#000" stroke-width="1.0" opacity="0.9"/>
<line x1="588.25" y1="563.20" x2="588.25" y2="590.00" stroke="#000" stroke-width="1.0" opacity="0.9"/>
<line x1="588.25" y1="590.00" x2="588.25" y2="616.40" stroke="#000" stroke-width="1.0" opacity="0.9"/>
<line x1="588.25" y1="616.40" x2="588.25" y2="643.20" stroke="#000" stroke-width="1.0" opacity="0.9"/>
<line x1="588.25" y1="643.20" x2="588.25" y2="669.90" stroke="#000" stroke-width="1.0" opacity="0.9"/>
<line x1="588.25" y1="669.90" x2="588.25" y2="696.50" stroke="#000" stroke-width="1.0" opacity="0.9"/>
<line x1="623.50" y1="136.10" x2="623.50" y2="162.00" stroke="#000" stroke-width="1.0" opacity="0.9"/>
<line x1="623.50" y1="162.00" x2="623.50" y2="189.50" stroke="#000" stroke-width="1.0" opacity="0.9"/>
<line x1="623.50" y1="189.50" x2="623.50" y2="215.70" stroke="#000" stroke-width="1.0" opacity="0.9"/>
<line x1="623.50" y1="215.70" x2="623.50" y2="242.30" stroke="#000" stroke-width="1.0" opacity="0.9"/>
<line x1="623.50" y1="242.30" x2="623.50" y2="269.60" stroke="#000" stroke-width="1.0" opacity="0.9"/>
<line x1="623.50" y1="269.60" x2="623.50" y2="296.20" stroke="#000" stroke-width="1.0" opacity="0.9"/>
<line x1="623.50" y1="296.20" x2="623.50" y2="322.50" stroke="#000" stroke-width="1.0" opacity="0.9"/>
<line x1="623.50" y1="322.50" x2="623.50" y2="349.40" stroke="#000" stroke-width="1.0" opacity="0.9"/>
<line x1="623.50" y1="349.40" x2="623.50" y2="375.70" stroke="#000" stroke-width="1.0" opacity="0.9"/>
<line x1="623.50" y1="375.70" x2="623.50" y2="402.40" stroke="#000" stroke-width="1.0" opacity="0.9"/>
<line x1="623.50" y1="402.40" x2="623.50" y2="429.30" stroke="#000" stroke-width="1.0" opacity="0.9"/>
<line x1="623.50" y1="429.30" x2="623.50" y2="456.10" stroke="#000" stroke-width="1.0" opacity="0.9"/>
<line x1="623.50" y1="456.10" x2="623.50" y2="483.10" stroke="#000" stroke-width="1.0" opacity="0.9"/>
<line x1="623.50" y1="483.10" x2="623.50" y2="509.50" stroke="#000" stroke-width="1.0" opacity="0.9"/>
<line x1="623.50" y1="509.50" x2="623.50" y2="536.40" stroke="#000" stroke-width="1.0" opacity="0.9"/>
<line x1="623.50" y1="536.40" x2="623.50" y2="563.20" stroke="#000" stroke-width="1.0" opacity="0.9"/>
<line x1="623.50" y1="563.20" x2="623.50" y2="590.00" stroke="#000" stroke-width="1.0" opacity="0.9"/>
<line x1="623.50" y1="590.00" x2="623.50" y2="616.40" stroke="#000" stroke-width="1.0" opacity="0.9"/>
<line x1="623.50" y1="616.40" x2="623.50" y2="643.20" stroke="#000" stroke-width="1.0" opacity="0.9"/>
<line x1="623.50" y1="643.20" x2="623.50" y2="669.90" stroke="#000" stroke-width="1.0" opacity="0.9"/>
<line x1="623.50" y1="669.90" x2="623.50" y2="696.50" stroke="#000" stroke-width="1.0" opacity="0.9"/>
<line x1="657.40" y1="136.10" x2="657.40" y2="162.00" stroke="#000" stroke-width="1.0" opacity="0.9"/>
<line x1="657.40" y1="162.00" x2="657.40" y2="189.50" stroke="#000" stroke-width="1.0" opacity="0.9"/>
<line x1="657.40" y1="189.50" x2="657.40" y2="215.70" stroke="#000" stroke-width="1.0" opacity="0.9"/>
<line x1="657.40" y1="215.70" x2="657.40" y2="242.30" stroke="#000" stroke-width="1.0" opacity="0.9"/>
<line x1="657.40" y1="242.30" x2="657.40" y2="269.60" stroke="#000" stroke-width="1.0" opacity="0.9"/>
<line x1="657.40" y1="269.60" x2="657.40" y2="296.20" stroke="#000" stroke-width="1.0" opacity="0.9"/>
<line x1="657.40" y1="296.20" x2="657.40" y2="322.50" stroke="#000" stroke-width="1.0" opacity="0.9"/>
<line x1="657.40" y1="322.50" x2="657.40" y2="349.40" stroke="#000" stroke-width="1.0" opacity="0.9"/>
<line x1="657.40" y1="349.40" x2="657.40" y2="375.70" stroke="#000" stroke-width="1.0" opacity="0.9"/>
<line x1="657.40" y1="375.70" x2="657.40" y2="402.40" stroke="#000" stroke-width="1.0" opacity="0.9"/>
<line x1="657.40" y1="402.40" x2="657.40" y2="429.30" stroke="#000" stroke-width="1.0" opacity="0.9"/>
<line x1="657.40" y1="429.30" x2="657.40" y2="456.10" stroke="#000" stroke-width="1.0" opacity="0.9"/>
<line x1="657.40" y1="456.10" x2="657.40" y2="483.10" stroke="#000" stroke-width="1.0" opacity="0.9"/>
<line x1="657.40" y1="483.10" x2="657.40" y2="509.50" stroke="#000" stroke-width="1.0" opacity="0.9"/>
<line x1="657.40" y1="509.50" x2="657.40" y2="536.40" stroke="#000" stroke-width="1.0" opacity="0.9"/>
<line x1="657.40" y1="536.40" x2="657.40" y2="563.20" stroke="#000" stroke-width="1.0" opacity="0.9"/>
<line x1="657.40" y1="563.20" x2="657.40" y2="590.00" stroke="#000" stroke-width="1.0" opacity="0.9"/>
<line x1="657.40" y1="590.00" x2="657.40" y2="616.40" stroke="#000" stroke-width="1.0" opacity="0.9"/>
<line x1="657.40" y1="616.40" x2="657.40" y2="643.20" stroke="#000" stroke-width="1.0" opacity="0.9"/>
<line x1="657.40" y1="643.20" x2="657.40" y2="669.90" stroke="#000" stroke-width="1.0" opacity="0.9"/>
<line x1="657.40" y1="669.90" x2="657.40" y2="696.50" stroke="#000" stroke-width="1.0" opacity="0.9"/>
<line x1="693.20" y1="136.10" x2="693.20" y2="162.00" stroke="#000" stroke-width="1.0" opacity="0.9"/>
<line x1="693.20" y1="162.00" x2="693.20" y2="189.50" stroke="#000" stroke-width="1.0" opacity="0.9"/>
<line x1="693.20" y1="189.50" x2="693.20" y2="215.70" stroke="#000" stroke-width="1.0" opacity="0.9"/>
<line x1="693.20" y1="215.70" x2="693.20" y2="242.30" stroke="#000" stroke-width="1.0" opacity="0.9"/>
<line x1="693.20" y1="242.30" x2="693.20" y2="269.60" stroke="#000" stroke-width="1.0" opacity="0.9"/>
<line x1="693.20" y1="269.60" x2="693.20" y2="296.20" stroke="#000" stroke-width="1.0" opacity="0.9"/>
<line x1="693.20" y1="296.20" x2="693.20" y2="322.50" stroke="#000" stroke-width="1.0" opacity="0.9"/>
<line x1="693.20" y1="322.50" x2="693.20" y2="349.40" stroke="#000" stroke-width="1.0" opacity="0.9"/>
<line x1="693.20" y1="349.40" x2="693.20" y2="375.70" stroke="#000" stroke-width="1.0" opacity="0.9"/>
<line x1="693.20" y1="375.70" x2="693.20" y2="402.40" stroke="#000" stroke-width="1.0" opacity="0.9"/>
<line x1="693.20" y1="402.40" x2="693.20" y2="429.30" stroke="#000" stroke-width="1.0" opacity="0.9"/>
<line x1="693.20" y1="429.30" x2="693.20" y2="456.10" stroke="#000" stroke-width="1.0" opacity="0.9"/>
<line x1="693.20" y1="456.10" x2="693.20" y2="483.10" stroke="#000" stroke-width="1.0" opacity="0.9"/>
<line x1="693.20" y1="483.10" x2="693.20" y2="509.50" stroke="#000" stroke-width="1.0" opacity="0.9"/>
<line x1="693.20" y1="509.50" x2="693.20" y2="536.40" stroke="#000" stroke-width="1.0" opacity="0.9"/>
<line x1="693.20" y1="536.40" x2="693.20" y2="563.20" stroke="#000" stroke-width="1.0" opacity="0.9"/>
<line x1="693.20" y1="563.20" x2="693.20" y2="590.00" stroke="#000" stroke-width="1.0" opacity="0.9"/>
<line x1="693.20" y1="590.00" x2="693.20" y2="616.40" stroke="#000" stroke-width="1.0" opacity="0.9"/>
<line x1="693.20" y1="616.40" x2="693.20" y2="643.20" stroke="#000" stroke-width="1.0" opacity="0.9"/>
<line x1="693.20" y1="643.20" x2="693.20" y2="669.90" stroke="#000" stroke-width="1.0" opacity="0.9"/>
<line x1="693.20" y1="669.90" x2="693.20" y2="696.50" stroke="#000" stroke-width="1.0" opacity="0.9"/>
<line x1="728.60" y1="136.10" x2="728.60" y2="162.00" stroke="#000" stroke-width="1.0" opacity="0.9"/>
<line x1="728.60" y1="162.00" x2="728.60" y2="189.50" stroke="#000" stroke-width="1.0" opacity="0.9"/>
<line x1="728.60" y1="189.50" x2="728.60" y2="215.70" stroke="#000" stroke-width="1.0" opacity="0.9"/>
<line x1="728.60" y1="215.70" x2="728.60" y2="242.30" stroke="#000" stroke-width="1.0" opacity="0.9"/>
<line x1="728.60" y1="242.30" x2="728.60" y2="269.60" stroke="#000" stroke-width="1.0" opacity="0.9"/>
<line x1="728.60" y1="269.60" x2="728.60" y2="296.20" stroke="#000" stroke-width="1.0" opacity="0.9"/>
<line x1="728.60" y1="296.20" x2="728.60" y2="322.50" stroke="#000" stroke-width="1.0" opacity="0.9"/>
<line x1="728.60" y1="322.50" x2="728.60" y2="349.40" stroke="#000" stroke-width="1.0" opacity="0.9"/>
<line x1="728.60" y1="349.40" x2="728.60" y2="375.70" stroke="#000" stroke-width="1.0" opacity="0.9"/>
<line x1="728.60" y1="375.70" x2="728.60" y2="402.40" stroke="#000" stroke-width="1.0" opacity="0.9"/>
<line x1="728.60" y1="402.40" x2="728.60" y2="429.30" stroke="#000" stroke-width="1.0" opacity="0.9"/>
<line x1="728.60" y1="429.30" x2="728.60" y2="456.10" stroke="#000" stroke-width="1.0" opacity="0.9"/>
<line x1="728.60" y1="456.10" x2="728.60" y2="483.10" stroke="#000" stroke-width="1.0" opacity="0.9"/>
<line x1="728.60" y1="483.10" x2="728.60" y2="509.50" stroke="#000" stroke-width="1.0" opacity="0.9"/>
<line x1="728.60" y1="509.50" x2="728.60" y2="536.40" stroke="#000" stroke-width="1.0" opacity="0.9"/>
<line x1="728.60" y1="536.40" x2="728.60" y2="563.20" stroke="#000" stroke-width="1.0" opacity="0.9"/>
<line x1="728.60" y1="563.20" x2="728.60" y2="590.00" stroke="#000" stroke-width="1.0" opacity="0.9"/>
<line x1="728.60" y1="590.00" x2="728.60" y2="616.40" stroke="#000" stroke-width="1.0" opacity="0.9"/>
<line x1="728.60" y1="616.40" x2="728.60" y2="643.20" stroke="#000" stroke-width="1.0" opacity="0.9"/>
<line x1="728.60" y1="643.20" x2="728.60" y2="669.90" stroke="#000" stroke-width="1.0" opacity="0.9"/>
<line x1="728.60" y1="669.90" x2="728.60" y2="696.50" stroke="#000" stroke-width="1.0" opacity="0.9"/>
<line x1="764.40" y1="136.10" x2="764.40" y2="162.00" stroke="#000" stroke-width="1.0" opacity="0.9"/>
<line x1="764.40" y1="162.00" x2="764.40" y2="189.50" stroke="#000" stroke-width="1.0" opacity="0.9"/>
<line x1="764.40" y1="189.50" x2="764.40" y2="215.70" stroke="#000" stroke-width="1.0" opacity="0.9"/>
<line x1="764.40" y1="215.70" x2="764.40" y2="242.30" stroke="#000" stroke-width="1.0" opacity="0.9"/>
<line x1="764.40" y1="242.30" x2="764.40" y2="269.60" stroke="#000" stroke-width="1.0" opacity="0.9"/>
<line x1="764.40" y1="269.60" x2="764.40" y2="296.20" stroke="#000" stroke-width="1.0" opacity="0.9"/>
<line x1="764.40" y1="296.20" x2="764.40" y2="322.50" stroke="#000" stroke-width="1.0" opacity="0.9"/>
<line x1="764.40" y1="322.50" x2="764.40" y2="349.40" stroke="#000" stroke-width="1.0" opacity="0.9"/>
<line x1="764.40" y1="349.40" x2="764.40" y2="375.70" stroke="#000" stroke-width="1.0" opacity="0.9"/>
<line x1="764.40" y1="375.70" x2="764.40" y2="402.40" stroke="#000" stroke-width="1.0" opacity="0.9"/>
<line x1="764.40" y1="402.40" x2="764.40" y2="429.30" stroke="#000" stroke-width="1.0" opacity="0.9"/>
<line x1="764.40" y1="429.30" x2="764.40" y2="456.10" stroke="#000" stroke-width="1.0" opacity="0.9"/>
<line x1="764.40" y1="456.10" x2="764.40" y2="483.10" stroke="#000" stroke-width="1.0" opacity="0.9"/>
<line x1="764.40" y1="483.10" x2="764.40" y2="509.50" stroke="#000" stroke-width="1.0" opacity="0.9"/>
<line x1="764.40" y1="509.50" x2="764.40" y2="536.40" stroke="#000" stroke-width="1.0" opacity="0.9"/>
<line x1="764.40" y1="536.40" x2="764.40" y2="563.20" stroke="#000" stroke-width="1.0" opacity="0.9"/>
<line x1="764.40" y1="563.20" x2="764.40" y2="590.00" stroke="#000" stroke-width="1.0" opacity="0.9"/>
<line x1="764.40" y1="590.00" x2="764.40" y2="616.40" stroke="#000" stroke-width="1.0" opacity="0.9"/>
<line x1="764.40" y1="616.40" x2="764.40" y2="643.20" stroke="#000" stroke-width="1.0" opacity="0.9"/>
<line x1="764.40" y1="643.20" x2="764.40" y2="669.90" stroke="#000" stroke-width="1.0" opacity="0.9"/>
<line x1="764.40" y1="669.90" x2="764.40" y2="696.50" stroke="#000" stroke-width="1.0" opacity="0.9"/>
<line x1="800.00" y1="136.10" x2="800.00" y2="162.00" stroke="#000" stroke-width="1.0" opacity="0.9"/>
<line x1="800.00" y1="162.00" x2="800.00" y2="189.50" stroke="#000" stroke-width="1.0" opacity="0.9"/>
<line x1="800.00" y1="189.50" x2="800.00" y2="215.70" stroke="#000" stroke-width="1.0" opacity="0.9"/>
<line x1="800.00" y1="215.70" x2="800.00" y2="242.30" stroke="#000" stroke-width="1.0" opacity="0.9"/>
<line x1="800.00" y1="242.30" x2="800.00" y2="269.60" stroke="#000" stroke-width="1.0" opacity="0.9"/>
<line x1="800.00" y1="269.60" x2="800.00" y2="296.20" stroke="#000" stroke-width="1.0" opacity="0.9"/>
<line x1="800.00" y1="296.20" x2="800.00" y2="322.50" stroke="#000" stroke-width="1.0" opacity="0.9"/>
<line x1="800.00" y1="322.50" x2="800.00" y2="349.40" stroke="#000" stroke-width="1.0" opacity="0.9"/>
<line x1="800.00" y1="349.40" x2="800.00" y2="375.70" stroke="#000" stroke-width="1.0" opacity="0.9"/>
<line x1="800.00" y1="375.70" x2="800.00" y2="402.40" stroke="#000" stroke-width="1.0" opacity="0.9"/>
<line x1="800.00" y1="402.40" x2="800.00" y2="429.30" stroke="#000" stroke-width="1.0" opacity="0.9"/>
<line x1="800.00" y1="429.30" x2="800.00" y2="456.10" stroke="#000" stroke-width="1.0" opacity="0.9"/>
<line x1="800.00" y1="456.10" x2="800.00" y2="483.10" stroke="#000" stroke-width="1.0" opacity="0.9"/>
<line x1="800.00" y1="483.10" x2="800.00" y2="509.50" stroke="#000" stroke-width="1.0" opacity="0.9"/>
<line x1="800.00" y1="509.50" x2="800.00" y2="536.40" stroke="#000" stroke-width="1.0" opacity="0.9"/>
<line x1="800.00" y1="536.40" x2="800.00" y2="563.20" stroke="#000" stroke-width="1.0" opacity="0.9"/>
<line x1="800.00" y1="563.20" x2="800.00" y2="590.00" stroke="#000" stroke-width="1.0" opacity="0.9"/>
<line x1="800.00" y1="590.00" x2="800.00" y2="616.40" stroke="#000" stroke-width="1.0" opacity="0.9"/>
<line x1="800.00" y1="616.40" x2="800.00" y2="643.20" stroke="#000" stroke-width="1.0" opacity="0.9"/>
<line x1="800.00" y1="643.20" x2="800.00" y2="669.90" stroke="#000" stroke-width="1.0" opacity="0.9"/>
<line x1="800.00" y1="669.90" x2="800.00" y2="696.50" stroke="#000" stroke-width="1.0" opacity="0.9"/>
<!--THICK-->
<line x1="100.25" y1="57.00" x2="100.25" y2="758.00" stroke="#000" stroke-width="2.4" />
<line x1="346.00" y1="57.00" x2="346.00" y2="758.00" stroke="#000" stroke-width="2.4" />
<line x1="588.25" y1="57.00" x2="588.25" y2="758.00" stroke="#000" stroke-width="2.4" />
<line x1="833.90" y1="57.00" x2="833.90" y2="758.00" stroke="#000" stroke-width="2.4" />
<line x1="99.05" y1="136.10" x2="835.10" y2="136.10" stroke="#000" stroke-width="2.2" />
<line x1="99.05" y1="322.50" x2="835.10" y2="322.50" stroke="#000" stroke-width="2.2" />
<line x1="99.05" y1="509.50" x2="835.10" y2="509.50" stroke="#000" stroke-width="2.2" />
<line x1="99.05" y1="696.50" x2="835.10" y2="696.50" stroke="#000" stroke-width="2.2" />
<line x1="12.00" y1="322.50" x2="100.00" y2="322.50" stroke="#000" stroke-width="1.6" />
<line x1="833.00" y1="322.50" x2="1019.50" y2="322.50" stroke="#000" stroke-width="1.6" />
<line x1="12.00" y1="509.50" x2="100.00" y2="509.50" stroke="#000" stroke-width="1.6" />
<line x1="833.00" y1="509.50" x2="1019.50" y2="509.50" stroke="#000" stroke-width="1.6" />
<line x1="12.00" y1="696.50" x2="100.00" y2="696.50" stroke="#000" stroke-width="1.6" />
<line x1="833.00" y1="696.50" x2="1019.50" y2="696.50" stroke="#000" stroke-width="1.6" />
<line x1="833.00" y1="136.10" x2="1019.50" y2="136.10" stroke="#000" stroke-width="1.6" />
<line x1="133.80" y1="162.00" x2="413.00" y2="162.00" stroke="#000" stroke-width="1.0" opacity="0.75"/>
<line x1="133.80" y1="162.00" x2="413.00" y2="162.00" stroke="#000" stroke-width="2.0" stroke-dasharray="5 2"/>
<line x1="519.90" y1="162.00" x2="800.00" y2="162.00" stroke="#000" stroke-width="1.0" opacity="0.75"/>
<line x1="519.90" y1="162.00" x2="800.00" y2="162.00" stroke="#000" stroke-width="2.0" stroke-dasharray="5 2"/>
<line x1="133.80" y1="669.90" x2="413.00" y2="669.90" stroke="#000" stroke-width="1.0" opacity="0.75"/>
<line x1="133.80" y1="669.90" x2="413.00" y2="669.90" stroke="#000" stroke-width="2.0" stroke-dasharray="5 2"/>
<line x1="519.90" y1="669.90" x2="800.00" y2="669.90" stroke="#000" stroke-width="1.0" opacity="0.75"/>
<line x1="519.90" y1="669.90" x2="800.00" y2="669.90" stroke="#000" stroke-width="2.0" stroke-dasharray="5 2"/>
<line x1="133.80" y1="162.00" x2="133.80" y2="375.70" stroke="#000" stroke-width="1.0" opacity="0.75"/>
<line x1="133.80" y1="162.00" x2="133.80" y2="375.70" stroke="#000" stroke-width="2.0" stroke-dasharray="5 2"/>
<line x1="133.80" y1="456.10" x2="133.80" y2="669.90" stroke="#000" stroke-width="1.0" opacity="0.75"/>
<line x1="133.80" y1="456.10" x2="133.80" y2="669.90" stroke="#000" stroke-width="2.0" stroke-dasharray="5 2"/>
<line x1="800.00" y1="162.00" x2="800.00" y2="375.70" stroke="#000" stroke-width="1.0" opacity="0.75"/>
<line x1="800.00" y1="162.00" x2="800.00" y2="375.70" stroke="#000" stroke-width="2.0" stroke-dasharray="5 2"/>
<line x1="800.00" y1="456.10" x2="800.00" y2="669.90" stroke="#000" stroke-width="1.0" opacity="0.75"/>
<line x1="800.00" y1="456.10" x2="800.00" y2="669.90" stroke="#000" stroke-width="2.0" stroke-dasharray="5 2"/>
<line x1="413.00" y1="162.00" x2="413.00" y2="375.70" stroke="#000" stroke-width="1.0" opacity="0.75"/>
<line x1="413.00" y1="162.00" x2="413.00" y2="375.70" stroke="#000" stroke-width="2.0" stroke-dasharray="5 2"/>
<line x1="413.00" y1="456.10" x2="413.00" y2="669.90" stroke="#000" stroke-width="1.0" opacity="0.75"/>
<line x1="413.00" y1="456.10" x2="413.00" y2="669.90" stroke="#000" stroke-width="2.0" stroke-dasharray="5 2"/>
<line x1="519.90" y1="162.00" x2="519.90" y2="375.70" stroke="#000" stroke-width="1.0" opacity="0.75"/>
<line x1="519.90" y1="162.00" x2="519.90" y2="375.70" stroke="#000" stroke-width="2.0" stroke-dasharray="5 2"/>
<line x1="519.90" y1="456.10" x2="519.90" y2="669.90" stroke="#000" stroke-width="1.0" opacity="0.75"/>
<line x1="519.90" y1="456.10" x2="519.90" y2="669.90" stroke="#000" stroke-width="2.0" stroke-dasharray="5 2"/>
<line x1="133.80" y1="375.70" x2="413.00" y2="375.70" stroke="#000" stroke-width="1.0" opacity="0.75"/>
<line x1="133.80" y1="375.70" x2="413.00" y2="375.70" stroke="#000" stroke-width="2.0" stroke-dasharray="5 2"/>
<line x1="519.90" y1="375.70" x2="800.00" y2="375.70" stroke="#000" stroke-width="1.0" opacity="0.75"/>
<line x1="519.90" y1="375.70" x2="800.00" y2="375.70" stroke="#000" stroke-width="2.0" stroke-dasharray="5 2"/>
<line x1="133.80" y1="456.10" x2="413.00" y2="456.10" stroke="#000" stroke-width="1.0" opacity="0.75"/>
<line x1="133.80" y1="456.10" x2="413.00" y2="456.10" stroke="#000" stroke-width="2.0" stroke-dasharray="5 2"/>
<line x1="519.90" y1="456.10" x2="800.00" y2="456.10" stroke="#000" stroke-width="1.0" opacity="0.75"/>
<line x1="519.90" y1="456.10" x2="800.00" y2="456.10" stroke="#000" stroke-width="2.0" stroke-dasharray="5 2"/>
<line x1="413.00" y1="136.10" x2="413.00" y2="162.00" stroke="#000" stroke-width="1.9" />
<line x1="413.00" y1="669.90" x2="413.00" y2="696.50" stroke="#000" stroke-width="1.9" />
<line x1="519.90" y1="136.10" x2="519.90" y2="162.00" stroke="#000" stroke-width="1.9" />
<line x1="519.90" y1="669.90" x2="519.90" y2="696.50" stroke="#000" stroke-width="1.9" />
<line x1="100.25" y1="375.70" x2="133.80" y2="375.70" stroke="#000" stroke-width="1.9" />
<line x1="800.00" y1="375.70" x2="833.90" y2="375.70" stroke="#000" stroke-width="1.9" />
<line x1="100.25" y1="456.10" x2="133.80" y2="456.10" stroke="#000" stroke-width="1.9" />
<line x1="800.00" y1="456.10" x2="833.90" y2="456.10" stroke="#000" stroke-width="1.9" />
<rect x="413" y="375.7" width="106.89999999999998" height="80.40000000000003" fill="none" stroke="#000" stroke-width="1.8"/>
<ellipse cx="258.30" cy="335.95" rx="16.00" ry="14.40" fill="#FFFFFF" stroke="#000" stroke-width="1.7" />
<ellipse cx="151.40" cy="415.85" rx="15.90" ry="14.40" fill="#FFFFFF" stroke="#000" stroke-width="1.7" />
<ellipse cx="258.30" cy="415.85" rx="16.00" ry="14.40" fill="#FFFFFF" stroke="#000" stroke-width="1.7" />
<ellipse cx="258.30" cy="496.30" rx="16.00" ry="14.40" fill="#FFFFFF" stroke="#000" stroke-width="1.7" />
<ellipse cx="675.10" cy="335.95" rx="16.00" ry="14.40" fill="#FFFF99" stroke="#000" stroke-width="1.7" />
<ellipse cx="675.10" cy="415.85" rx="16.00" ry="14.40" fill="#FFFF99" stroke="#000" stroke-width="1.7" />
<ellipse cx="782.00" cy="415.85" rx="15.90" ry="14.40" fill="#FFFF99" stroke="#000" stroke-width="1.7" />
<ellipse cx="675.10" cy="496.30" rx="16.00" ry="14.40" fill="#FFFF99" stroke="#000" stroke-width="1.7" />
<ellipse cx="362.60" cy="255.95" rx="14.90" ry="14.40" fill="#FF9595" stroke="#000" stroke-width="1.7" />
<ellipse cx="571.02" cy="255.95" rx="15.12" ry="14.40" fill="#FF9595" stroke="#000" stroke-width="1.7" />
<ellipse cx="466.75" cy="175.75" rx="15.75" ry="14.40" fill="#FF9595" stroke="#000" stroke-width="1.7" />
<ellipse cx="362.60" cy="576.60" rx="14.90" ry="14.40" fill="#B7DEE8" stroke="#000" stroke-width="1.7" />
<ellipse cx="466.75" cy="576.60" rx="15.75" ry="14.40" fill="#B7DEE8" stroke="#000" stroke-width="1.7" />
<ellipse cx="571.02" cy="576.60" rx="15.12" ry="14.40" fill="#B7DEE8" stroke="#000" stroke-width="1.7" />
<ellipse cx="466.75" cy="656.55" rx="15.75" ry="14.40" fill="#B7DEE8" stroke="#000" stroke-width="1.7" />
<ellipse cx="466.75" cy="335.95" rx="15.75" ry="14.40" fill="#C3D69B" stroke="#000" stroke-width="1.7" />
<ellipse cx="466.75" cy="496.30" rx="15.75" ry="14.40" fill="#C3D69B" stroke="#000" stroke-width="1.7" />
<ellipse cx="362.60" cy="415.85" rx="14.90" ry="14.40" fill="#D7E4BD" stroke="#000" stroke-width="1.7" />
<ellipse cx="571.02" cy="415.85" rx="15.12" ry="14.40" fill="#D7E4BD" stroke="#000" stroke-width="1.7" />
<rect x="240.60" y="242.30" width="69.80" height="53.90" fill="none" stroke="#000" stroke-width="2.4"/>
<rect x="623.50" y="242.30" width="69.70" height="53.90" fill="none" stroke="#000" stroke-width="2.4"/>
<rect x="240.60" y="536.40" width="69.80" height="53.60" fill="none" stroke="#000" stroke-width="2.4"/>
<rect x="623.50" y="536.40" width="69.70" height="53.60" fill="none" stroke="#000" stroke-width="2.4"/>
<line x1="244.40" y1="267.20" x2="269.50" y2="248.60" stroke="#222" stroke-width="1" stroke-dasharray="2 1.6"/>
<line x1="658.20" y1="244.00" x2="684.90" y2="263.60" stroke="#222" stroke-width="1" stroke-dasharray="2 1.6"/>
<line x1="249.50" y1="567.10" x2="274.50" y2="588.40" stroke="#222" stroke-width="1" stroke-dasharray="2 1.6"/>
<line x1="658.00" y1="589.00" x2="684.00" y2="567.00" stroke="#222" stroke-width="1" />
<line x1="222.60" y1="229.60" x2="188.80" y2="206.00" stroke="#111" stroke-width="1.8" />
<line x1="222.60" y1="229.60" x2="221.80" y2="200.40" stroke="#111" stroke-width="1.8" />
<line x1="222.60" y1="229.60" x2="256.50" y2="206.00" stroke="#111" stroke-width="1.8" />
<line x1="222.60" y1="229.60" x2="190.00" y2="230.50" stroke="#111" stroke-width="1.8" />
<line x1="222.60" y1="229.60" x2="187.80" y2="257.00" stroke="#111" stroke-width="1.8" />
<ellipse cx="222.60" cy="229.60" rx="15.30" ry="14.40" fill="#fff" stroke="#111" stroke-width="1.9" />
<line x1="710.30" y1="229.80" x2="675.00" y2="204.50" stroke="#111" stroke-width="1.8" />
<line x1="710.30" y1="229.80" x2="710.00" y2="198.40" stroke="#111" stroke-width="1.8" />
<line x1="710.30" y1="229.80" x2="741.80" y2="207.00" stroke="#111" stroke-width="1.8" />
<line x1="710.30" y1="229.80" x2="743.70" y2="229.70" stroke="#111" stroke-width="1.8" />
<line x1="710.30" y1="229.80" x2="742.80" y2="254.20" stroke="#111" stroke-width="1.8" />
<ellipse cx="710.30" cy="229.80" rx="15.50" ry="14.60" fill="#fff" stroke="#111" stroke-width="1.9" />
<line x1="222.80" y1="603.30" x2="186.40" y2="579.20" stroke="#111" stroke-width="1.8" />
<line x1="222.80" y1="603.30" x2="187.30" y2="606.40" stroke="#111" stroke-width="1.8" />
<line x1="222.80" y1="603.30" x2="188.20" y2="631.70" stroke="#111" stroke-width="1.8" />
<line x1="222.80" y1="603.30" x2="220.70" y2="629.30" stroke="#111" stroke-width="1.8" />
<line x1="222.80" y1="603.30" x2="256.50" y2="631.10" stroke="#111" stroke-width="1.8" />
<ellipse cx="222.80" cy="603.30" rx="16.20" ry="13.90" fill="#fff" stroke="#111" stroke-width="1.9" />
<line x1="710.30" y1="602.60" x2="742.40" y2="580.00" stroke="#111" stroke-width="1.8" />
<line x1="710.30" y1="602.60" x2="741.50" y2="605.50" stroke="#111" stroke-width="1.8" />
<line x1="710.30" y1="602.60" x2="743.40" y2="630.20" stroke="#111" stroke-width="1.8" />
<line x1="710.30" y1="602.60" x2="710.00" y2="630.20" stroke="#111" stroke-width="1.8" />
<line x1="710.30" y1="602.60" x2="677.90" y2="629.30" stroke="#111" stroke-width="1.8" />
<ellipse cx="710.30" cy="602.60" rx="16.20" ry="13.70" fill="#fff" stroke="#111" stroke-width="1.9" />
<defs><linearGradient id="cg" x1="0" y1="0" x2="0" y2="1"><stop offset="0" stop-color="#000"/><stop offset="0.62" stop-color="#040404"/><stop offset="0.82" stop-color="#666"/><stop offset="1" stop-color="#b5b5b5"/></linearGradient><linearGradient id="cr" x1="0" y1="0" x2="1" y2="0"><stop offset="0" stop-color="#bdbdbd"/><stop offset="0.3" stop-color="#8f8f8f"/><stop offset="0.7" stop-color="#a8a8a8"/><stop offset="1" stop-color="#d0d0d0"/></linearGradient></defs>
<defs><linearGradient id="cl" x1="0" y1="0" x2="1" y2="0"><stop offset="0" stop-color="#d2d2d2"/><stop offset="1" stop-color="#8a8a8a"/></linearGradient><linearGradient id="crr" x1="0" y1="0" x2="1" y2="0"><stop offset="0" stop-color="#9c9c9c"/><stop offset="0.5" stop-color="#d8d8d8"/><stop offset="1" stop-color="#bdbdbd"/></linearGradient></defs>
<rect x="197.5" y="188" width="147.50" height="102.40" fill="rgba(110,110,110,0.17)" stroke="#adadad" stroke-width="1"/>
<rect x="388" y="191.5" width="145.70" height="53.50" fill="rgba(110,110,110,0.17)" stroke="#adadad" stroke-width="1"/>
<rect x="674" y="191.5" width="144.00" height="105.50" fill="rgba(110,110,110,0.17)" stroke="#adadad" stroke-width="1"/>
<rect x="157.5" y="355.5" width="157.00" height="111.30" fill="rgba(110,110,110,0.17)" stroke="#adadad" stroke-width="1"/>
<rect x="625.9" y="352.4" width="144.50" height="122.30" fill="rgba(110,110,110,0.17)" stroke="#adadad" stroke-width="1"/>
<rect x="142.6" y="536" width="167.40" height="100.00" fill="rgba(110,110,110,0.17)" stroke="#adadad" stroke-width="1"/>
<rect x="398" y="587.7" width="139.60" height="51.80" fill="rgba(110,110,110,0.17)" stroke="#adadad" stroke-width="1"/>
<rect x="619.3" y="536.6" width="187.20" height="106.90" fill="rgba(110,110,110,0.17)" stroke="#adadad" stroke-width="1"/>
<rect x="443.70" y="239.70" width="46.50" height="82.90" fill="url(#cg)" />
<polygon points="464.8,241.2 484,260.5 484.3,322.6 447.2,322.6 446.8,260.5" fill="#b4b4b4"/>
<polygon points="446.8,260.5 456.5,264 456.5,322.6 447.2,322.6" fill="url(#cl)"/>
<polygon points="484,260.5 473,265 473,322.6 484.3,322.6" fill="url(#crr)"/>
<polygon points="464.8,241.2 456.5,264 446.8,260.5" fill="#a9a9a9"/>
<polygon points="464.8,241.2 484,260.5 473,265" fill="#c4c4c4"/>
<polygon points="464.8,241.2 473,265 456.5,264" fill="#d6d6d6"/>
<polygon points="459.5,252 470.5,251.5 471.5,262 458.5,262.5" fill="#8d8d8d"/>
<polygon points="457,265 472.4,265 472,284 469.5,288 466.5,281 463.5,289 460.5,285 457.5,287" fill="#121212"/>
<polygon points="457,289 472,288 472,300 457,300" fill="#9a9a9a" opacity="0.7"/>
<path d="M449.5 268 L452 300 M480.5 266 L478 298 M476 270 L475 295" stroke="#eee" stroke-width="1.1" opacity="0.8" fill="none"/>
<ellipse cx="464.50" cy="304.60" rx="19.30" ry="16.80" fill="#fff" stroke="#000" stroke-width="2" />
<text x="464.50" y="307.13" font-size="6.5" font-weight="normal" fill="#8a9bb0" text-anchor="middle" >PH</text>
<defs><radialGradient id="ci" cx="0.5" cy="0.52" r="0.55"><stop offset="0" stop-color="#7fe0ff"/><stop offset="0.35" stop-color="#2f9fe0"/><stop offset="0.66" stop-color="#1c62c0"/><stop offset="0.88" stop-color="#0a167a"/><stop offset="1" stop-color="#00003f"/></radialGradient></defs>
<rect x="452.35" y="403.20" width="27.55" height="26.50" fill="#00003f" />
<rect x="452.35" y="403.20" width="27.55" height="26.50" fill="url(#ci)" />
<circle cx="466.1" cy="416.8" r="6.3" fill="none" stroke="#4a2fa0" stroke-width="1.2" opacity="0.8"/>
<circle cx="458.2" cy="412.6" r="1.1" fill="#e8f6ff"/>
<circle cx="473.8" cy="412.6" r="1.1" fill="#e8f6ff"/>
<circle cx="458.2" cy="421.2" r="1.1" fill="#e8f6ff"/>
<circle cx="473.8" cy="421.2" r="1.1" fill="#e8f6ff"/>
<circle cx="466.1" cy="408.4" r="1.1" fill="#e8f6ff"/>
<circle cx="466.1" cy="425.6" r="1.1" fill="#e8f6ff"/>
<path d="M462.2 406 L466.1 409 L470 406" stroke="#cfeaff" stroke-width="0.8" fill="none"/>
<circle cx="466.1" cy="417.3" r="2.6" fill="#8fe6ff" opacity="0.85"/>
<circle cx="462.5" cy="415.8" r="37.4" fill="none" stroke="#8c9470" stroke-width="1.2"/>
<line x1="493.00" y1="417.00" x2="505.00" y2="417.00" stroke="#000" stroke-width="1.2" />
<circle cx="512" cy="417" r="2.4" fill="#000"/>
<polygon points="374.8,323.5 379.3,323.5 379.3,328.0" fill="#f00000"/>
<polygon points="566.5,323.5 571.0,323.5 571.0,328.0" fill="#f00000"/>
<polygon points="374.8,484.1 379.3,484.1 379.3,488.6" fill="#f00000"/>
<polygon points="566.5,484.1 571.0,484.1 571.0,488.6" fill="#f00000"/>
<polygon points="479.7,403.3 484.7,403.3 484.7,408.3" fill="#f00000"/>
<text x="216.90" y="207.44" font-size="15.2" font-weight="bold" textLength="107.4" lengthAdjust="spacingAndGlyphs"><tspan fill="#FF0000">ALFA ALFA (VV)</tspan></text>
<text x="270.50" y="222.92" font-size="10.4" font-weight="bold" fill="#111" text-anchor="middle" textLength="73.0" lengthAdjust="spacingAndGlyphs" >1 Esfera mental</text>
<text x="270.50" y="237.31" font-size="11.2" font-weight="normal" fill="#CF5553" text-anchor="middle" textLength="101.4" lengthAdjust="spacingAndGlyphs"  stroke="#CF5553" stroke-width="0.28">1 DT - criação cósmica</text>
<text x="270.20" y="251.01" font-size="11.2" font-weight="normal" fill="#2A7FC8" text-anchor="middle" textLength="70.6" lengthAdjust="spacingAndGlyphs"  stroke="#2A7FC8" stroke-width="0.28">pre-consciente</text>
<text x="270.60" y="264.81" font-size="11.2" font-weight="normal" fill="#222222" text-anchor="middle" textLength="88.6" lengthAdjust="spacingAndGlyphs"  stroke="#222222" stroke-width="0.28">Samadhi &#160;Profunda</text>
<text x="270.10" y="279.51" font-size="11.2" font-weight="normal" fill="#E8802A" text-anchor="middle" textLength="112.4" lengthAdjust="spacingAndGlyphs"  stroke="#E8802A" stroke-width="0.28">campo de força invisível</text>
<text x="691.70" y="210.44" font-size="15.2" font-weight="bold" textLength="107.7" lengthAdjust="spacingAndGlyphs"><tspan fill="#1878CC">BETA </tspan><tspan fill="#FF0000">ALFA (</tspan><tspan fill="#1878CC">V</tspan><tspan fill="#FF0000">V)</tspan></text>
<text x="745.85" y="226.72" font-size="10.4" font-weight="bold" fill="#111" text-anchor="middle" textLength="73.7" lengthAdjust="spacingAndGlyphs" >4 Esfera mental</text>
<text x="745.60" y="241.01" font-size="11.2" font-weight="normal" fill="#CF5553" text-anchor="middle" textLength="111.2" lengthAdjust="spacingAndGlyphs"  stroke="#CF5553" stroke-width="0.28">2 DT - ascensão cósmica</text>
<text x="745.85" y="254.51" font-size="11.2" font-weight="normal" fill="#2A7FC8" text-anchor="middle" textLength="95.9" lengthAdjust="spacingAndGlyphs"  stroke="#2A7FC8" stroke-width="0.28">consciente contínuo</text>
<text x="745.15" y="268.41" font-size="11.2" font-weight="normal" fill="#222222" text-anchor="middle" textLength="119.7" lengthAdjust="spacingAndGlyphs"  stroke="#222222" stroke-width="0.28">Controle Mental Superior</text>
<text x="745.80" y="283.31" font-size="11.2" font-weight="normal" fill="#E8802A" text-anchor="middle" textLength="114.4" lengthAdjust="spacingAndGlyphs"  stroke="#E8802A" stroke-width="0.28">campo de força pleiades</text>
<text x="235.65" y="370.54" font-size="11" font-weight="bold" fill="#111" text-anchor="middle" textLength="81.9" lengthAdjust="spacingAndGlyphs" >HIPER-ELÉTRON</text>
<text x="235.80" y="385.52" font-size="10.4" font-weight="bold" fill="#111" text-anchor="middle" textLength="73.8" lengthAdjust="spacingAndGlyphs" >5 Esfera mental</text>
<text x="236.05" y="399.41" font-size="11.2" font-weight="bold" fill="#CF5553" text-anchor="middle" textLength="111.5" lengthAdjust="spacingAndGlyphs" >5 DT - devino masculino</text>
<text x="235.80" y="413.81" font-size="11.2" font-weight="normal" fill="#2A7FC8" text-anchor="middle" textLength="78.0" lengthAdjust="spacingAndGlyphs"  stroke="#2A7FC8" stroke-width="0.28">superconsciente</text>
<text x="235.80" y="427.11" font-size="11.2" font-weight="normal" fill="#222222" text-anchor="middle" textLength="76.4" lengthAdjust="spacingAndGlyphs"  stroke="#222222" stroke-width="0.28">Telepatiiva Ativa</text>
<text x="235.80" y="441.31" font-size="11.2" font-weight="normal" fill="#222222" text-anchor="middle" textLength="112.0" lengthAdjust="spacingAndGlyphs"  stroke="#222222" stroke-width="0.28">campo de força térmico</text>
<text x="235.35" y="455.61" font-size="11.2" font-weight="normal" fill="#E8802A" text-anchor="middle" textLength="87.7" lengthAdjust="spacingAndGlyphs"  stroke="#E8802A" stroke-width="0.28">campo de força AA</text>
<text x="698.55" y="367.34" font-size="11" font-weight="bold" fill="#111" text-anchor="middle" textLength="86.7" lengthAdjust="spacingAndGlyphs" >HIPER-NEUTRON</text>
<text x="698.50" y="381.52" font-size="10.4" font-weight="bold" fill="#111" text-anchor="middle" textLength="73.6" lengthAdjust="spacingAndGlyphs" >6 Esfera mental</text>
<text x="697.60" y="396.21" font-size="11.2" font-weight="bold" fill="#CF5553" text-anchor="middle" textLength="107.8" lengthAdjust="spacingAndGlyphs" >6 DT - devino feminino</text>
<text x="697.75" y="410.61" font-size="11.2" font-weight="normal" fill="#2A7FC8" text-anchor="middle" textLength="98.1" lengthAdjust="spacingAndGlyphs"  stroke="#2A7FC8" stroke-width="0.28">consciência sublimar</text>
<text x="698.10" y="423.71" font-size="11.2" font-weight="normal" fill="#222222" text-anchor="middle" textLength="85.8" lengthAdjust="spacingAndGlyphs"  stroke="#222222" stroke-width="0.28">Telepatia Sublimar</text>
<text x="697.90" y="438.11" font-size="11.2" font-weight="normal" fill="#222222" text-anchor="middle" textLength="115.2" lengthAdjust="spacingAndGlyphs"  stroke="#222222" stroke-width="0.28">campo de força luminico</text>
<text x="697.90" y="452.51" font-size="11.2" font-weight="normal" fill="#E8802A" text-anchor="middle" textLength="112.6" lengthAdjust="spacingAndGlyphs"  stroke="#E8802A" stroke-width="0.28">campo de força Antares</text>
<text x="171.40" y="555.14" font-size="15.2" font-weight="bold" textLength="107.8" lengthAdjust="spacingAndGlyphs"><tspan fill="#FF0000">ALFA </tspan><tspan fill="#1878CC">BETA (</tspan><tspan fill="#FF0000">V</tspan><tspan fill="#1878CC">V)</tspan></text>
<text x="225.55" y="570.52" font-size="10.4" font-weight="bold" fill="#111" text-anchor="middle" textLength="73.3" lengthAdjust="spacingAndGlyphs" >2 Esfera mental</text>
<text x="225.55" y="584.61" font-size="11.2" font-weight="normal" fill="#CF5553" text-anchor="middle" textLength="133.5" lengthAdjust="spacingAndGlyphs"  stroke="#CF5553" stroke-width="0.28">3 DT - sincronização cósmica</text>
<text x="225.20" y="598.21" font-size="11.2" font-weight="normal" fill="#2A7FC8" text-anchor="middle" textLength="68.8" lengthAdjust="spacingAndGlyphs"  stroke="#2A7FC8" stroke-width="0.28">subconsciente</text>
<text x="225.55" y="612.11" font-size="11.2" font-weight="normal" fill="#222222" text-anchor="middle" textLength="99.5" lengthAdjust="spacingAndGlyphs"  stroke="#222222" stroke-width="0.28">Samadhi &#160;Informativa</text>
<text x="226.10" y="626.31" font-size="11.2" font-weight="normal" fill="#E8802A" text-anchor="middle" textLength="112.6" lengthAdjust="spacingAndGlyphs"  stroke="#E8802A" stroke-width="0.28">campo de força invisível</text>
<text x="659.40" y="556.44" font-size="15.2" font-weight="bold" textLength="107.1" lengthAdjust="spacingAndGlyphs"><tspan fill="#1878CC">BETA BETA (VV)</tspan></text>
<text x="712.05" y="572.32" font-size="10.4" font-weight="bold" fill="#111" text-anchor="middle" textLength="73.9" lengthAdjust="spacingAndGlyphs" >3 Esfera mental</text>
<text x="711.60" y="586.51" font-size="11.2" font-weight="normal" fill="#CF5553" text-anchor="middle" textLength="92.8" lengthAdjust="spacingAndGlyphs"  stroke="#CF5553" stroke-width="0.28">4 DT - cubo cósmico</text>
<text x="712.00" y="600.01" font-size="11.2" font-weight="normal" fill="#2A7FC8" text-anchor="middle" textLength="52.0" lengthAdjust="spacingAndGlyphs"  stroke="#2A7FC8" stroke-width="0.28">consciente</text>
<text x="712.50" y="614.01" font-size="11.2" font-weight="normal" fill="#222222" text-anchor="middle" textLength="161.8" lengthAdjust="spacingAndGlyphs"  stroke="#222222" stroke-width="0.28">Mediunidade Consciente desperta</text>
<text x="712.25" y="628.31" font-size="11.2" font-weight="normal" fill="#E8802A" text-anchor="middle" textLength="99.5" lengthAdjust="spacingAndGlyphs"  stroke="#E8802A" stroke-width="0.28">campo de força sirius</text>
<text x="460.10" y="204.92" font-size="10.4" font-weight="bold" fill="#111" text-anchor="middle" textLength="73.8" lengthAdjust="spacingAndGlyphs" >7 Esfera mental</text>
<text x="460.35" y="219.62" font-size="10.4" font-weight="bold" fill="#111" text-anchor="middle" textLength="19.3" lengthAdjust="spacingAndGlyphs" >7 DT</text>
<text x="460.15" y="234.01" font-size="11.2" font-weight="normal" fill="#222222" text-anchor="middle" textLength="118.3" lengthAdjust="spacingAndGlyphs"  stroke="#222222" stroke-width="0.28">campo de força GM 108X</text>
<text x="467.60" y="602.42" font-size="10.4" font-weight="bold" fill="#111" text-anchor="middle" textLength="73.6" lengthAdjust="spacingAndGlyphs" >7 Esfera mental</text>
<text x="467.00" y="616.72" font-size="10.4" font-weight="bold" fill="#111" text-anchor="middle" textLength="20.0" lengthAdjust="spacingAndGlyphs" >8 DT</text>
<text x="467.05" y="631.51" font-size="11.2" font-weight="normal" fill="#222222" text-anchor="middle" textLength="116.5" lengthAdjust="spacingAndGlyphs"  stroke="#222222" stroke-width="0.28">campo de força Arcturus</text>
<line x1="210.31" y1="221.02" x2="188.80" y2="206.00" stroke="#111" stroke-width="1.8" />
<line x1="222.21" y1="215.20" x2="221.80" y2="200.40" stroke="#111" stroke-width="1.8" />
<line x1="234.90" y1="221.04" x2="256.50" y2="206.00" stroke="#111" stroke-width="1.8" />
<line x1="207.31" y1="230.02" x2="190.00" y2="230.50" stroke="#111" stroke-width="1.8" />
<line x1="210.86" y1="238.84" x2="187.80" y2="257.00" stroke="#111" stroke-width="1.8" />
<line x1="697.96" y1="220.96" x2="675.00" y2="204.50" stroke="#111" stroke-width="1.8" />
<line x1="710.16" y1="215.20" x2="710.00" y2="198.40" stroke="#111" stroke-width="1.8" />
<line x1="722.59" y1="220.90" x2="741.80" y2="207.00" stroke="#111" stroke-width="1.8" />
<line x1="725.80" y1="229.75" x2="743.70" y2="229.70" stroke="#111" stroke-width="1.8" />
<line x1="722.42" y1="238.90" x2="742.80" y2="254.20" stroke="#111" stroke-width="1.8" />
<line x1="209.97" y1="594.81" x2="186.40" y2="579.20" stroke="#111" stroke-width="1.8" />
<line x1="206.68" y1="604.71" x2="187.30" y2="606.40" stroke="#111" stroke-width="1.8" />
<line x1="211.09" y1="612.91" x2="188.20" y2="631.70" stroke="#111" stroke-width="1.8" />
<line x1="221.68" y1="617.17" x2="220.70" y2="629.30" stroke="#111" stroke-width="1.8" />
<line x1="234.48" y1="612.93" x2="256.50" y2="631.10" stroke="#111" stroke-width="1.8" />
<line x1="722.75" y1="593.83" x2="742.40" y2="580.00" stroke="#111" stroke-width="1.8" />
<line x1="726.40" y1="604.10" x2="741.50" y2="605.50" stroke="#111" stroke-width="1.8" />
<line x1="721.84" y1="612.22" x2="743.40" y2="630.20" stroke="#111" stroke-width="1.8" />
<line x1="710.15" y1="616.30" x2="710.00" y2="630.20" stroke="#111" stroke-width="1.8" />
<line x1="698.70" y1="612.16" x2="677.90" y2="629.30" stroke="#111" stroke-width="1.8" />
<ellipse cx="296.00" cy="370.50" rx="12.50" ry="12.20" fill="#FFFF00" stroke="#111" stroke-width="1.6" />
<text x="296.20" y="374.12" font-size="9" font-weight="normal" fill="#3a3000" text-anchor="middle" stroke="#3a3000" stroke-width="0.35">E</text>
<ellipse cx="761.90" cy="362.80" rx="12.80" ry="12.00" fill="#FFFF00" stroke="#111" stroke-width="1.6" />
<text x="762.00" y="366.42" font-size="9" font-weight="normal" fill="#3a3000" text-anchor="middle" stroke="#3a3000" stroke-width="0.3">N</text>
<text x="223.00" y="181.08" font-size="14.2" font-weight="bold" fill="#111" text-anchor="middle" textLength="14.0" lengthAdjust="spacingAndGlyphs" >-9</text>
<text x="187.30" y="314.08" font-size="14.2" font-weight="bold" fill="#111" text-anchor="middle" textLength="17.0" lengthAdjust="spacingAndGlyphs" >+2</text>
<text x="466.60" y="181.50" font-size="14.8" font-weight="bold" fill="#111" text-anchor="middle" textLength="17.3" lengthAdjust="spacingAndGlyphs" >84</text>
<text x="605.50" y="314.08" font-size="14.2" font-weight="bold" fill="#111" text-anchor="middle" >6</text>
<text x="782.30" y="341.58" font-size="14.2" font-weight="bold" fill="#111" text-anchor="middle" textLength="23.4" lengthAdjust="spacingAndGlyphs" >-26</text>
<text x="328.30" y="501.48" font-size="14.2" font-weight="bold" fill="#111" text-anchor="middle" textLength="22.3" lengthAdjust="spacingAndGlyphs" >-11</text>
<text x="396.50" y="501.08" font-size="14.2" font-weight="bold" fill="#111" text-anchor="middle" textLength="15.0" lengthAdjust="spacingAndGlyphs" >15</text>
<text x="503.00" y="501.08" font-size="14.2" font-weight="bold" fill="#111" text-anchor="middle" textLength="17.0" lengthAdjust="spacingAndGlyphs" >74</text>
<text x="466.80" y="500.82" font-size="11.8" font-weight="bold" fill="#111" text-anchor="middle" textLength="24.0" lengthAdjust="spacingAndGlyphs" >E 90</text>
<text x="467.20" y="340.62" font-size="11.8" font-weight="bold" fill="#111" text-anchor="middle" textLength="25.0" lengthAdjust="spacingAndGlyphs" >81 N</text>
<text x="258.80" y="421.37" font-size="15" font-weight="bold" fill="#111" text-anchor="middle" >5</text>
<text x="640.50" y="529.08" font-size="14.2" font-weight="bold" fill="#111" text-anchor="middle" textLength="15.0" lengthAdjust="spacingAndGlyphs" >+7</text>
<text x="571.50" y="581.58" font-size="14.2" font-weight="bold" fill="#111" text-anchor="middle" textLength="13.0" lengthAdjust="spacingAndGlyphs" >-7</text>
<text x="571.50" y="608.58" font-size="14.2" font-weight="bold" fill="#111" text-anchor="middle" textLength="13.0" lengthAdjust="spacingAndGlyphs" >-6</text>
<text x="710.40" y="608.59" font-size="14.5" font-weight="normal" fill="#111" text-anchor="middle" textLength="16.0" lengthAdjust="spacingAndGlyphs" >52</text>
<text x="640.50" y="661.88" font-size="14.2" font-weight="bold" fill="#111" text-anchor="middle" textLength="13.6" lengthAdjust="spacingAndGlyphs" >-3</text>
<text x="605.00" y="689.28" font-size="14.2" font-weight="bold" fill="#111" text-anchor="middle" textLength="13.0" lengthAdjust="spacingAndGlyphs" >-1</text>
<path transform="translate(356.00,412.00)" d="M3.5 1.4 C6 1.6 9.4 2.6 9.4 4.6 C9.4 6.3 7.4 7 5.8 7.2 C8.4 7.4 10.3 8.5 10.3 10.4 C10.3 12.9 7 13.8 4.6 13.8 C2.6 13.8 1.2 12.8 1.2 11.2" fill="none" stroke="#F00000" stroke-width="2.5" stroke-linecap="round" stroke-linejoin="round"/>
<path transform="translate(565.60,412.00)" d="M3.5 1.4 C6 1.6 9.4 2.6 9.4 4.6 C9.4 6.3 7.4 7 5.8 7.2 C8.4 7.4 10.3 8.5 10.3 10.4 C10.3 12.9 7 13.8 4.6 13.8 C2.6 13.8 1.2 12.8 1.2 11.2" fill="none" stroke="#3B68B0" stroke-width="2.5" stroke-linecap="round" stroke-linejoin="round"/>
<ellipse cx="379.80" cy="178.20" rx="17.80" ry="15.70" fill="rgba(235,235,235,0.42)" stroke="#5588CC" stroke-width="1.9" />
<text x="379.80" y="184.44" font-size="16.3" font-weight="bold" fill="#111" text-anchor="middle" >7</text>
<ellipse cx="383.90" cy="369.40" rx="19.40" ry="19.20" fill="rgba(110,140,190,0.4)" stroke="#4F81BD" stroke-width="1.9" />
<text x="383.60" y="375.18" font-size="15.6" font-weight="normal" fill="#111" text-anchor="middle" >9</text>
<ellipse cx="381.60" cy="621.70" rx="19.80" ry="19.00" fill="rgba(120,140,180,0.4)" stroke="#4F81BD" stroke-width="1.9" />
<text x="380.50" y="628.68" font-size="15.6" font-weight="normal" fill="#111" text-anchor="middle" >8</text>
<text x="326.35" y="37.66" font-size="22.5" font-weight="bold" fill="#000" text-anchor="middle" textLength="307.3" lengthAdjust="spacingAndGlyphs" >ATIVAÇÃO SYNCHRONOTRON</text>
<text x="641.00" y="37.66" font-size="22.5" font-weight="bold" fill="#000" text-anchor="middle" textLength="108.0" lengthAdjust="spacingAndGlyphs" >NS1.37.8.6</text>
<text x="781.95" y="37.66" font-size="22.5" font-weight="bold" fill="#000" text-anchor="middle" textLength="76.1" lengthAdjust="spacingAndGlyphs" >KIN 220</text>
<text x="117.03" y="124.43" font-size="10.7" font-weight="normal" fill="#222" text-anchor="middle" >V1</text>
<text x="117.03" y="711.43" font-size="10.7" font-weight="normal" fill="#222" text-anchor="middle" >V1</text>
<text x="151.60" y="124.43" font-size="10.7" font-weight="normal" fill="#222" text-anchor="middle" >V2</text>
<text x="151.60" y="712.33" font-size="10.7" font-weight="normal" fill="#222" text-anchor="middle" >V2</text>
<text x="187.30" y="124.43" font-size="10.7" font-weight="normal" fill="#222" text-anchor="middle" >V3</text>
<text x="187.30" y="712.33" font-size="10.7" font-weight="normal" fill="#222" text-anchor="middle" >V3</text>
<text x="222.90" y="124.43" font-size="10.7" font-weight="normal" fill="#222" text-anchor="middle" >V4</text>
<text x="222.90" y="712.33" font-size="10.7" font-weight="normal" fill="#222" text-anchor="middle" >V4</text>
<text x="258.50" y="124.43" font-size="10.7" font-weight="normal" fill="#222" text-anchor="middle" >V5</text>
<text x="258.50" y="712.33" font-size="10.7" font-weight="normal" fill="#222" text-anchor="middle" >V5</text>
<text x="293.40" y="124.43" font-size="10.7" font-weight="normal" fill="#222" text-anchor="middle" >V6</text>
<text x="293.40" y="711.13" font-size="10.7" font-weight="normal" fill="#222" text-anchor="middle" >V6</text>
<text x="328.20" y="124.43" font-size="10.7" font-weight="normal" fill="#222" text-anchor="middle" >V7</text>
<text x="328.20" y="712.33" font-size="10.7" font-weight="normal" fill="#222" text-anchor="middle" >V7</text>
<text x="362.80" y="124.43" font-size="10.7" font-weight="normal" fill="#222" text-anchor="middle" >V8</text>
<text x="362.80" y="711.43" font-size="10.7" font-weight="normal" fill="#222" text-anchor="middle" >V8</text>
<text x="396.30" y="124.43" font-size="10.7" font-weight="normal" fill="#222" text-anchor="middle" >V9</text>
<text x="396.30" y="711.43" font-size="10.7" font-weight="normal" fill="#222" text-anchor="middle" >V9</text>
<text x="431.15" y="124.43" font-size="10.7" font-weight="normal" fill="#222" text-anchor="middle" >V10</text>
<text x="431.15" y="712.33" font-size="10.7" font-weight="normal" fill="#222" text-anchor="middle" >V10</text>
<text x="466.95" y="712.33" font-size="10.7" font-weight="normal" fill="#222" text-anchor="middle" >V11</text>
<text x="502.25" y="124.43" font-size="10.7" font-weight="normal" fill="#222" text-anchor="middle" >V12</text>
<text x="502.25" y="712.33" font-size="10.7" font-weight="normal" fill="#222" text-anchor="middle" >V12</text>
<text x="537.05" y="124.43" font-size="10.7" font-weight="normal" fill="#222" text-anchor="middle" >V13</text>
<text x="537.05" y="711.43" font-size="10.7" font-weight="normal" fill="#222" text-anchor="middle" >V13</text>
<text x="571.23" y="124.43" font-size="10.7" font-weight="normal" fill="#222" text-anchor="middle" >V14</text>
<text x="571.23" y="711.43" font-size="10.7" font-weight="normal" fill="#222" text-anchor="middle" >V14</text>
<text x="605.88" y="124.43" font-size="10.7" font-weight="normal" fill="#222" text-anchor="middle" >V15</text>
<text x="605.88" y="712.33" font-size="10.7" font-weight="normal" fill="#222" text-anchor="middle" >V15</text>
<text x="640.45" y="124.43" font-size="10.7" font-weight="normal" fill="#222" text-anchor="middle" >V16</text>
<text x="640.45" y="711.43" font-size="10.7" font-weight="normal" fill="#222" text-anchor="middle" >V16</text>
<text x="675.30" y="124.43" font-size="10.7" font-weight="normal" fill="#222" text-anchor="middle" >V17</text>
<text x="675.30" y="712.33" font-size="10.7" font-weight="normal" fill="#222" text-anchor="middle" >V17</text>
<text x="710.90" y="124.43" font-size="10.7" font-weight="normal" fill="#222" text-anchor="middle" >V18</text>
<text x="710.90" y="712.33" font-size="10.7" font-weight="normal" fill="#222" text-anchor="middle" >V18</text>
<text x="746.50" y="124.43" font-size="10.7" font-weight="normal" fill="#222" text-anchor="middle" >V19</text>
<text x="746.50" y="712.33" font-size="10.7" font-weight="normal" fill="#222" text-anchor="middle" >V19</text>
<text x="782.20" y="124.43" font-size="10.7" font-weight="normal" fill="#222" text-anchor="middle" >V20</text>
<text x="782.20" y="712.33" font-size="10.7" font-weight="normal" fill="#222" text-anchor="middle" >V20</text>
<text x="816.95" y="124.43" font-size="10.7" font-weight="normal" fill="#222" text-anchor="middle" >V21</text>
<text x="816.95" y="711.43" font-size="10.7" font-weight="normal" fill="#222" text-anchor="middle" >V21</text>
<text x="97.70" y="152.79" font-size="11.0" font-weight="normal" fill="#222" text-anchor="end" >H1</text>
<text x="847.80" y="152.79" font-size="11.0" font-weight="normal" fill="#222" text-anchor="middle" >H1</text>
<text x="97.70" y="179.49" font-size="11.0" font-weight="normal" fill="#222" text-anchor="end" >H2</text>
<text x="847.80" y="179.49" font-size="11.0" font-weight="normal" fill="#222" text-anchor="middle" >H2</text>
<text x="97.70" y="206.34" font-size="11.0" font-weight="normal" fill="#222" text-anchor="end" >H3</text>
<text x="847.80" y="206.34" font-size="11.0" font-weight="normal" fill="#222" text-anchor="middle" >H3</text>
<text x="97.70" y="232.74" font-size="11.0" font-weight="normal" fill="#222" text-anchor="end" >H4</text>
<text x="847.80" y="232.74" font-size="11.0" font-weight="normal" fill="#222" text-anchor="middle" >H4</text>
<text x="97.70" y="259.69" font-size="11.0" font-weight="normal" fill="#222" text-anchor="end" >H5</text>
<text x="847.80" y="259.69" font-size="11.0" font-weight="normal" fill="#222" text-anchor="middle" >H5</text>
<text x="97.70" y="286.64" font-size="11.0" font-weight="normal" fill="#222" text-anchor="end" >H6</text>
<text x="847.80" y="286.64" font-size="11.0" font-weight="normal" fill="#222" text-anchor="middle" >H6</text>
<text x="97.70" y="313.09" font-size="11.0" font-weight="normal" fill="#222" text-anchor="end" >H7</text>
<text x="847.80" y="313.09" font-size="11.0" font-weight="normal" fill="#222" text-anchor="middle" >H7</text>
<text x="97.70" y="339.69" font-size="11.0" font-weight="normal" fill="#222" text-anchor="end" >H8</text>
<text x="847.80" y="339.69" font-size="11.0" font-weight="normal" fill="#222" text-anchor="middle" >H8</text>
<text x="97.70" y="366.29" font-size="11.0" font-weight="normal" fill="#222" text-anchor="end" >H9</text>
<text x="847.80" y="366.29" font-size="11.0" font-weight="normal" fill="#222" text-anchor="middle" >H9</text>
<text x="97.70" y="392.79" font-size="11.0" font-weight="normal" fill="#222" text-anchor="end" >H10</text>
<text x="847.80" y="392.79" font-size="11.0" font-weight="normal" fill="#222" text-anchor="middle" >H10</text>
<text x="97.70" y="419.59" font-size="11.0" font-weight="normal" fill="#222" text-anchor="end" >H11</text>
<text x="847.80" y="419.59" font-size="11.0" font-weight="normal" fill="#222" text-anchor="middle" >H11</text>
<text x="97.70" y="446.44" font-size="11.0" font-weight="normal" fill="#222" text-anchor="end" >H12</text>
<text x="847.80" y="446.44" font-size="11.0" font-weight="normal" fill="#222" text-anchor="middle" >H12</text>
<text x="97.70" y="473.34" font-size="11.0" font-weight="normal" fill="#222" text-anchor="end" >H13</text>
<text x="847.80" y="473.34" font-size="11.0" font-weight="normal" fill="#222" text-anchor="middle" >H13</text>
<text x="97.70" y="500.04" font-size="11.0" font-weight="normal" fill="#222" text-anchor="end" >H14</text>
<text x="847.80" y="500.04" font-size="11.0" font-weight="normal" fill="#222" text-anchor="middle" >H14</text>
<text x="97.70" y="526.69" font-size="11.0" font-weight="normal" fill="#222" text-anchor="end" >H15</text>
<text x="847.80" y="526.69" font-size="11.0" font-weight="normal" fill="#222" text-anchor="middle" >H15</text>
<text x="97.70" y="553.54" font-size="11.0" font-weight="normal" fill="#222" text-anchor="end" >H16</text>
<text x="847.80" y="553.54" font-size="11.0" font-weight="normal" fill="#222" text-anchor="middle" >H16</text>
<text x="97.70" y="580.34" font-size="11.0" font-weight="normal" fill="#222" text-anchor="end" >H17</text>
<text x="847.80" y="580.34" font-size="11.0" font-weight="normal" fill="#222" text-anchor="middle" >H17</text>
<text x="97.70" y="606.94" font-size="11.0" font-weight="normal" fill="#222" text-anchor="end" >H18</text>
<text x="847.80" y="606.94" font-size="11.0" font-weight="normal" fill="#222" text-anchor="middle" >H18</text>
<text x="97.70" y="633.54" font-size="11.0" font-weight="normal" fill="#222" text-anchor="end" >H19</text>
<text x="847.80" y="633.54" font-size="11.0" font-weight="normal" fill="#222" text-anchor="middle" >H19</text>
<text x="97.70" y="660.29" font-size="11.0" font-weight="normal" fill="#222" text-anchor="end" >H20</text>
<text x="847.80" y="660.29" font-size="11.0" font-weight="normal" fill="#222" text-anchor="middle" >H20</text>
<text x="97.70" y="686.94" font-size="11.0" font-weight="normal" fill="#222" text-anchor="end" >H21</text>
<text x="847.80" y="686.94" font-size="11.0" font-weight="normal" fill="#222" text-anchor="middle" >H21</text>
<text x="134.75" y="75.77" font-size="13.6" font-weight="bold" fill="#111" text-anchor="middle" textLength="62.5" lengthAdjust="spacingAndGlyphs" >corpo 4D</text>
<text x="256.50" y="75.77" font-size="13.6" font-weight="normal" fill="#111" text-anchor="middle" textLength="171.6" lengthAdjust="spacingAndGlyphs" >(corpo de destino / holon</text>
<text x="223.15" y="97.37" font-size="13.6" font-weight="normal" fill="#111" text-anchor="middle" textLength="61.7" lengthAdjust="spacingAndGlyphs" >/ etérico)</text>
<text x="396.60" y="75.77" font-size="13.6" font-weight="bold" fill="#111" text-anchor="middle" textLength="62.2" lengthAdjust="spacingAndGlyphs" >corpo 5D</text>
<text x="501.25" y="75.77" font-size="13.6" font-weight="normal" fill="#111" text-anchor="middle" textLength="137.5" lengthAdjust="spacingAndGlyphs" >(corpo arco-iris / ser</text>
<text x="466.62" y="97.37" font-size="13.6" font-weight="normal" fill="#111" text-anchor="middle" textLength="205.8" lengthAdjust="spacingAndGlyphs" >eletrônico superior - radiânça)</text>
<text x="636.10" y="75.77" font-size="13.6" font-weight="bold" fill="#111" text-anchor="middle" textLength="62.0" lengthAdjust="spacingAndGlyphs" >corpo 3D</text>
<text x="735.30" y="75.77" font-size="13.6" font-weight="normal" fill="#111" text-anchor="middle" textLength="126.4" lengthAdjust="spacingAndGlyphs" >(corpo do templo /</text>
<text x="702.50" y="97.37" font-size="13.6" font-weight="normal" fill="#111" text-anchor="middle" textLength="79.5" lengthAdjust="spacingAndGlyphs" >&quot;ser&quot; físico)</text>
<ellipse cx="467.00" cy="115.75" rx="18.25" ry="16.30" fill="#FFC000" stroke="#7F9640" stroke-width="1.8" />
<text x="467.00" y="121.70" font-size="15.5" font-weight="bold" fill="#111" text-anchor="middle" >7</text>
<text x="223.20" y="737.01" font-size="14.0" font-weight="bold" fill="#111" text-anchor="middle" textLength="62.4" lengthAdjust="spacingAndGlyphs" >corpo 4D</text>
<text x="466.75" y="737.01" font-size="14.0" font-weight="bold" fill="#111" text-anchor="middle" textLength="62.5" lengthAdjust="spacingAndGlyphs" >corpo 5D</text>
<text x="710.85" y="737.01" font-size="14.0" font-weight="bold" fill="#111" text-anchor="middle" textLength="62.3" lengthAdjust="spacingAndGlyphs" >corpo 3D</text>
<ellipse cx="544.20" cy="737.00" rx="18.50" ry="18.00" fill="#FFC000" stroke="#7F9640" stroke-width="1.8" />
<text x="544.20" y="742.95" font-size="15.5" font-weight="bold" fill="#111" text-anchor="middle" >7</text>
<rect x="258.10" y="718.70" width="52.90" height="30.30" fill="#fff" />
<g transform="translate(258.10,718.70) scale(1.0000,1.0033)">
<path d="M12 5 L14 8.5 M17.5 4 L18.7 7.5 M22 3 L23.2 6.5 M27 2.5 L28.5 6 M33 2.5 L34 6 M38.5 2 L39 6 M44.5 2 L43.5 7 M50 5.5 L47.3 9" stroke="#d4d4d4" stroke-width="0.9" fill="none" stroke-linecap="round"/>
<path d="M5.6 9.2 C9 12.3 14 12 18 11 C24 9.3 30 7.2 33.5 7.2 C40 7.2 45.5 10 48.9 14.4 C45 11.6 40 9.8 33.5 9.8 C28 10 22 12.6 18.2 13.8 C12 14.8 7.5 13.8 5.6 9.2 Z" fill="#9C1A8C"/>
<path d="M18.2 13.8 C24 11.4 29 10 33.5 9.8 C40 9.8 45 11.6 48.9 14.7 Z" fill="#4CC9C9"/>
<path d="M19 14.2 C22 20 28 23.6 35.7 23.8 C42 23.8 47 19.4 48.8 15" fill="#fff" stroke="#666" stroke-width="0.8"/>
<ellipse cx="35.7" cy="17.9" rx="5.6" ry="3.7" fill="#5BBBE8"/>
<circle cx="35.7" cy="17.9" r="2.6" fill="#fff"/>
<circle cx="35.7" cy="17.9" r="1.2" fill="#000"/>
<path d="M22.9 18.3 L24.5 19.6 M27.3 20.9 L29.2 21.8 M33.5 22.7 L35.2 22.8 M40.3 22.5 L42 22.1" stroke="#111" stroke-width="1.7" fill="none" stroke-linecap="round"/>
</g>
<rect x="614.20" y="719.80" width="47.70" height="30.00" fill="#fff" />
<g transform="translate(614.20,719.80) scale(1.0000,1.0000)">
<path d="M10 2.5 L11.5 7 M15 2 L16 6.5 M20.5 2 L21 6 M27 2 L26.5 6 M33 2.5 L31.5 6.5 M37.5 3.5 L35.5 7.5 M41 4 L38.5 8.5 M1 16 L3 14" stroke="#d4d4d4" stroke-width="0.9" fill="none" stroke-linecap="round"/>
<path d="M6.5 14.5 C8.5 12 10.5 10.5 12.3 9.7 C15 8.2 17 7.4 19.1 7.3 C22 7 25 7 27.3 7.3 C31 7.8 33.5 9 35.5 9.7 C37.5 10.3 38.5 10.3 39.6 10 C42 9.3 43.5 8 44.4 6.6 C44.6 8.2 44.3 9.6 43.7 10.7 C42.5 12.6 41 13.5 39.6 13.8 C38 14.2 36.8 14.2 35.5 14.1 C33.5 12.8 32 12 30 11.4 C27.5 10.6 25 10.3 22.5 10.4 C19.5 10.5 17 10.8 14.3 11.4 C11 12.3 8.5 13.4 6.5 14.5 Z" fill="#9C1A8C"/>
<path d="M6.8 14.6 C8.5 13.4 11 12.3 14.3 11.4 C17 10.8 19.5 10.5 22.5 10.4 C25 10.3 27.5 10.6 30 11.4 C32 12 33.5 12.8 35.5 14.1 C30 15.2 15 15.4 6.8 14.6 Z" fill="#4CC9C9"/>
<path d="M6.6 14.9 C8 19.5 12 23.3 20 24 C27 24.3 33 21 36.5 17 C38 15.5 39.5 14.6 41 14" fill="#fff" stroke="#666" stroke-width="0.8"/>
<ellipse cx="19.8" cy="18.3" rx="5.6" ry="3.7" fill="#5BBBE8"/>
<circle cx="19.8" cy="18.3" r="2.6" fill="#fff"/>
<circle cx="19.8" cy="18.3" r="1.2" fill="#000"/>
<path d="M13.6 22 L15.2 22.8 M19.7 23.4 L21.3 23.4 M25.9 22.1 L27.5 21.3 M30.4 19.8 L31.8 18.8" stroke="#111" stroke-width="1.7" fill="none" stroke-linecap="round"/>
</g>
<ellipse cx="890.10" cy="95.50" rx="39.40" ry="37.20" fill="#FFC000" stroke="#7F9640" stroke-width="1.8" />
<text x="889.40" y="92.75" font-size="11.6" font-weight="bold" fill="#111" text-anchor="middle" textLength="31.2" lengthAdjust="spacingAndGlyphs" >esfera</text>
<text x="890.35" y="107.75" font-size="11.6" font-weight="bold" fill="#111" text-anchor="middle" textLength="36.3" lengthAdjust="spacingAndGlyphs" >mental</text>
<ellipse cx="971.50" cy="95.90" rx="37.00" ry="36.10" fill="#F4F8FC" stroke="#4A7EBB" stroke-width="1.8" />
<text x="971.00" y="87.33" font-size="9.3" font-weight="bold" fill="#111" text-anchor="middle" textLength="30.0" lengthAdjust="spacingAndGlyphs" >dimen-</text>
<text x="971.25" y="100.63" font-size="9.3" font-weight="bold" fill="#111" text-anchor="middle" textLength="27.5" lengthAdjust="spacingAndGlyphs" >são do</text>
<text x="970.75" y="113.23" font-size="9.3" font-weight="bold" fill="#111" text-anchor="middle" textLength="28.5" lengthAdjust="spacingAndGlyphs" >tempo</text>
<rect x="863.4" y="146.5" width="149.00" height="40.80" rx="6.5" ry="6.5" fill="#4F81BD" stroke="#222" stroke-width="1.1" stroke-dasharray="3.2 2"/>
<text x="937.70" y="163.19" font-size="10.6" font-weight="normal" fill="#fff" text-anchor="middle" textLength="84.6" lengthAdjust="spacingAndGlyphs" >FLUXO DO TEMPO</text>
<text x="937.15" y="177.79" font-size="10.6" font-weight="normal" fill="#fff" text-anchor="middle" textLength="44.7" lengthAdjust="spacingAndGlyphs" >EXTERIOR</text>
<text x="890.85" y="207.56" font-size="10.4" font-weight="bold" fill="#000" text-anchor="middle" textLength="34.1" lengthAdjust="spacingAndGlyphs" stroke="#000" stroke-width="0.5">coroa</text>
<text x="919.80" y="233.29" font-size="13.2" font-weight="bold" fill="#111" text-anchor="middle" textLength="92.0" lengthAdjust="spacingAndGlyphs" >(plano biopsicico)</text>
<ellipse cx="892.40" cy="260.90" rx="17.60" ry="16.00" fill="#DCD9EA" stroke="#4A7EBB" stroke-width="1.8" />
<text x="892.40" y="266.88" font-size="15.6" font-weight="bold" fill="#111" text-anchor="middle" >2</text>
<ellipse cx="939.40" cy="259.10" rx="17.20" ry="16.20" fill="#FFC000" stroke="#7F9640" stroke-width="1.8" />
<text x="939.40" y="265.08" font-size="15.6" font-weight="bold" fill="#111" text-anchor="middle" >4</text>
<rect x="875.2" y="279.8" width="137.20" height="49.40" rx="7" ry="7" fill="#FFCCCC" stroke="#444" stroke-width="1.1" stroke-dasharray="3.2 2"/>
<text x="942.60" y="301.59" font-size="10.6" font-weight="normal" fill="#222" text-anchor="middle" textLength="63.2" lengthAdjust="spacingAndGlyphs" >CIRCUÍTO PES</text>
<text x="943.15" y="315.79" font-size="10.6" font-weight="normal" fill="#222" text-anchor="middle" textLength="115.1" lengthAdjust="spacingAndGlyphs" >HEXADIMENSIONAL (6D)</text>
<rect x="866" y="332.5" width="147.00" height="49.00" rx="7" ry="7" fill="#F2C670" stroke="#444" stroke-width="1.1" stroke-dasharray="3.2 2"/>
<text x="938.10" y="353.79" font-size="10.6" font-weight="normal" fill="#222" text-anchor="middle" textLength="87.8" lengthAdjust="spacingAndGlyphs" >FLUXO DO ESPAÇO</text>
<text x="938.85" y="367.99" font-size="10.6" font-weight="normal" fill="#222" text-anchor="middle" textLength="124.3" lengthAdjust="spacingAndGlyphs" >EXTERIOR HIPERPLÁSMICO</text>
<text x="896.55" y="398.56" font-size="10.4" font-weight="bold" fill="#000" text-anchor="middle" textLength="47.5" lengthAdjust="spacingAndGlyphs" stroke="#000" stroke-width="0.5">coração</text>
<text x="936.75" y="424.69" font-size="13.2" font-weight="bold" fill="#111" text-anchor="middle" textLength="125.9" lengthAdjust="spacingAndGlyphs" >(plano eletromagnético)</text>
<ellipse cx="948.70" cy="451.40" rx="16.70" ry="15.20" fill="#FFC000" stroke="#7F9640" stroke-width="1.8" />
<text x="948.70" y="457.38" font-size="15.6" font-weight="bold" fill="#111" text-anchor="middle" >6</text>
<ellipse cx="947.70" cy="486.30" rx="16.70" ry="15.40" fill="#F2F6FB" stroke="#4A7EBB" stroke-width="1.8" />
<text x="947.70" y="492.28" font-size="15.6" font-weight="bold" fill="#111" text-anchor="middle" >6</text>
<rect x="859.5" y="517.5" width="153.50" height="43.00" rx="7" ry="7" fill="#9BBB59" stroke="#333" stroke-width="1.1" stroke-dasharray="3.2 2"/>
<text x="935.20" y="536.39" font-size="10.6" font-weight="normal" fill="#222" text-anchor="middle" textLength="119.2" lengthAdjust="spacingAndGlyphs" >CIRCUÍTO DE COORDENA-</text>
<text x="935.30" y="550.79" font-size="10.6" font-weight="normal" fill="#222" text-anchor="middle" textLength="79.8" lengthAdjust="spacingAndGlyphs" >ÇÃO DE 5. FORÇA</text>
<text x="884.70" y="584.76" font-size="10.4" font-weight="bold" fill="#000" text-anchor="middle" textLength="21.0" lengthAdjust="spacingAndGlyphs" stroke="#000" stroke-width="0.5">raiz</text>
<ellipse cx="935.70" cy="579.20" rx="18.30" ry="16.80" fill="#F4F8FC" stroke="#4A7EBB" stroke-width="1.8" />
<text x="935.70" y="585.33" font-size="16" font-weight="bold" fill="#111" text-anchor="middle" >4</text>
<ellipse cx="978.30" cy="579.20" rx="16.90" ry="16.20" fill="#FFC000" stroke="#7F9640" stroke-width="1.8" />
<text x="978.30" y="585.33" font-size="16" font-weight="bold" fill="#111" text-anchor="middle" >3</text>
<text x="927.40" y="606.89" font-size="13.2" font-weight="bold" fill="#111" text-anchor="middle" textLength="107.2" lengthAdjust="spacingAndGlyphs" >(plano gravitacional)</text>
<rect x="907.5" y="629.6" width="105.90" height="52.00" rx="8" ry="8" fill="#C3D69B" stroke="#333" stroke-width="1.1" stroke-dasharray="3.2 2"/>
<text x="959.15" y="652.39" font-size="10.6" font-weight="normal" fill="#222" text-anchor="middle" textLength="75.7" lengthAdjust="spacingAndGlyphs" >MATRIZ NÚCLEO</text>
<text x="959.35" y="666.29" font-size="10.6" font-weight="normal" fill="#222" text-anchor="middle" textLength="79.3" lengthAdjust="spacingAndGlyphs" >INTERGALÁCTICA</text>
<rect x="878" y="703.7" width="136.00" height="45.90" rx="8" ry="8" fill="#D7E4BD" stroke="#333" stroke-width="1.1" stroke-dasharray="3.2 2"/>
<text x="945.45" y="723.19" font-size="10.6" font-weight="normal" fill="#222" text-anchor="middle" textLength="95.5" lengthAdjust="spacingAndGlyphs" >MATRIZ RADIAL DOS</text>
<text x="945.45" y="737.29" font-size="10.6" font-weight="normal" fill="#222" text-anchor="middle" textLength="45.7" lengthAdjust="spacingAndGlyphs" >SENTIDOS</text>
<line x1="811.50" y1="149.50" x2="863.40" y2="166.70" stroke="#333" stroke-width="1" stroke-dasharray="3.5 2.5"/>
<line x1="777.50" y1="309.30" x2="834.00" y2="305.70" stroke="#333" stroke-width="1" stroke-dasharray="3.5 2.5"/>
<line x1="834.00" y1="305.70" x2="875.20" y2="304.00" stroke="#333" stroke-width="1" stroke-dasharray="3.5 2.5"/>
<line x1="784.00" y1="363.00" x2="834.00" y2="359.30" stroke="#333" stroke-width="1" stroke-dasharray="3.5 2.5"/>
<line x1="834.00" y1="359.30" x2="866.00" y2="357.40" stroke="#333" stroke-width="1" stroke-dasharray="3.5 2.5"/>
<line x1="783.00" y1="553.70" x2="859.50" y2="539.00" stroke="#333" stroke-width="1" stroke-dasharray="3.5 2.5"/>
<line x1="682.00" y1="553.70" x2="907.50" y2="656.00" stroke="#333" stroke-width="1" stroke-dasharray="3.5 2.5"/>
<line x1="743.70" y1="629.60" x2="878.00" y2="727.00" stroke="#333" stroke-width="1" stroke-dasharray="3.5 2.5"/>
<ellipse cx="47.60" cy="184.00" rx="16.50" ry="15.00" fill="#FFC000" stroke="#7F9640" stroke-width="1.8" />
<text x="47.60" y="189.98" font-size="15.6" font-weight="bold" fill="#111" text-anchor="middle" >1</text>
<text x="49.00" y="237.96" font-size="10.4" font-weight="bold" fill="#000" text-anchor="middle" textLength="34.2" lengthAdjust="spacingAndGlyphs" stroke="#000" stroke-width="0.5">coroa</text>
<ellipse cx="45.80" cy="275.00" rx="15.70" ry="14.60" fill="#DCD9EA" stroke="#4A7EBB" stroke-width="1.8" />
<text x="45.80" y="280.98" font-size="15.6" font-weight="bold" fill="#111" text-anchor="middle" >1</text>
<ellipse cx="40.00" cy="398.00" rx="16.00" ry="16.00" fill="#FFC000" stroke="#7F9640" stroke-width="1.8" />
<text x="40.00" y="404.13" font-size="16" font-weight="bold" fill="#111" text-anchor="middle" >5</text>
<text x="42.45" y="424.16" font-size="10.4" font-weight="bold" fill="#000" text-anchor="middle" textLength="47.3" lengthAdjust="spacingAndGlyphs" stroke="#000" stroke-width="0.5">coração</text>
<ellipse cx="40.00" cy="452.50" rx="16.50" ry="16.50" fill="#F4F8FC" stroke="#4A7EBB" stroke-width="1.8" />
<text x="40.00" y="458.63" font-size="16" font-weight="bold" fill="#111" text-anchor="middle" >5</text>
<ellipse cx="44.00" cy="552.80" rx="16.00" ry="16.00" fill="#FFC000" stroke="#7F9640" stroke-width="1.8" />
<text x="44.00" y="558.93" font-size="16" font-weight="bold" fill="#111" text-anchor="middle" >2</text>
<text x="56.60" y="612.36" font-size="10.4" font-weight="bold" fill="#000" text-anchor="middle" textLength="21.8" lengthAdjust="spacingAndGlyphs" stroke="#000" stroke-width="0.5">raiz</text>
<ellipse cx="46.50" cy="653.50" rx="16.50" ry="16.50" fill="#F4F8FC" stroke="#4A7EBB" stroke-width="1.8" />
<text x="46.50" y="659.63" font-size="16" font-weight="bold" fill="#111" text-anchor="middle" >3</text>
<!--END-->
</svg>
</body></html>
